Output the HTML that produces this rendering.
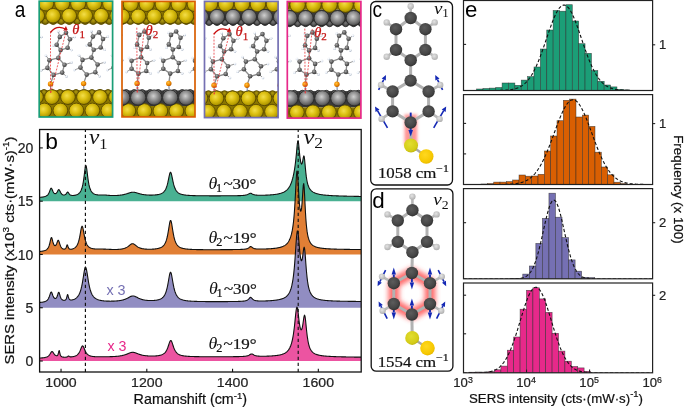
<!DOCTYPE html>
<html><head><meta charset="utf-8"><style>
html,body{margin:0;padding:0;background:#fff;width:685px;height:407px;overflow:hidden}
svg{display:block;will-change:transform;font-family:"Liberation Sans",sans-serif}
</style></head><body>
<svg width="685" height="407" viewBox="0 0 685 407">
<defs>
<radialGradient id="gAu" cx="0.42" cy="0.4" r="0.62">
 <stop offset="0" stop-color="#f3de4a"/><stop offset="0.45" stop-color="#dcc012"/><stop offset="0.85" stop-color="#b39a00"/><stop offset="1" stop-color="#6e5c00"/>
</radialGradient>
<radialGradient id="gAg" cx="0.45" cy="0.4" r="0.62">
 <stop offset="0" stop-color="#d0d0d0"/><stop offset="0.4" stop-color="#999"/><stop offset="0.8" stop-color="#626262"/><stop offset="1" stop-color="#333"/>
</radialGradient>
<radialGradient id="gAuD" cx="0.5" cy="0.4" r="0.6">
 <stop offset="0" stop-color="#b09a10"/><stop offset="1" stop-color="#6a5a00"/>
</radialGradient>
<radialGradient id="gAgD" cx="0.5" cy="0.4" r="0.6">
 <stop offset="0" stop-color="#777"/><stop offset="1" stop-color="#3a3a3a"/>
</radialGradient>
<radialGradient id="gC" cx="0.4" cy="0.35" r="0.65">
 <stop offset="0" stop-color="#a8a8a8"/><stop offset="0.55" stop-color="#666"/><stop offset="1" stop-color="#383838"/>
</radialGradient>
<radialGradient id="gH" cx="0.4" cy="0.35" r="0.65">
 <stop offset="0" stop-color="#ffffff"/><stop offset="0.7" stop-color="#dfe6f0"/><stop offset="1" stop-color="#9aa6b8"/>
</radialGradient>
<radialGradient id="gS" cx="0.4" cy="0.35" r="0.65">
 <stop offset="0" stop-color="#ffc040"/><stop offset="0.6" stop-color="#f08c00"/><stop offset="1" stop-color="#b85a00"/>
</radialGradient>

<filter id="blur1" x="-50%" y="-50%" width="200%" height="200%"><feGaussianBlur stdDeviation="1.6"/></filter>
<filter id="blur2" x="-30%" y="-30%" width="160%" height="160%"><feGaussianBlur stdDeviation="2.4"/></filter>
<radialGradient id="gCb" cx="0.42" cy="0.38" r="0.62">
 <stop offset="0" stop-color="#5c5c5c"/><stop offset="0.7" stop-color="#464646"/><stop offset="1" stop-color="#333"/>
</radialGradient>
<radialGradient id="gHb" cx="0.42" cy="0.38" r="0.62">
 <stop offset="0" stop-color="#e4e4e4"/><stop offset="1" stop-color="#b0b0b0"/>
</radialGradient>
<radialGradient id="gSb" cx="0.42" cy="0.38" r="0.62">
 <stop offset="0" stop-color="#e2de30"/><stop offset="0.8" stop-color="#d4cc18"/><stop offset="1" stop-color="#c2b810"/>
</radialGradient>
<radialGradient id="gAub" cx="0.42" cy="0.38" r="0.62">
 <stop offset="0" stop-color="#ffd820"/><stop offset="0.8" stop-color="#f6c800"/><stop offset="1" stop-color="#e8b800"/>
</radialGradient>
</defs>
<rect width="685" height="407" fill="#fff"/>
<text transform="translate(14.8,16.9) scale(0.85,1)" font-family="Liberation Sans" font-size="22.4" fill="#000">a</text>
<clipPath id="clipA1"><rect x="39.2" y="1.2" width="73.4" height="115.8"/></clipPath>
<g clip-path="url(#clipA1)">
<rect x="39.2" y="1.2" width="73.4" height="115.8" fill="#fff"/>
<rect x="39.2" y="0" width="73.4" height="23.5" fill="#8a7600"/>
<circle cx="37.2" cy="21.3" r="3.2" fill="url(#gAuD)" stroke="#5a4a00" stroke-width="0.9"/>
<circle cx="45.2" cy="21.3" r="3.2" fill="url(#gAuD)" stroke="#5a4a00" stroke-width="0.9"/>
<circle cx="53.2" cy="21.3" r="3.2" fill="url(#gAuD)" stroke="#5a4a00" stroke-width="0.9"/>
<circle cx="61.2" cy="21.3" r="3.2" fill="url(#gAuD)" stroke="#5a4a00" stroke-width="0.9"/>
<circle cx="69.2" cy="21.3" r="3.2" fill="url(#gAuD)" stroke="#5a4a00" stroke-width="0.9"/>
<circle cx="77.2" cy="21.3" r="3.2" fill="url(#gAuD)" stroke="#5a4a00" stroke-width="0.9"/>
<circle cx="85.2" cy="21.3" r="3.2" fill="url(#gAuD)" stroke="#5a4a00" stroke-width="0.9"/>
<circle cx="93.2" cy="21.3" r="3.2" fill="url(#gAuD)" stroke="#5a4a00" stroke-width="0.9"/>
<circle cx="101.2" cy="21.3" r="3.2" fill="url(#gAuD)" stroke="#5a4a00" stroke-width="0.9"/>
<circle cx="109.2" cy="21.3" r="3.2" fill="url(#gAuD)" stroke="#5a4a00" stroke-width="0.9"/>
<circle cx="46.2" cy="3.5" r="7.6" fill="url(#gAu)" stroke="#5a4a00" stroke-width="0.9"/>
<circle cx="62.2" cy="3.5" r="7.6" fill="url(#gAu)" stroke="#5a4a00" stroke-width="0.9"/>
<circle cx="78.2" cy="3.5" r="7.6" fill="url(#gAu)" stroke="#5a4a00" stroke-width="0.9"/>
<circle cx="94.2" cy="3.5" r="7.6" fill="url(#gAu)" stroke="#5a4a00" stroke-width="0.9"/>
<circle cx="110.2" cy="3.5" r="7.6" fill="url(#gAu)" stroke="#5a4a00" stroke-width="0.9"/>
<circle cx="37.2" cy="15.8" r="7.4" fill="url(#gAu)" stroke="#5a4a00" stroke-width="0.9"/>
<circle cx="53.2" cy="15.8" r="7.4" fill="url(#gAu)" stroke="#5a4a00" stroke-width="0.9"/>
<circle cx="69.2" cy="15.8" r="7.4" fill="url(#gAu)" stroke="#5a4a00" stroke-width="0.9"/>
<circle cx="85.2" cy="15.8" r="7.4" fill="url(#gAu)" stroke="#5a4a00" stroke-width="0.9"/>
<circle cx="101.2" cy="15.8" r="7.4" fill="url(#gAu)" stroke="#5a4a00" stroke-width="0.9"/>
<circle cx="117.2" cy="15.8" r="7.4" fill="url(#gAu)" stroke="#5a4a00" stroke-width="0.9"/>
<rect x="39.2" y="90.1" width="73.4" height="28.9" fill="#8a7600"/>
<circle cx="44" cy="92.5" r="3" fill="url(#gAuD)" stroke="#5a4a00" stroke-width="0.9"/>
<circle cx="52" cy="92.5" r="3" fill="url(#gAuD)" stroke="#5a4a00" stroke-width="0.9"/>
<circle cx="60" cy="92.5" r="3" fill="url(#gAuD)" stroke="#5a4a00" stroke-width="0.9"/>
<circle cx="68" cy="92.5" r="3" fill="url(#gAuD)" stroke="#5a4a00" stroke-width="0.9"/>
<circle cx="76" cy="92.5" r="3" fill="url(#gAuD)" stroke="#5a4a00" stroke-width="0.9"/>
<circle cx="84" cy="92.5" r="3" fill="url(#gAuD)" stroke="#5a4a00" stroke-width="0.9"/>
<circle cx="92" cy="92.5" r="3" fill="url(#gAuD)" stroke="#5a4a00" stroke-width="0.9"/>
<circle cx="100" cy="92.5" r="3" fill="url(#gAuD)" stroke="#5a4a00" stroke-width="0.9"/>
<circle cx="108" cy="92.5" r="3" fill="url(#gAuD)" stroke="#5a4a00" stroke-width="0.9"/>
<circle cx="36" cy="97.1" r="7.4" fill="url(#gAu)" stroke="#5a4a00" stroke-width="0.9"/>
<circle cx="52" cy="97.1" r="7.4" fill="url(#gAu)" stroke="#5a4a00" stroke-width="0.9"/>
<circle cx="68" cy="97.1" r="7.4" fill="url(#gAu)" stroke="#5a4a00" stroke-width="0.9"/>
<circle cx="84" cy="97.1" r="7.4" fill="url(#gAu)" stroke="#5a4a00" stroke-width="0.9"/>
<circle cx="100" cy="97.1" r="7.4" fill="url(#gAu)" stroke="#5a4a00" stroke-width="0.9"/>
<circle cx="116" cy="97.1" r="7.4" fill="url(#gAu)" stroke="#5a4a00" stroke-width="0.9"/>
<circle cx="44.4" cy="110.5" r="7.4" fill="url(#gAu)" stroke="#5a4a00" stroke-width="0.9"/>
<circle cx="60.4" cy="110.5" r="7.4" fill="url(#gAu)" stroke="#5a4a00" stroke-width="0.9"/>
<circle cx="76.4" cy="110.5" r="7.4" fill="url(#gAu)" stroke="#5a4a00" stroke-width="0.9"/>
<circle cx="92.4" cy="110.5" r="7.4" fill="url(#gAu)" stroke="#5a4a00" stroke-width="0.9"/>
<circle cx="108.4" cy="110.5" r="7.4" fill="url(#gAu)" stroke="#5a4a00" stroke-width="0.9"/>
<line x1="20.5" y1="74.9" x2="14.3" y2="67.9" stroke="#8c8c8c" stroke-width="1.3" />
<line x1="14.3" y1="67.9" x2="16.3" y2="60.2" stroke="#8c8c8c" stroke-width="1.3" />
<line x1="16.3" y1="60.2" x2="25.2" y2="57.9" stroke="#8c8c8c" stroke-width="1.3" />
<line x1="25.2" y1="57.9" x2="31.4" y2="64.8" stroke="#8c8c8c" stroke-width="1.3" />
<line x1="31.4" y1="64.8" x2="29.1" y2="72.6" stroke="#8c8c8c" stroke-width="1.3" />
<line x1="29.1" y1="72.6" x2="20.5" y2="74.9" stroke="#8c8c8c" stroke-width="1.3" />
<line x1="27.5" y1="50.1" x2="23.6" y2="44.7" stroke="#8c8c8c" stroke-width="1.3" />
<line x1="23.6" y1="44.7" x2="26.7" y2="36.9" stroke="#8c8c8c" stroke-width="1.3" />
<line x1="26.7" y1="36.9" x2="32.9" y2="32.7" stroke="#8c8c8c" stroke-width="1.3" />
<line x1="32.9" y1="32.7" x2="36.8" y2="39.3" stroke="#8c8c8c" stroke-width="1.3" />
<line x1="36.8" y1="39.3" x2="34.5" y2="47.8" stroke="#8c8c8c" stroke-width="1.3" />
<line x1="34.5" y1="47.8" x2="27.5" y2="50.1" stroke="#8c8c8c" stroke-width="1.3" />
<line x1="25.2" y1="57.9" x2="27.5" y2="50.1" stroke="#8c8c8c" stroke-width="1.3" />
<line x1="17.4" y1="83.9" x2="20.5" y2="74.9" stroke="#8c8c8c" stroke-width="1.3" />
<line x1="12.8" y1="55.5" x2="16.3" y2="60.2" stroke="#9a9a9a" stroke-width="1" />
<line x1="8.1" y1="70.3" x2="14.3" y2="67.9" stroke="#9a9a9a" stroke-width="1" />
<line x1="38.4" y1="62.5" x2="31.4" y2="64.8" stroke="#9a9a9a" stroke-width="1" />
<line x1="33.4" y1="76.5" x2="29.1" y2="72.6" stroke="#9a9a9a" stroke-width="1" />
<line x1="25.2" y1="31.5" x2="26.7" y2="36.9" stroke="#9a9a9a" stroke-width="1" />
<line x1="20.5" y1="45.5" x2="23.6" y2="44.7" stroke="#9a9a9a" stroke-width="1" />
<line x1="41.5" y1="36.9" x2="36.8" y2="39.3" stroke="#9a9a9a" stroke-width="1" />
<line x1="38.4" y1="50.1" x2="34.5" y2="47.8" stroke="#9a9a9a" stroke-width="1" />
<line x1="17.4" y1="83.9" x2="17.7" y2="89.9" stroke="#6a7a9a" stroke-width="1" />
<circle cx="12.8" cy="55.5" r="1.25" fill="url(#gH)" />
<circle cx="8.1" cy="70.3" r="1.25" fill="url(#gH)" />
<circle cx="38.4" cy="62.5" r="1.25" fill="url(#gH)" />
<circle cx="33.4" cy="76.5" r="1.25" fill="url(#gH)" />
<circle cx="25.2" cy="31.5" r="1.25" fill="url(#gH)" />
<circle cx="20.5" cy="45.5" r="1.25" fill="url(#gH)" />
<circle cx="41.5" cy="36.9" r="1.25" fill="url(#gH)" />
<circle cx="38.4" cy="50.1" r="1.25" fill="url(#gH)" />
<circle cx="20.5" cy="74.9" r="2.3" fill="url(#gC)" />
<circle cx="14.3" cy="67.9" r="2.3" fill="url(#gC)" />
<circle cx="16.3" cy="60.2" r="2.3" fill="url(#gC)" />
<circle cx="25.2" cy="57.9" r="2.3" fill="url(#gC)" />
<circle cx="31.4" cy="64.8" r="2.3" fill="url(#gC)" />
<circle cx="29.1" cy="72.6" r="2.3" fill="url(#gC)" />
<circle cx="27.5" cy="50.1" r="2.3" fill="url(#gC)" />
<circle cx="23.6" cy="44.7" r="2.3" fill="url(#gC)" />
<circle cx="26.7" cy="36.9" r="2.3" fill="url(#gC)" />
<circle cx="32.9" cy="32.7" r="2.3" fill="url(#gC)" />
<circle cx="36.8" cy="39.3" r="2.3" fill="url(#gC)" />
<circle cx="34.5" cy="47.8" r="2.3" fill="url(#gC)" />
<circle cx="17.4" cy="83.9" r="2.7" fill="url(#gS)" />
<line x1="53.6" y1="74.9" x2="47.4" y2="67.9" stroke="#8c8c8c" stroke-width="1.3" />
<line x1="47.4" y1="67.9" x2="49.4" y2="60.2" stroke="#8c8c8c" stroke-width="1.3" />
<line x1="49.4" y1="60.2" x2="58.3" y2="57.9" stroke="#8c8c8c" stroke-width="1.3" />
<line x1="58.3" y1="57.9" x2="64.5" y2="64.8" stroke="#8c8c8c" stroke-width="1.3" />
<line x1="64.5" y1="64.8" x2="62.2" y2="72.6" stroke="#8c8c8c" stroke-width="1.3" />
<line x1="62.2" y1="72.6" x2="53.6" y2="74.9" stroke="#8c8c8c" stroke-width="1.3" />
<line x1="60.6" y1="50.1" x2="56.7" y2="44.7" stroke="#8c8c8c" stroke-width="1.3" />
<line x1="56.7" y1="44.7" x2="59.8" y2="36.9" stroke="#8c8c8c" stroke-width="1.3" />
<line x1="59.8" y1="36.9" x2="66" y2="32.7" stroke="#8c8c8c" stroke-width="1.3" />
<line x1="66" y1="32.7" x2="69.9" y2="39.3" stroke="#8c8c8c" stroke-width="1.3" />
<line x1="69.9" y1="39.3" x2="67.6" y2="47.8" stroke="#8c8c8c" stroke-width="1.3" />
<line x1="67.6" y1="47.8" x2="60.6" y2="50.1" stroke="#8c8c8c" stroke-width="1.3" />
<line x1="58.3" y1="57.9" x2="60.6" y2="50.1" stroke="#8c8c8c" stroke-width="1.3" />
<line x1="50.5" y1="83.9" x2="53.6" y2="74.9" stroke="#8c8c8c" stroke-width="1.3" />
<line x1="45.9" y1="55.5" x2="49.4" y2="60.2" stroke="#9a9a9a" stroke-width="1" />
<line x1="41.2" y1="70.3" x2="47.4" y2="67.9" stroke="#9a9a9a" stroke-width="1" />
<line x1="71.5" y1="62.5" x2="64.5" y2="64.8" stroke="#9a9a9a" stroke-width="1" />
<line x1="66.5" y1="76.5" x2="62.2" y2="72.6" stroke="#9a9a9a" stroke-width="1" />
<line x1="58.3" y1="31.5" x2="59.8" y2="36.9" stroke="#9a9a9a" stroke-width="1" />
<line x1="53.6" y1="45.5" x2="56.7" y2="44.7" stroke="#9a9a9a" stroke-width="1" />
<line x1="74.6" y1="36.9" x2="69.9" y2="39.3" stroke="#9a9a9a" stroke-width="1" />
<line x1="71.5" y1="50.1" x2="67.6" y2="47.8" stroke="#9a9a9a" stroke-width="1" />
<line x1="50.5" y1="83.9" x2="50.8" y2="89.9" stroke="#6a7a9a" stroke-width="1" />
<circle cx="45.9" cy="55.5" r="1.25" fill="url(#gH)" />
<circle cx="41.2" cy="70.3" r="1.25" fill="url(#gH)" />
<circle cx="71.5" cy="62.5" r="1.25" fill="url(#gH)" />
<circle cx="66.5" cy="76.5" r="1.25" fill="url(#gH)" />
<circle cx="58.3" cy="31.5" r="1.25" fill="url(#gH)" />
<circle cx="53.6" cy="45.5" r="1.25" fill="url(#gH)" />
<circle cx="74.6" cy="36.9" r="1.25" fill="url(#gH)" />
<circle cx="71.5" cy="50.1" r="1.25" fill="url(#gH)" />
<circle cx="53.6" cy="74.9" r="2.3" fill="url(#gC)" />
<circle cx="47.4" cy="67.9" r="2.3" fill="url(#gC)" />
<circle cx="49.4" cy="60.2" r="2.3" fill="url(#gC)" />
<circle cx="58.3" cy="57.9" r="2.3" fill="url(#gC)" />
<circle cx="64.5" cy="64.8" r="2.3" fill="url(#gC)" />
<circle cx="62.2" cy="72.6" r="2.3" fill="url(#gC)" />
<circle cx="60.6" cy="50.1" r="2.3" fill="url(#gC)" />
<circle cx="56.7" cy="44.7" r="2.3" fill="url(#gC)" />
<circle cx="59.8" cy="36.9" r="2.3" fill="url(#gC)" />
<circle cx="66" cy="32.7" r="2.3" fill="url(#gC)" />
<circle cx="69.9" cy="39.3" r="2.3" fill="url(#gC)" />
<circle cx="67.6" cy="47.8" r="2.3" fill="url(#gC)" />
<circle cx="50.5" cy="83.9" r="2.7" fill="url(#gS)" />
<line x1="86.7" y1="74.6" x2="80.5" y2="67.6" stroke="#8c8c8c" stroke-width="1.3" />
<line x1="80.5" y1="67.6" x2="82.5" y2="59.9" stroke="#8c8c8c" stroke-width="1.3" />
<line x1="82.5" y1="59.9" x2="91.4" y2="57.6" stroke="#8c8c8c" stroke-width="1.3" />
<line x1="91.4" y1="57.6" x2="97.6" y2="64.5" stroke="#8c8c8c" stroke-width="1.3" />
<line x1="97.6" y1="64.5" x2="95.3" y2="72.3" stroke="#8c8c8c" stroke-width="1.3" />
<line x1="95.3" y1="72.3" x2="86.7" y2="74.6" stroke="#8c8c8c" stroke-width="1.3" />
<line x1="93.7" y1="49.8" x2="89.8" y2="44.4" stroke="#8c8c8c" stroke-width="1.3" />
<line x1="89.8" y1="44.4" x2="92.9" y2="36.6" stroke="#8c8c8c" stroke-width="1.3" />
<line x1="92.9" y1="36.6" x2="99.1" y2="32.4" stroke="#8c8c8c" stroke-width="1.3" />
<line x1="99.1" y1="32.4" x2="103" y2="39" stroke="#8c8c8c" stroke-width="1.3" />
<line x1="103" y1="39" x2="100.7" y2="47.5" stroke="#8c8c8c" stroke-width="1.3" />
<line x1="100.7" y1="47.5" x2="93.7" y2="49.8" stroke="#8c8c8c" stroke-width="1.3" />
<line x1="91.4" y1="57.6" x2="93.7" y2="49.8" stroke="#8c8c8c" stroke-width="1.3" />
<line x1="83.6" y1="83.6" x2="86.7" y2="74.6" stroke="#8c8c8c" stroke-width="1.3" />
<line x1="79" y1="55.2" x2="82.5" y2="59.9" stroke="#9a9a9a" stroke-width="1" />
<line x1="74.3" y1="70" x2="80.5" y2="67.6" stroke="#9a9a9a" stroke-width="1" />
<line x1="104.6" y1="62.2" x2="97.6" y2="64.5" stroke="#9a9a9a" stroke-width="1" />
<line x1="99.6" y1="76.2" x2="95.3" y2="72.3" stroke="#9a9a9a" stroke-width="1" />
<line x1="91.4" y1="31.2" x2="92.9" y2="36.6" stroke="#9a9a9a" stroke-width="1" />
<line x1="86.7" y1="45.2" x2="89.8" y2="44.4" stroke="#9a9a9a" stroke-width="1" />
<line x1="107.7" y1="36.6" x2="103" y2="39" stroke="#9a9a9a" stroke-width="1" />
<line x1="104.6" y1="49.8" x2="100.7" y2="47.5" stroke="#9a9a9a" stroke-width="1" />
<line x1="83.6" y1="83.6" x2="83.9" y2="89.6" stroke="#6a7a9a" stroke-width="1" />
<circle cx="79" cy="55.2" r="1.25" fill="url(#gH)" />
<circle cx="74.3" cy="70" r="1.25" fill="url(#gH)" />
<circle cx="104.6" cy="62.2" r="1.25" fill="url(#gH)" />
<circle cx="99.6" cy="76.2" r="1.25" fill="url(#gH)" />
<circle cx="91.4" cy="31.2" r="1.25" fill="url(#gH)" />
<circle cx="86.7" cy="45.2" r="1.25" fill="url(#gH)" />
<circle cx="107.7" cy="36.6" r="1.25" fill="url(#gH)" />
<circle cx="104.6" cy="49.8" r="1.25" fill="url(#gH)" />
<circle cx="86.7" cy="74.6" r="2.3" fill="url(#gC)" />
<circle cx="80.5" cy="67.6" r="2.3" fill="url(#gC)" />
<circle cx="82.5" cy="59.9" r="2.3" fill="url(#gC)" />
<circle cx="91.4" cy="57.6" r="2.3" fill="url(#gC)" />
<circle cx="97.6" cy="64.5" r="2.3" fill="url(#gC)" />
<circle cx="95.3" cy="72.3" r="2.3" fill="url(#gC)" />
<circle cx="93.7" cy="49.8" r="2.3" fill="url(#gC)" />
<circle cx="89.8" cy="44.4" r="2.3" fill="url(#gC)" />
<circle cx="92.9" cy="36.6" r="2.3" fill="url(#gC)" />
<circle cx="99.1" cy="32.4" r="2.3" fill="url(#gC)" />
<circle cx="103" cy="39" r="2.3" fill="url(#gC)" />
<circle cx="100.7" cy="47.5" r="2.3" fill="url(#gC)" />
<circle cx="83.6" cy="83.6" r="2.7" fill="url(#gS)" />
<line x1="119.8" y1="74.6" x2="113.6" y2="67.6" stroke="#8c8c8c" stroke-width="1.3" />
<line x1="113.6" y1="67.6" x2="115.6" y2="59.9" stroke="#8c8c8c" stroke-width="1.3" />
<line x1="115.6" y1="59.9" x2="124.5" y2="57.6" stroke="#8c8c8c" stroke-width="1.3" />
<line x1="124.5" y1="57.6" x2="130.7" y2="64.5" stroke="#8c8c8c" stroke-width="1.3" />
<line x1="130.7" y1="64.5" x2="128.4" y2="72.3" stroke="#8c8c8c" stroke-width="1.3" />
<line x1="128.4" y1="72.3" x2="119.8" y2="74.6" stroke="#8c8c8c" stroke-width="1.3" />
<line x1="126.8" y1="49.8" x2="122.9" y2="44.4" stroke="#8c8c8c" stroke-width="1.3" />
<line x1="122.9" y1="44.4" x2="126" y2="36.6" stroke="#8c8c8c" stroke-width="1.3" />
<line x1="126" y1="36.6" x2="132.2" y2="32.4" stroke="#8c8c8c" stroke-width="1.3" />
<line x1="132.2" y1="32.4" x2="136.1" y2="39" stroke="#8c8c8c" stroke-width="1.3" />
<line x1="136.1" y1="39" x2="133.8" y2="47.5" stroke="#8c8c8c" stroke-width="1.3" />
<line x1="133.8" y1="47.5" x2="126.8" y2="49.8" stroke="#8c8c8c" stroke-width="1.3" />
<line x1="124.5" y1="57.6" x2="126.8" y2="49.8" stroke="#8c8c8c" stroke-width="1.3" />
<line x1="116.7" y1="83.6" x2="119.8" y2="74.6" stroke="#8c8c8c" stroke-width="1.3" />
<line x1="112.1" y1="55.2" x2="115.6" y2="59.9" stroke="#9a9a9a" stroke-width="1" />
<line x1="107.4" y1="70" x2="113.6" y2="67.6" stroke="#9a9a9a" stroke-width="1" />
<line x1="137.7" y1="62.2" x2="130.7" y2="64.5" stroke="#9a9a9a" stroke-width="1" />
<line x1="132.7" y1="76.2" x2="128.4" y2="72.3" stroke="#9a9a9a" stroke-width="1" />
<line x1="124.5" y1="31.2" x2="126" y2="36.6" stroke="#9a9a9a" stroke-width="1" />
<line x1="119.8" y1="45.2" x2="122.9" y2="44.4" stroke="#9a9a9a" stroke-width="1" />
<line x1="140.8" y1="36.6" x2="136.1" y2="39" stroke="#9a9a9a" stroke-width="1" />
<line x1="137.7" y1="49.8" x2="133.8" y2="47.5" stroke="#9a9a9a" stroke-width="1" />
<line x1="116.7" y1="83.6" x2="117" y2="89.6" stroke="#6a7a9a" stroke-width="1" />
<circle cx="112.1" cy="55.2" r="1.25" fill="url(#gH)" />
<circle cx="107.4" cy="70" r="1.25" fill="url(#gH)" />
<circle cx="137.7" cy="62.2" r="1.25" fill="url(#gH)" />
<circle cx="132.7" cy="76.2" r="1.25" fill="url(#gH)" />
<circle cx="124.5" cy="31.2" r="1.25" fill="url(#gH)" />
<circle cx="119.8" cy="45.2" r="1.25" fill="url(#gH)" />
<circle cx="140.8" cy="36.6" r="1.25" fill="url(#gH)" />
<circle cx="137.7" cy="49.8" r="1.25" fill="url(#gH)" />
<circle cx="119.8" cy="74.6" r="2.3" fill="url(#gC)" />
<circle cx="113.6" cy="67.6" r="2.3" fill="url(#gC)" />
<circle cx="115.6" cy="59.9" r="2.3" fill="url(#gC)" />
<circle cx="124.5" cy="57.6" r="2.3" fill="url(#gC)" />
<circle cx="130.7" cy="64.5" r="2.3" fill="url(#gC)" />
<circle cx="128.4" cy="72.3" r="2.3" fill="url(#gC)" />
<circle cx="126.8" cy="49.8" r="2.3" fill="url(#gC)" />
<circle cx="122.9" cy="44.4" r="2.3" fill="url(#gC)" />
<circle cx="126" cy="36.6" r="2.3" fill="url(#gC)" />
<circle cx="132.2" cy="32.4" r="2.3" fill="url(#gC)" />
<circle cx="136.1" cy="39" r="2.3" fill="url(#gC)" />
<circle cx="133.8" cy="47.5" r="2.3" fill="url(#gC)" />
<circle cx="116.7" cy="83.6" r="2.7" fill="url(#gS)" />
<line x1="50.5" y1="92.9" x2="50.5" y2="30.5" stroke="#e8383c" stroke-width="0.8" stroke-dasharray="2,1.3"/>
<line x1="50.8" y1="92.9" x2="66.5" y2="29.5" stroke="#e8383c" stroke-width="0.8" stroke-dasharray="2,1.3"/>
<path d="M50.5,32.5 Q56.5,24.5 65.5,29" fill="none" stroke="#c81010" stroke-width="1.3"/>
<path d="M67.7,30.1 L63.3,30.7 L65.9,26.1 Z" fill="#c81010"/>
</g>
<rect x="39.2" y="1.2" width="73.4" height="115.8" fill="none" stroke="#1b9e77" stroke-width="1.7"/>
<text x="72.3" y="34.3" font-family="Liberation Serif" font-style="italic" font-size="14.5" fill="#c41414" stroke="#c41414" stroke-width="0.25">&#952;<tspan font-style="normal" font-size="11" dy="3.2">1</tspan></text>
<clipPath id="clipA2"><rect x="122" y="1.4" width="73" height="115.5"/></clipPath>
<g clip-path="url(#clipA2)">
<rect x="122" y="1.4" width="73" height="115.5" fill="#fff"/>
<rect x="122" y="0" width="73" height="23.5" fill="#8a7600"/>
<circle cx="122.3" cy="21.3" r="3.2" fill="url(#gAuD)" stroke="#5a4a00" stroke-width="0.9"/>
<circle cx="130.3" cy="21.3" r="3.2" fill="url(#gAuD)" stroke="#5a4a00" stroke-width="0.9"/>
<circle cx="138.3" cy="21.3" r="3.2" fill="url(#gAuD)" stroke="#5a4a00" stroke-width="0.9"/>
<circle cx="146.3" cy="21.3" r="3.2" fill="url(#gAuD)" stroke="#5a4a00" stroke-width="0.9"/>
<circle cx="154.3" cy="21.3" r="3.2" fill="url(#gAuD)" stroke="#5a4a00" stroke-width="0.9"/>
<circle cx="162.3" cy="21.3" r="3.2" fill="url(#gAuD)" stroke="#5a4a00" stroke-width="0.9"/>
<circle cx="170.3" cy="21.3" r="3.2" fill="url(#gAuD)" stroke="#5a4a00" stroke-width="0.9"/>
<circle cx="178.3" cy="21.3" r="3.2" fill="url(#gAuD)" stroke="#5a4a00" stroke-width="0.9"/>
<circle cx="186.3" cy="21.3" r="3.2" fill="url(#gAuD)" stroke="#5a4a00" stroke-width="0.9"/>
<circle cx="194.3" cy="21.3" r="3.2" fill="url(#gAuD)" stroke="#5a4a00" stroke-width="0.9"/>
<circle cx="114.7" cy="4" r="7.6" fill="url(#gAu)" stroke="#5a4a00" stroke-width="0.9"/>
<circle cx="130.7" cy="4" r="7.6" fill="url(#gAu)" stroke="#5a4a00" stroke-width="0.9"/>
<circle cx="146.7" cy="4" r="7.6" fill="url(#gAu)" stroke="#5a4a00" stroke-width="0.9"/>
<circle cx="162.7" cy="4" r="7.6" fill="url(#gAu)" stroke="#5a4a00" stroke-width="0.9"/>
<circle cx="178.7" cy="4" r="7.6" fill="url(#gAu)" stroke="#5a4a00" stroke-width="0.9"/>
<circle cx="194.7" cy="4" r="7.6" fill="url(#gAu)" stroke="#5a4a00" stroke-width="0.9"/>
<circle cx="122.3" cy="16.4" r="7.4" fill="url(#gAu)" stroke="#5a4a00" stroke-width="0.9"/>
<circle cx="138.3" cy="16.4" r="7.4" fill="url(#gAu)" stroke="#5a4a00" stroke-width="0.9"/>
<circle cx="154.3" cy="16.4" r="7.4" fill="url(#gAu)" stroke="#5a4a00" stroke-width="0.9"/>
<circle cx="170.3" cy="16.4" r="7.4" fill="url(#gAu)" stroke="#5a4a00" stroke-width="0.9"/>
<circle cx="186.3" cy="16.4" r="7.4" fill="url(#gAu)" stroke="#5a4a00" stroke-width="0.9"/>
<circle cx="202.3" cy="16.4" r="7.4" fill="url(#gAu)" stroke="#5a4a00" stroke-width="0.9"/>
<rect x="122" y="90.4" width="73" height="15.6" fill="#3a3a3a"/>
<rect x="122" y="106" width="73" height="13" fill="#8a7600"/>
<circle cx="126.2" cy="92.6" r="3" fill="url(#gAgD)" stroke="#2a2a2a" stroke-width="0.9"/>
<circle cx="134.2" cy="92.6" r="3" fill="url(#gAgD)" stroke="#2a2a2a" stroke-width="0.9"/>
<circle cx="142.2" cy="92.6" r="3" fill="url(#gAgD)" stroke="#2a2a2a" stroke-width="0.9"/>
<circle cx="150.2" cy="92.6" r="3" fill="url(#gAgD)" stroke="#2a2a2a" stroke-width="0.9"/>
<circle cx="158.2" cy="92.6" r="3" fill="url(#gAgD)" stroke="#2a2a2a" stroke-width="0.9"/>
<circle cx="166.2" cy="92.6" r="3" fill="url(#gAgD)" stroke="#2a2a2a" stroke-width="0.9"/>
<circle cx="174.2" cy="92.6" r="3" fill="url(#gAgD)" stroke="#2a2a2a" stroke-width="0.9"/>
<circle cx="182.2" cy="92.6" r="3" fill="url(#gAgD)" stroke="#2a2a2a" stroke-width="0.9"/>
<circle cx="190.2" cy="92.6" r="3" fill="url(#gAgD)" stroke="#2a2a2a" stroke-width="0.9"/>
<circle cx="128.4" cy="111" r="7.4" fill="url(#gAu)" stroke="#5a4a00" stroke-width="0.9"/>
<circle cx="144.4" cy="111" r="7.4" fill="url(#gAu)" stroke="#5a4a00" stroke-width="0.9"/>
<circle cx="160.4" cy="111" r="7.4" fill="url(#gAu)" stroke="#5a4a00" stroke-width="0.9"/>
<circle cx="176.4" cy="111" r="7.4" fill="url(#gAu)" stroke="#5a4a00" stroke-width="0.9"/>
<circle cx="192.4" cy="111" r="7.4" fill="url(#gAu)" stroke="#5a4a00" stroke-width="0.9"/>
<circle cx="122.2" cy="97.6" r="7.7" fill="url(#gAg)" stroke="#2a2a2a" stroke-width="0.9"/>
<circle cx="138.2" cy="97.6" r="7.7" fill="url(#gAg)" stroke="#2a2a2a" stroke-width="0.9"/>
<circle cx="154.2" cy="97.6" r="7.7" fill="url(#gAg)" stroke="#2a2a2a" stroke-width="0.9"/>
<circle cx="170.2" cy="97.6" r="7.7" fill="url(#gAg)" stroke="#2a2a2a" stroke-width="0.9"/>
<circle cx="186.2" cy="97.6" r="7.7" fill="url(#gAg)" stroke="#2a2a2a" stroke-width="0.9"/>
<circle cx="202.2" cy="97.6" r="7.7" fill="url(#gAg)" stroke="#2a2a2a" stroke-width="0.9"/>
<line x1="106.8" y1="73.6" x2="99.9" y2="68.8" stroke="#8c8c8c" stroke-width="1.3" />
<line x1="99.9" y1="68.8" x2="99.9" y2="60.7" stroke="#8c8c8c" stroke-width="1.3" />
<line x1="99.9" y1="60.7" x2="109.4" y2="57.3" stroke="#8c8c8c" stroke-width="1.3" />
<line x1="109.4" y1="57.3" x2="115.4" y2="63" stroke="#8c8c8c" stroke-width="1.3" />
<line x1="115.4" y1="63" x2="114.5" y2="71" stroke="#8c8c8c" stroke-width="1.3" />
<line x1="114.5" y1="71" x2="106.8" y2="73.6" stroke="#8c8c8c" stroke-width="1.3" />
<line x1="109.4" y1="49.5" x2="105.4" y2="44.4" stroke="#8c8c8c" stroke-width="1.3" />
<line x1="105.4" y1="44.4" x2="107.6" y2="34.9" stroke="#8c8c8c" stroke-width="1.3" />
<line x1="107.6" y1="34.9" x2="112.8" y2="31.5" stroke="#8c8c8c" stroke-width="1.3" />
<line x1="112.8" y1="31.5" x2="117.1" y2="37.8" stroke="#8c8c8c" stroke-width="1.3" />
<line x1="117.1" y1="37.8" x2="115.4" y2="47" stroke="#8c8c8c" stroke-width="1.3" />
<line x1="115.4" y1="47" x2="109.4" y2="49.5" stroke="#8c8c8c" stroke-width="1.3" />
<line x1="109.4" y1="57.3" x2="109.4" y2="49.5" stroke="#8c8c8c" stroke-width="1.3" />
<line x1="105.4" y1="83.4" x2="106.8" y2="73.6" stroke="#8c8c8c" stroke-width="1.3" />
<line x1="97.3" y1="58.1" x2="99.9" y2="60.7" stroke="#9a9a9a" stroke-width="1" />
<line x1="94.7" y1="71.9" x2="99.9" y2="68.8" stroke="#9a9a9a" stroke-width="1" />
<line x1="122.3" y1="60.2" x2="115.4" y2="63" stroke="#9a9a9a" stroke-width="1" />
<line x1="118.8" y1="73.6" x2="114.5" y2="71" stroke="#9a9a9a" stroke-width="1" />
<line x1="103" y1="47.8" x2="105.4" y2="44.4" stroke="#9a9a9a" stroke-width="1" />
<line x1="105.1" y1="32.7" x2="107.6" y2="34.9" stroke="#9a9a9a" stroke-width="1" />
<line x1="121.4" y1="34.9" x2="117.1" y2="37.8" stroke="#9a9a9a" stroke-width="1" />
<line x1="118.8" y1="49.5" x2="115.4" y2="47" stroke="#9a9a9a" stroke-width="1" />
<line x1="105.4" y1="83.4" x2="105.7" y2="89.4" stroke="#6a7a9a" stroke-width="1" />
<circle cx="97.3" cy="58.1" r="1.25" fill="url(#gH)" />
<circle cx="94.7" cy="71.9" r="1.25" fill="url(#gH)" />
<circle cx="122.3" cy="60.2" r="1.25" fill="url(#gH)" />
<circle cx="118.8" cy="73.6" r="1.25" fill="url(#gH)" />
<circle cx="103" cy="47.8" r="1.25" fill="url(#gH)" />
<circle cx="105.1" cy="32.7" r="1.25" fill="url(#gH)" />
<circle cx="121.4" cy="34.9" r="1.25" fill="url(#gH)" />
<circle cx="118.8" cy="49.5" r="1.25" fill="url(#gH)" />
<circle cx="106.8" cy="73.6" r="2.3" fill="url(#gC)" />
<circle cx="99.9" cy="68.8" r="2.3" fill="url(#gC)" />
<circle cx="99.9" cy="60.7" r="2.3" fill="url(#gC)" />
<circle cx="109.4" cy="57.3" r="2.3" fill="url(#gC)" />
<circle cx="115.4" cy="63" r="2.3" fill="url(#gC)" />
<circle cx="114.5" cy="71" r="2.3" fill="url(#gC)" />
<circle cx="109.4" cy="49.5" r="2.3" fill="url(#gC)" />
<circle cx="105.4" cy="44.4" r="2.3" fill="url(#gC)" />
<circle cx="107.6" cy="34.9" r="2.3" fill="url(#gC)" />
<circle cx="112.8" cy="31.5" r="2.3" fill="url(#gC)" />
<circle cx="117.1" cy="37.8" r="2.3" fill="url(#gC)" />
<circle cx="115.4" cy="47" r="2.3" fill="url(#gC)" />
<circle cx="105.4" cy="83.4" r="2.7" fill="url(#gS)" />
<line x1="138.5" y1="73.6" x2="131.6" y2="68.8" stroke="#8c8c8c" stroke-width="1.3" />
<line x1="131.6" y1="68.8" x2="131.6" y2="60.7" stroke="#8c8c8c" stroke-width="1.3" />
<line x1="131.6" y1="60.7" x2="141.1" y2="57.3" stroke="#8c8c8c" stroke-width="1.3" />
<line x1="141.1" y1="57.3" x2="147.1" y2="63" stroke="#8c8c8c" stroke-width="1.3" />
<line x1="147.1" y1="63" x2="146.2" y2="71" stroke="#8c8c8c" stroke-width="1.3" />
<line x1="146.2" y1="71" x2="138.5" y2="73.6" stroke="#8c8c8c" stroke-width="1.3" />
<line x1="141.1" y1="49.5" x2="137.1" y2="44.4" stroke="#8c8c8c" stroke-width="1.3" />
<line x1="137.1" y1="44.4" x2="139.3" y2="34.9" stroke="#8c8c8c" stroke-width="1.3" />
<line x1="139.3" y1="34.9" x2="144.5" y2="31.5" stroke="#8c8c8c" stroke-width="1.3" />
<line x1="144.5" y1="31.5" x2="148.8" y2="37.8" stroke="#8c8c8c" stroke-width="1.3" />
<line x1="148.8" y1="37.8" x2="147.1" y2="47" stroke="#8c8c8c" stroke-width="1.3" />
<line x1="147.1" y1="47" x2="141.1" y2="49.5" stroke="#8c8c8c" stroke-width="1.3" />
<line x1="141.1" y1="57.3" x2="141.1" y2="49.5" stroke="#8c8c8c" stroke-width="1.3" />
<line x1="137.1" y1="83.4" x2="138.5" y2="73.6" stroke="#8c8c8c" stroke-width="1.3" />
<line x1="129" y1="58.1" x2="131.6" y2="60.7" stroke="#9a9a9a" stroke-width="1" />
<line x1="126.4" y1="71.9" x2="131.6" y2="68.8" stroke="#9a9a9a" stroke-width="1" />
<line x1="154" y1="60.2" x2="147.1" y2="63" stroke="#9a9a9a" stroke-width="1" />
<line x1="150.5" y1="73.6" x2="146.2" y2="71" stroke="#9a9a9a" stroke-width="1" />
<line x1="134.7" y1="47.8" x2="137.1" y2="44.4" stroke="#9a9a9a" stroke-width="1" />
<line x1="136.8" y1="32.7" x2="139.3" y2="34.9" stroke="#9a9a9a" stroke-width="1" />
<line x1="153.1" y1="34.9" x2="148.8" y2="37.8" stroke="#9a9a9a" stroke-width="1" />
<line x1="150.5" y1="49.5" x2="147.1" y2="47" stroke="#9a9a9a" stroke-width="1" />
<line x1="137.1" y1="83.4" x2="137.4" y2="89.4" stroke="#6a7a9a" stroke-width="1" />
<circle cx="129" cy="58.1" r="1.25" fill="url(#gH)" />
<circle cx="126.4" cy="71.9" r="1.25" fill="url(#gH)" />
<circle cx="154" cy="60.2" r="1.25" fill="url(#gH)" />
<circle cx="150.5" cy="73.6" r="1.25" fill="url(#gH)" />
<circle cx="134.7" cy="47.8" r="1.25" fill="url(#gH)" />
<circle cx="136.8" cy="32.7" r="1.25" fill="url(#gH)" />
<circle cx="153.1" cy="34.9" r="1.25" fill="url(#gH)" />
<circle cx="150.5" cy="49.5" r="1.25" fill="url(#gH)" />
<circle cx="138.5" cy="73.6" r="2.3" fill="url(#gC)" />
<circle cx="131.6" cy="68.8" r="2.3" fill="url(#gC)" />
<circle cx="131.6" cy="60.7" r="2.3" fill="url(#gC)" />
<circle cx="141.1" cy="57.3" r="2.3" fill="url(#gC)" />
<circle cx="147.1" cy="63" r="2.3" fill="url(#gC)" />
<circle cx="146.2" cy="71" r="2.3" fill="url(#gC)" />
<circle cx="141.1" cy="49.5" r="2.3" fill="url(#gC)" />
<circle cx="137.1" cy="44.4" r="2.3" fill="url(#gC)" />
<circle cx="139.3" cy="34.9" r="2.3" fill="url(#gC)" />
<circle cx="144.5" cy="31.5" r="2.3" fill="url(#gC)" />
<circle cx="148.8" cy="37.8" r="2.3" fill="url(#gC)" />
<circle cx="147.1" cy="47" r="2.3" fill="url(#gC)" />
<circle cx="137.1" cy="83.4" r="2.7" fill="url(#gS)" />
<line x1="170.2" y1="73.6" x2="163.3" y2="68.8" stroke="#8c8c8c" stroke-width="1.3" />
<line x1="163.3" y1="68.8" x2="163.3" y2="60.7" stroke="#8c8c8c" stroke-width="1.3" />
<line x1="163.3" y1="60.7" x2="172.8" y2="57.3" stroke="#8c8c8c" stroke-width="1.3" />
<line x1="172.8" y1="57.3" x2="178.8" y2="63" stroke="#8c8c8c" stroke-width="1.3" />
<line x1="178.8" y1="63" x2="177.9" y2="71" stroke="#8c8c8c" stroke-width="1.3" />
<line x1="177.9" y1="71" x2="170.2" y2="73.6" stroke="#8c8c8c" stroke-width="1.3" />
<line x1="172.8" y1="49.5" x2="168.8" y2="44.4" stroke="#8c8c8c" stroke-width="1.3" />
<line x1="168.8" y1="44.4" x2="171" y2="34.9" stroke="#8c8c8c" stroke-width="1.3" />
<line x1="171" y1="34.9" x2="176.2" y2="31.5" stroke="#8c8c8c" stroke-width="1.3" />
<line x1="176.2" y1="31.5" x2="180.5" y2="37.8" stroke="#8c8c8c" stroke-width="1.3" />
<line x1="180.5" y1="37.8" x2="178.8" y2="47" stroke="#8c8c8c" stroke-width="1.3" />
<line x1="178.8" y1="47" x2="172.8" y2="49.5" stroke="#8c8c8c" stroke-width="1.3" />
<line x1="172.8" y1="57.3" x2="172.8" y2="49.5" stroke="#8c8c8c" stroke-width="1.3" />
<line x1="168.8" y1="83.4" x2="170.2" y2="73.6" stroke="#8c8c8c" stroke-width="1.3" />
<line x1="160.7" y1="58.1" x2="163.3" y2="60.7" stroke="#9a9a9a" stroke-width="1" />
<line x1="158.1" y1="71.9" x2="163.3" y2="68.8" stroke="#9a9a9a" stroke-width="1" />
<line x1="185.7" y1="60.2" x2="178.8" y2="63" stroke="#9a9a9a" stroke-width="1" />
<line x1="182.2" y1="73.6" x2="177.9" y2="71" stroke="#9a9a9a" stroke-width="1" />
<line x1="166.4" y1="47.8" x2="168.8" y2="44.4" stroke="#9a9a9a" stroke-width="1" />
<line x1="168.5" y1="32.7" x2="171" y2="34.9" stroke="#9a9a9a" stroke-width="1" />
<line x1="184.8" y1="34.9" x2="180.5" y2="37.8" stroke="#9a9a9a" stroke-width="1" />
<line x1="182.2" y1="49.5" x2="178.8" y2="47" stroke="#9a9a9a" stroke-width="1" />
<line x1="168.8" y1="83.4" x2="169.1" y2="89.4" stroke="#6a7a9a" stroke-width="1" />
<circle cx="160.7" cy="58.1" r="1.25" fill="url(#gH)" />
<circle cx="158.1" cy="71.9" r="1.25" fill="url(#gH)" />
<circle cx="185.7" cy="60.2" r="1.25" fill="url(#gH)" />
<circle cx="182.2" cy="73.6" r="1.25" fill="url(#gH)" />
<circle cx="166.4" cy="47.8" r="1.25" fill="url(#gH)" />
<circle cx="168.5" cy="32.7" r="1.25" fill="url(#gH)" />
<circle cx="184.8" cy="34.9" r="1.25" fill="url(#gH)" />
<circle cx="182.2" cy="49.5" r="1.25" fill="url(#gH)" />
<circle cx="170.2" cy="73.6" r="2.3" fill="url(#gC)" />
<circle cx="163.3" cy="68.8" r="2.3" fill="url(#gC)" />
<circle cx="163.3" cy="60.7" r="2.3" fill="url(#gC)" />
<circle cx="172.8" cy="57.3" r="2.3" fill="url(#gC)" />
<circle cx="178.8" cy="63" r="2.3" fill="url(#gC)" />
<circle cx="177.9" cy="71" r="2.3" fill="url(#gC)" />
<circle cx="172.8" cy="49.5" r="2.3" fill="url(#gC)" />
<circle cx="168.8" cy="44.4" r="2.3" fill="url(#gC)" />
<circle cx="171" cy="34.9" r="2.3" fill="url(#gC)" />
<circle cx="176.2" cy="31.5" r="2.3" fill="url(#gC)" />
<circle cx="180.5" cy="37.8" r="2.3" fill="url(#gC)" />
<circle cx="178.8" cy="47" r="2.3" fill="url(#gC)" />
<circle cx="168.8" cy="83.4" r="2.7" fill="url(#gS)" />
<line x1="201.9" y1="73.6" x2="195" y2="68.8" stroke="#8c8c8c" stroke-width="1.3" />
<line x1="195" y1="68.8" x2="195" y2="60.7" stroke="#8c8c8c" stroke-width="1.3" />
<line x1="195" y1="60.7" x2="204.5" y2="57.3" stroke="#8c8c8c" stroke-width="1.3" />
<line x1="204.5" y1="57.3" x2="210.5" y2="63" stroke="#8c8c8c" stroke-width="1.3" />
<line x1="210.5" y1="63" x2="209.6" y2="71" stroke="#8c8c8c" stroke-width="1.3" />
<line x1="209.6" y1="71" x2="201.9" y2="73.6" stroke="#8c8c8c" stroke-width="1.3" />
<line x1="204.5" y1="49.5" x2="200.5" y2="44.4" stroke="#8c8c8c" stroke-width="1.3" />
<line x1="200.5" y1="44.4" x2="202.7" y2="34.9" stroke="#8c8c8c" stroke-width="1.3" />
<line x1="202.7" y1="34.9" x2="207.9" y2="31.5" stroke="#8c8c8c" stroke-width="1.3" />
<line x1="207.9" y1="31.5" x2="212.2" y2="37.8" stroke="#8c8c8c" stroke-width="1.3" />
<line x1="212.2" y1="37.8" x2="210.5" y2="47" stroke="#8c8c8c" stroke-width="1.3" />
<line x1="210.5" y1="47" x2="204.5" y2="49.5" stroke="#8c8c8c" stroke-width="1.3" />
<line x1="204.5" y1="57.3" x2="204.5" y2="49.5" stroke="#8c8c8c" stroke-width="1.3" />
<line x1="200.5" y1="83.4" x2="201.9" y2="73.6" stroke="#8c8c8c" stroke-width="1.3" />
<line x1="192.4" y1="58.1" x2="195" y2="60.7" stroke="#9a9a9a" stroke-width="1" />
<line x1="189.8" y1="71.9" x2="195" y2="68.8" stroke="#9a9a9a" stroke-width="1" />
<line x1="217.4" y1="60.2" x2="210.5" y2="63" stroke="#9a9a9a" stroke-width="1" />
<line x1="213.9" y1="73.6" x2="209.6" y2="71" stroke="#9a9a9a" stroke-width="1" />
<line x1="198.1" y1="47.8" x2="200.5" y2="44.4" stroke="#9a9a9a" stroke-width="1" />
<line x1="200.2" y1="32.7" x2="202.7" y2="34.9" stroke="#9a9a9a" stroke-width="1" />
<line x1="216.5" y1="34.9" x2="212.2" y2="37.8" stroke="#9a9a9a" stroke-width="1" />
<line x1="213.9" y1="49.5" x2="210.5" y2="47" stroke="#9a9a9a" stroke-width="1" />
<line x1="200.5" y1="83.4" x2="200.8" y2="89.4" stroke="#6a7a9a" stroke-width="1" />
<circle cx="192.4" cy="58.1" r="1.25" fill="url(#gH)" />
<circle cx="189.8" cy="71.9" r="1.25" fill="url(#gH)" />
<circle cx="217.4" cy="60.2" r="1.25" fill="url(#gH)" />
<circle cx="213.9" cy="73.6" r="1.25" fill="url(#gH)" />
<circle cx="198.1" cy="47.8" r="1.25" fill="url(#gH)" />
<circle cx="200.2" cy="32.7" r="1.25" fill="url(#gH)" />
<circle cx="216.5" cy="34.9" r="1.25" fill="url(#gH)" />
<circle cx="213.9" cy="49.5" r="1.25" fill="url(#gH)" />
<circle cx="201.9" cy="73.6" r="2.3" fill="url(#gC)" />
<circle cx="195" cy="68.8" r="2.3" fill="url(#gC)" />
<circle cx="195" cy="60.7" r="2.3" fill="url(#gC)" />
<circle cx="204.5" cy="57.3" r="2.3" fill="url(#gC)" />
<circle cx="210.5" cy="63" r="2.3" fill="url(#gC)" />
<circle cx="209.6" cy="71" r="2.3" fill="url(#gC)" />
<circle cx="204.5" cy="49.5" r="2.3" fill="url(#gC)" />
<circle cx="200.5" cy="44.4" r="2.3" fill="url(#gC)" />
<circle cx="202.7" cy="34.9" r="2.3" fill="url(#gC)" />
<circle cx="207.9" cy="31.5" r="2.3" fill="url(#gC)" />
<circle cx="212.2" cy="37.8" r="2.3" fill="url(#gC)" />
<circle cx="210.5" cy="47" r="2.3" fill="url(#gC)" />
<circle cx="200.5" cy="83.4" r="2.7" fill="url(#gS)" />
<line x1="137.1" y1="92.4" x2="136.8" y2="27.5" stroke="#e8383c" stroke-width="0.8" stroke-dasharray="2,1.3"/>
<line x1="137.4" y1="92.4" x2="144.4" y2="27.5" stroke="#e8383c" stroke-width="0.8" stroke-dasharray="2,1.3"/>
</g>
<rect x="122" y="1.4" width="73" height="115.5" fill="none" stroke="#d95f02" stroke-width="1.7"/>
<text x="145.6" y="34.8" font-family="Liberation Serif" font-style="italic" font-size="14.5" fill="#c41414" stroke="#c41414" stroke-width="0.25">&#952;<tspan font-style="normal" font-size="11" dy="3.2">2</tspan></text>
<clipPath id="clipA3"><rect x="204.5" y="1.4" width="73.6" height="116.2"/></clipPath>
<g clip-path="url(#clipA3)">
<rect x="204.5" y="1.4" width="73.6" height="116.2" fill="#fff"/>
<rect x="204.5" y="0" width="73.6" height="9" fill="#8a7600"/>
<rect x="204.5" y="9" width="73.6" height="15.1" fill="#3a3a3a"/>
<circle cx="210" cy="4" r="7.8" fill="url(#gAu)" stroke="#5a4a00" stroke-width="0.9"/>
<circle cx="226" cy="4" r="7.8" fill="url(#gAu)" stroke="#5a4a00" stroke-width="0.9"/>
<circle cx="242" cy="4" r="7.8" fill="url(#gAu)" stroke="#5a4a00" stroke-width="0.9"/>
<circle cx="258" cy="4" r="7.8" fill="url(#gAu)" stroke="#5a4a00" stroke-width="0.9"/>
<circle cx="274" cy="4" r="7.8" fill="url(#gAu)" stroke="#5a4a00" stroke-width="0.9"/>
<circle cx="209" cy="22.5" r="3" fill="url(#gAgD)" stroke="#2a2a2a" stroke-width="0.9"/>
<circle cx="217" cy="22.5" r="3" fill="url(#gAgD)" stroke="#2a2a2a" stroke-width="0.9"/>
<circle cx="225" cy="22.5" r="3" fill="url(#gAgD)" stroke="#2a2a2a" stroke-width="0.9"/>
<circle cx="233" cy="22.5" r="3" fill="url(#gAgD)" stroke="#2a2a2a" stroke-width="0.9"/>
<circle cx="241" cy="22.5" r="3" fill="url(#gAgD)" stroke="#2a2a2a" stroke-width="0.9"/>
<circle cx="249" cy="22.5" r="3" fill="url(#gAgD)" stroke="#2a2a2a" stroke-width="0.9"/>
<circle cx="257" cy="22.5" r="3" fill="url(#gAgD)" stroke="#2a2a2a" stroke-width="0.9"/>
<circle cx="265" cy="22.5" r="3" fill="url(#gAgD)" stroke="#2a2a2a" stroke-width="0.9"/>
<circle cx="273" cy="22.5" r="3" fill="url(#gAgD)" stroke="#2a2a2a" stroke-width="0.9"/>
<circle cx="281" cy="22.5" r="3" fill="url(#gAgD)" stroke="#2a2a2a" stroke-width="0.9"/>
<circle cx="201" cy="16.9" r="7.6" fill="url(#gAg)" stroke="#2a2a2a" stroke-width="0.9"/>
<circle cx="217" cy="16.9" r="7.6" fill="url(#gAg)" stroke="#2a2a2a" stroke-width="0.9"/>
<circle cx="233" cy="16.9" r="7.6" fill="url(#gAg)" stroke="#2a2a2a" stroke-width="0.9"/>
<circle cx="249" cy="16.9" r="7.6" fill="url(#gAg)" stroke="#2a2a2a" stroke-width="0.9"/>
<circle cx="265" cy="16.9" r="7.6" fill="url(#gAg)" stroke="#2a2a2a" stroke-width="0.9"/>
<circle cx="281" cy="16.9" r="7.6" fill="url(#gAg)" stroke="#2a2a2a" stroke-width="0.9"/>
<rect x="204.5" y="91.3" width="73.6" height="27.7" fill="#8a7600"/>
<circle cx="208.5" cy="93.7" r="3" fill="url(#gAuD)" stroke="#5a4a00" stroke-width="0.9"/>
<circle cx="216.5" cy="93.7" r="3" fill="url(#gAuD)" stroke="#5a4a00" stroke-width="0.9"/>
<circle cx="224.5" cy="93.7" r="3" fill="url(#gAuD)" stroke="#5a4a00" stroke-width="0.9"/>
<circle cx="232.5" cy="93.7" r="3" fill="url(#gAuD)" stroke="#5a4a00" stroke-width="0.9"/>
<circle cx="240.5" cy="93.7" r="3" fill="url(#gAuD)" stroke="#5a4a00" stroke-width="0.9"/>
<circle cx="248.5" cy="93.7" r="3" fill="url(#gAuD)" stroke="#5a4a00" stroke-width="0.9"/>
<circle cx="256.5" cy="93.7" r="3" fill="url(#gAuD)" stroke="#5a4a00" stroke-width="0.9"/>
<circle cx="264.5" cy="93.7" r="3" fill="url(#gAuD)" stroke="#5a4a00" stroke-width="0.9"/>
<circle cx="272.5" cy="93.7" r="3" fill="url(#gAuD)" stroke="#5a4a00" stroke-width="0.9"/>
<circle cx="280.5" cy="93.7" r="3" fill="url(#gAuD)" stroke="#5a4a00" stroke-width="0.9"/>
<circle cx="200.5" cy="98.3" r="7.4" fill="url(#gAu)" stroke="#5a4a00" stroke-width="0.9"/>
<circle cx="216.5" cy="98.3" r="7.4" fill="url(#gAu)" stroke="#5a4a00" stroke-width="0.9"/>
<circle cx="232.5" cy="98.3" r="7.4" fill="url(#gAu)" stroke="#5a4a00" stroke-width="0.9"/>
<circle cx="248.5" cy="98.3" r="7.4" fill="url(#gAu)" stroke="#5a4a00" stroke-width="0.9"/>
<circle cx="264.5" cy="98.3" r="7.4" fill="url(#gAu)" stroke="#5a4a00" stroke-width="0.9"/>
<circle cx="280.5" cy="98.3" r="7.4" fill="url(#gAu)" stroke="#5a4a00" stroke-width="0.9"/>
<circle cx="208" cy="111.7" r="7.4" fill="url(#gAu)" stroke="#5a4a00" stroke-width="0.9"/>
<circle cx="224" cy="111.7" r="7.4" fill="url(#gAu)" stroke="#5a4a00" stroke-width="0.9"/>
<circle cx="240" cy="111.7" r="7.4" fill="url(#gAu)" stroke="#5a4a00" stroke-width="0.9"/>
<circle cx="256" cy="111.7" r="7.4" fill="url(#gAu)" stroke="#5a4a00" stroke-width="0.9"/>
<circle cx="272" cy="111.7" r="7.4" fill="url(#gAu)" stroke="#5a4a00" stroke-width="0.9"/>
<line x1="184.1" y1="76.3" x2="177.9" y2="69.3" stroke="#8c8c8c" stroke-width="1.3" />
<line x1="177.9" y1="69.3" x2="179.9" y2="61.6" stroke="#8c8c8c" stroke-width="1.3" />
<line x1="179.9" y1="61.6" x2="188.8" y2="59.3" stroke="#8c8c8c" stroke-width="1.3" />
<line x1="188.8" y1="59.3" x2="195" y2="66.2" stroke="#8c8c8c" stroke-width="1.3" />
<line x1="195" y1="66.2" x2="192.7" y2="74" stroke="#8c8c8c" stroke-width="1.3" />
<line x1="192.7" y1="74" x2="184.1" y2="76.3" stroke="#8c8c8c" stroke-width="1.3" />
<line x1="191.1" y1="51.5" x2="187.2" y2="46.1" stroke="#8c8c8c" stroke-width="1.3" />
<line x1="187.2" y1="46.1" x2="190.3" y2="38.3" stroke="#8c8c8c" stroke-width="1.3" />
<line x1="190.3" y1="38.3" x2="196.5" y2="34.1" stroke="#8c8c8c" stroke-width="1.3" />
<line x1="196.5" y1="34.1" x2="200.4" y2="40.7" stroke="#8c8c8c" stroke-width="1.3" />
<line x1="200.4" y1="40.7" x2="198.1" y2="49.2" stroke="#8c8c8c" stroke-width="1.3" />
<line x1="198.1" y1="49.2" x2="191.1" y2="51.5" stroke="#8c8c8c" stroke-width="1.3" />
<line x1="188.8" y1="59.3" x2="191.1" y2="51.5" stroke="#8c8c8c" stroke-width="1.3" />
<line x1="181" y1="85.3" x2="184.1" y2="76.3" stroke="#8c8c8c" stroke-width="1.3" />
<line x1="176.4" y1="56.9" x2="179.9" y2="61.6" stroke="#9a9a9a" stroke-width="1" />
<line x1="171.7" y1="71.7" x2="177.9" y2="69.3" stroke="#9a9a9a" stroke-width="1" />
<line x1="202" y1="63.9" x2="195" y2="66.2" stroke="#9a9a9a" stroke-width="1" />
<line x1="197" y1="77.9" x2="192.7" y2="74" stroke="#9a9a9a" stroke-width="1" />
<line x1="188.8" y1="32.9" x2="190.3" y2="38.3" stroke="#9a9a9a" stroke-width="1" />
<line x1="184.1" y1="46.9" x2="187.2" y2="46.1" stroke="#9a9a9a" stroke-width="1" />
<line x1="205.1" y1="38.3" x2="200.4" y2="40.7" stroke="#9a9a9a" stroke-width="1" />
<line x1="202" y1="51.5" x2="198.1" y2="49.2" stroke="#9a9a9a" stroke-width="1" />
<line x1="181" y1="85.3" x2="181.3" y2="91.3" stroke="#6a7a9a" stroke-width="1" />
<circle cx="176.4" cy="56.9" r="1.25" fill="url(#gH)" />
<circle cx="171.7" cy="71.7" r="1.25" fill="url(#gH)" />
<circle cx="202" cy="63.9" r="1.25" fill="url(#gH)" />
<circle cx="197" cy="77.9" r="1.25" fill="url(#gH)" />
<circle cx="188.8" cy="32.9" r="1.25" fill="url(#gH)" />
<circle cx="184.1" cy="46.9" r="1.25" fill="url(#gH)" />
<circle cx="205.1" cy="38.3" r="1.25" fill="url(#gH)" />
<circle cx="202" cy="51.5" r="1.25" fill="url(#gH)" />
<circle cx="184.1" cy="76.3" r="2.3" fill="url(#gC)" />
<circle cx="177.9" cy="69.3" r="2.3" fill="url(#gC)" />
<circle cx="179.9" cy="61.6" r="2.3" fill="url(#gC)" />
<circle cx="188.8" cy="59.3" r="2.3" fill="url(#gC)" />
<circle cx="195" cy="66.2" r="2.3" fill="url(#gC)" />
<circle cx="192.7" cy="74" r="2.3" fill="url(#gC)" />
<circle cx="191.1" cy="51.5" r="2.3" fill="url(#gC)" />
<circle cx="187.2" cy="46.1" r="2.3" fill="url(#gC)" />
<circle cx="190.3" cy="38.3" r="2.3" fill="url(#gC)" />
<circle cx="196.5" cy="34.1" r="2.3" fill="url(#gC)" />
<circle cx="200.4" cy="40.7" r="2.3" fill="url(#gC)" />
<circle cx="198.1" cy="49.2" r="2.3" fill="url(#gC)" />
<circle cx="181" cy="85.3" r="2.7" fill="url(#gS)" />
<line x1="217.1" y1="76.3" x2="210.9" y2="69.3" stroke="#8c8c8c" stroke-width="1.3" />
<line x1="210.9" y1="69.3" x2="212.9" y2="61.6" stroke="#8c8c8c" stroke-width="1.3" />
<line x1="212.9" y1="61.6" x2="221.8" y2="59.3" stroke="#8c8c8c" stroke-width="1.3" />
<line x1="221.8" y1="59.3" x2="228" y2="66.2" stroke="#8c8c8c" stroke-width="1.3" />
<line x1="228" y1="66.2" x2="225.7" y2="74" stroke="#8c8c8c" stroke-width="1.3" />
<line x1="225.7" y1="74" x2="217.1" y2="76.3" stroke="#8c8c8c" stroke-width="1.3" />
<line x1="224.1" y1="51.5" x2="220.2" y2="46.1" stroke="#8c8c8c" stroke-width="1.3" />
<line x1="220.2" y1="46.1" x2="223.3" y2="38.3" stroke="#8c8c8c" stroke-width="1.3" />
<line x1="223.3" y1="38.3" x2="229.5" y2="34.1" stroke="#8c8c8c" stroke-width="1.3" />
<line x1="229.5" y1="34.1" x2="233.4" y2="40.7" stroke="#8c8c8c" stroke-width="1.3" />
<line x1="233.4" y1="40.7" x2="231.1" y2="49.2" stroke="#8c8c8c" stroke-width="1.3" />
<line x1="231.1" y1="49.2" x2="224.1" y2="51.5" stroke="#8c8c8c" stroke-width="1.3" />
<line x1="221.8" y1="59.3" x2="224.1" y2="51.5" stroke="#8c8c8c" stroke-width="1.3" />
<line x1="214" y1="85.3" x2="217.1" y2="76.3" stroke="#8c8c8c" stroke-width="1.3" />
<line x1="209.4" y1="56.9" x2="212.9" y2="61.6" stroke="#9a9a9a" stroke-width="1" />
<line x1="204.7" y1="71.7" x2="210.9" y2="69.3" stroke="#9a9a9a" stroke-width="1" />
<line x1="235" y1="63.9" x2="228" y2="66.2" stroke="#9a9a9a" stroke-width="1" />
<line x1="230" y1="77.9" x2="225.7" y2="74" stroke="#9a9a9a" stroke-width="1" />
<line x1="221.8" y1="32.9" x2="223.3" y2="38.3" stroke="#9a9a9a" stroke-width="1" />
<line x1="217.1" y1="46.9" x2="220.2" y2="46.1" stroke="#9a9a9a" stroke-width="1" />
<line x1="238.1" y1="38.3" x2="233.4" y2="40.7" stroke="#9a9a9a" stroke-width="1" />
<line x1="235" y1="51.5" x2="231.1" y2="49.2" stroke="#9a9a9a" stroke-width="1" />
<line x1="214" y1="85.3" x2="214.3" y2="91.3" stroke="#6a7a9a" stroke-width="1" />
<circle cx="209.4" cy="56.9" r="1.25" fill="url(#gH)" />
<circle cx="204.7" cy="71.7" r="1.25" fill="url(#gH)" />
<circle cx="235" cy="63.9" r="1.25" fill="url(#gH)" />
<circle cx="230" cy="77.9" r="1.25" fill="url(#gH)" />
<circle cx="221.8" cy="32.9" r="1.25" fill="url(#gH)" />
<circle cx="217.1" cy="46.9" r="1.25" fill="url(#gH)" />
<circle cx="238.1" cy="38.3" r="1.25" fill="url(#gH)" />
<circle cx="235" cy="51.5" r="1.25" fill="url(#gH)" />
<circle cx="217.1" cy="76.3" r="2.3" fill="url(#gC)" />
<circle cx="210.9" cy="69.3" r="2.3" fill="url(#gC)" />
<circle cx="212.9" cy="61.6" r="2.3" fill="url(#gC)" />
<circle cx="221.8" cy="59.3" r="2.3" fill="url(#gC)" />
<circle cx="228" cy="66.2" r="2.3" fill="url(#gC)" />
<circle cx="225.7" cy="74" r="2.3" fill="url(#gC)" />
<circle cx="224.1" cy="51.5" r="2.3" fill="url(#gC)" />
<circle cx="220.2" cy="46.1" r="2.3" fill="url(#gC)" />
<circle cx="223.3" cy="38.3" r="2.3" fill="url(#gC)" />
<circle cx="229.5" cy="34.1" r="2.3" fill="url(#gC)" />
<circle cx="233.4" cy="40.7" r="2.3" fill="url(#gC)" />
<circle cx="231.1" cy="49.2" r="2.3" fill="url(#gC)" />
<circle cx="214" cy="85.3" r="2.7" fill="url(#gS)" />
<line x1="250.1" y1="76.3" x2="243.9" y2="69.3" stroke="#8c8c8c" stroke-width="1.3" />
<line x1="243.9" y1="69.3" x2="245.9" y2="61.6" stroke="#8c8c8c" stroke-width="1.3" />
<line x1="245.9" y1="61.6" x2="254.8" y2="59.3" stroke="#8c8c8c" stroke-width="1.3" />
<line x1="254.8" y1="59.3" x2="261" y2="66.2" stroke="#8c8c8c" stroke-width="1.3" />
<line x1="261" y1="66.2" x2="258.7" y2="74" stroke="#8c8c8c" stroke-width="1.3" />
<line x1="258.7" y1="74" x2="250.1" y2="76.3" stroke="#8c8c8c" stroke-width="1.3" />
<line x1="257.1" y1="51.5" x2="253.2" y2="46.1" stroke="#8c8c8c" stroke-width="1.3" />
<line x1="253.2" y1="46.1" x2="256.3" y2="38.3" stroke="#8c8c8c" stroke-width="1.3" />
<line x1="256.3" y1="38.3" x2="262.5" y2="34.1" stroke="#8c8c8c" stroke-width="1.3" />
<line x1="262.5" y1="34.1" x2="266.4" y2="40.7" stroke="#8c8c8c" stroke-width="1.3" />
<line x1="266.4" y1="40.7" x2="264.1" y2="49.2" stroke="#8c8c8c" stroke-width="1.3" />
<line x1="264.1" y1="49.2" x2="257.1" y2="51.5" stroke="#8c8c8c" stroke-width="1.3" />
<line x1="254.8" y1="59.3" x2="257.1" y2="51.5" stroke="#8c8c8c" stroke-width="1.3" />
<line x1="247" y1="85.3" x2="250.1" y2="76.3" stroke="#8c8c8c" stroke-width="1.3" />
<line x1="242.4" y1="56.9" x2="245.9" y2="61.6" stroke="#9a9a9a" stroke-width="1" />
<line x1="237.7" y1="71.7" x2="243.9" y2="69.3" stroke="#9a9a9a" stroke-width="1" />
<line x1="268" y1="63.9" x2="261" y2="66.2" stroke="#9a9a9a" stroke-width="1" />
<line x1="263" y1="77.9" x2="258.7" y2="74" stroke="#9a9a9a" stroke-width="1" />
<line x1="254.8" y1="32.9" x2="256.3" y2="38.3" stroke="#9a9a9a" stroke-width="1" />
<line x1="250.1" y1="46.9" x2="253.2" y2="46.1" stroke="#9a9a9a" stroke-width="1" />
<line x1="271.1" y1="38.3" x2="266.4" y2="40.7" stroke="#9a9a9a" stroke-width="1" />
<line x1="268" y1="51.5" x2="264.1" y2="49.2" stroke="#9a9a9a" stroke-width="1" />
<line x1="247" y1="85.3" x2="247.3" y2="91.3" stroke="#6a7a9a" stroke-width="1" />
<circle cx="242.4" cy="56.9" r="1.25" fill="url(#gH)" />
<circle cx="237.7" cy="71.7" r="1.25" fill="url(#gH)" />
<circle cx="268" cy="63.9" r="1.25" fill="url(#gH)" />
<circle cx="263" cy="77.9" r="1.25" fill="url(#gH)" />
<circle cx="254.8" cy="32.9" r="1.25" fill="url(#gH)" />
<circle cx="250.1" cy="46.9" r="1.25" fill="url(#gH)" />
<circle cx="271.1" cy="38.3" r="1.25" fill="url(#gH)" />
<circle cx="268" cy="51.5" r="1.25" fill="url(#gH)" />
<circle cx="250.1" cy="76.3" r="2.3" fill="url(#gC)" />
<circle cx="243.9" cy="69.3" r="2.3" fill="url(#gC)" />
<circle cx="245.9" cy="61.6" r="2.3" fill="url(#gC)" />
<circle cx="254.8" cy="59.3" r="2.3" fill="url(#gC)" />
<circle cx="261" cy="66.2" r="2.3" fill="url(#gC)" />
<circle cx="258.7" cy="74" r="2.3" fill="url(#gC)" />
<circle cx="257.1" cy="51.5" r="2.3" fill="url(#gC)" />
<circle cx="253.2" cy="46.1" r="2.3" fill="url(#gC)" />
<circle cx="256.3" cy="38.3" r="2.3" fill="url(#gC)" />
<circle cx="262.5" cy="34.1" r="2.3" fill="url(#gC)" />
<circle cx="266.4" cy="40.7" r="2.3" fill="url(#gC)" />
<circle cx="264.1" cy="49.2" r="2.3" fill="url(#gC)" />
<circle cx="247" cy="85.3" r="2.7" fill="url(#gS)" />
<line x1="283.1" y1="76.3" x2="276.9" y2="69.3" stroke="#8c8c8c" stroke-width="1.3" />
<line x1="276.9" y1="69.3" x2="278.9" y2="61.6" stroke="#8c8c8c" stroke-width="1.3" />
<line x1="278.9" y1="61.6" x2="287.8" y2="59.3" stroke="#8c8c8c" stroke-width="1.3" />
<line x1="287.8" y1="59.3" x2="294" y2="66.2" stroke="#8c8c8c" stroke-width="1.3" />
<line x1="294" y1="66.2" x2="291.7" y2="74" stroke="#8c8c8c" stroke-width="1.3" />
<line x1="291.7" y1="74" x2="283.1" y2="76.3" stroke="#8c8c8c" stroke-width="1.3" />
<line x1="290.1" y1="51.5" x2="286.2" y2="46.1" stroke="#8c8c8c" stroke-width="1.3" />
<line x1="286.2" y1="46.1" x2="289.3" y2="38.3" stroke="#8c8c8c" stroke-width="1.3" />
<line x1="289.3" y1="38.3" x2="295.5" y2="34.1" stroke="#8c8c8c" stroke-width="1.3" />
<line x1="295.5" y1="34.1" x2="299.4" y2="40.7" stroke="#8c8c8c" stroke-width="1.3" />
<line x1="299.4" y1="40.7" x2="297.1" y2="49.2" stroke="#8c8c8c" stroke-width="1.3" />
<line x1="297.1" y1="49.2" x2="290.1" y2="51.5" stroke="#8c8c8c" stroke-width="1.3" />
<line x1="287.8" y1="59.3" x2="290.1" y2="51.5" stroke="#8c8c8c" stroke-width="1.3" />
<line x1="280" y1="85.3" x2="283.1" y2="76.3" stroke="#8c8c8c" stroke-width="1.3" />
<line x1="275.4" y1="56.9" x2="278.9" y2="61.6" stroke="#9a9a9a" stroke-width="1" />
<line x1="270.7" y1="71.7" x2="276.9" y2="69.3" stroke="#9a9a9a" stroke-width="1" />
<line x1="301" y1="63.9" x2="294" y2="66.2" stroke="#9a9a9a" stroke-width="1" />
<line x1="296" y1="77.9" x2="291.7" y2="74" stroke="#9a9a9a" stroke-width="1" />
<line x1="287.8" y1="32.9" x2="289.3" y2="38.3" stroke="#9a9a9a" stroke-width="1" />
<line x1="283.1" y1="46.9" x2="286.2" y2="46.1" stroke="#9a9a9a" stroke-width="1" />
<line x1="304.1" y1="38.3" x2="299.4" y2="40.7" stroke="#9a9a9a" stroke-width="1" />
<line x1="301" y1="51.5" x2="297.1" y2="49.2" stroke="#9a9a9a" stroke-width="1" />
<line x1="280" y1="85.3" x2="280.3" y2="91.3" stroke="#6a7a9a" stroke-width="1" />
<circle cx="275.4" cy="56.9" r="1.25" fill="url(#gH)" />
<circle cx="270.7" cy="71.7" r="1.25" fill="url(#gH)" />
<circle cx="301" cy="63.9" r="1.25" fill="url(#gH)" />
<circle cx="296" cy="77.9" r="1.25" fill="url(#gH)" />
<circle cx="287.8" cy="32.9" r="1.25" fill="url(#gH)" />
<circle cx="283.1" cy="46.9" r="1.25" fill="url(#gH)" />
<circle cx="304.1" cy="38.3" r="1.25" fill="url(#gH)" />
<circle cx="301" cy="51.5" r="1.25" fill="url(#gH)" />
<circle cx="283.1" cy="76.3" r="2.3" fill="url(#gC)" />
<circle cx="276.9" cy="69.3" r="2.3" fill="url(#gC)" />
<circle cx="278.9" cy="61.6" r="2.3" fill="url(#gC)" />
<circle cx="287.8" cy="59.3" r="2.3" fill="url(#gC)" />
<circle cx="294" cy="66.2" r="2.3" fill="url(#gC)" />
<circle cx="291.7" cy="74" r="2.3" fill="url(#gC)" />
<circle cx="290.1" cy="51.5" r="2.3" fill="url(#gC)" />
<circle cx="286.2" cy="46.1" r="2.3" fill="url(#gC)" />
<circle cx="289.3" cy="38.3" r="2.3" fill="url(#gC)" />
<circle cx="295.5" cy="34.1" r="2.3" fill="url(#gC)" />
<circle cx="299.4" cy="40.7" r="2.3" fill="url(#gC)" />
<circle cx="297.1" cy="49.2" r="2.3" fill="url(#gC)" />
<circle cx="280" cy="85.3" r="2.7" fill="url(#gS)" />
<line x1="214" y1="94.3" x2="214" y2="32" stroke="#e8383c" stroke-width="0.8" stroke-dasharray="2,1.3"/>
<line x1="214.3" y1="94.3" x2="230" y2="31" stroke="#e8383c" stroke-width="0.8" stroke-dasharray="2,1.3"/>
<path d="M214,34 Q220,26 229,30.5" fill="none" stroke="#c81010" stroke-width="1.3"/>
<path d="M231.2,31.6 L226.8,32.2 L229.4,27.6 Z" fill="#c81010"/>
</g>
<rect x="204.5" y="1.4" width="73.6" height="116.2" fill="none" stroke="#7570b3" stroke-width="1.7"/>
<text x="235.5" y="36.4" font-family="Liberation Serif" font-style="italic" font-size="14.5" fill="#c41414" stroke="#c41414" stroke-width="0.25">&#952;<tspan font-style="normal" font-size="11" dy="3.2">1</tspan></text>
<clipPath id="clipA4"><rect x="287.3" y="1.5" width="73.6" height="116.6"/></clipPath>
<g clip-path="url(#clipA4)">
<rect x="287.3" y="1.5" width="73.6" height="116.6" fill="#fff"/>
<rect x="287.3" y="0" width="73.6" height="9.7" fill="#8a7600"/>
<rect x="287.3" y="9.7" width="73.6" height="15.6" fill="#3a3a3a"/>
<circle cx="281.6" cy="4.7" r="7.8" fill="url(#gAu)" stroke="#5a4a00" stroke-width="0.9"/>
<circle cx="297.6" cy="4.7" r="7.8" fill="url(#gAu)" stroke="#5a4a00" stroke-width="0.9"/>
<circle cx="313.6" cy="4.7" r="7.8" fill="url(#gAu)" stroke="#5a4a00" stroke-width="0.9"/>
<circle cx="329.6" cy="4.7" r="7.8" fill="url(#gAu)" stroke="#5a4a00" stroke-width="0.9"/>
<circle cx="345.6" cy="4.7" r="7.8" fill="url(#gAu)" stroke="#5a4a00" stroke-width="0.9"/>
<circle cx="361.6" cy="4.7" r="7.8" fill="url(#gAu)" stroke="#5a4a00" stroke-width="0.9"/>
<circle cx="289.6" cy="23.7" r="3" fill="url(#gAgD)" stroke="#2a2a2a" stroke-width="0.9"/>
<circle cx="297.6" cy="23.7" r="3" fill="url(#gAgD)" stroke="#2a2a2a" stroke-width="0.9"/>
<circle cx="305.6" cy="23.7" r="3" fill="url(#gAgD)" stroke="#2a2a2a" stroke-width="0.9"/>
<circle cx="313.6" cy="23.7" r="3" fill="url(#gAgD)" stroke="#2a2a2a" stroke-width="0.9"/>
<circle cx="321.6" cy="23.7" r="3" fill="url(#gAgD)" stroke="#2a2a2a" stroke-width="0.9"/>
<circle cx="329.6" cy="23.7" r="3" fill="url(#gAgD)" stroke="#2a2a2a" stroke-width="0.9"/>
<circle cx="337.6" cy="23.7" r="3" fill="url(#gAgD)" stroke="#2a2a2a" stroke-width="0.9"/>
<circle cx="345.6" cy="23.7" r="3" fill="url(#gAgD)" stroke="#2a2a2a" stroke-width="0.9"/>
<circle cx="353.6" cy="23.7" r="3" fill="url(#gAgD)" stroke="#2a2a2a" stroke-width="0.9"/>
<circle cx="361.6" cy="23.7" r="3" fill="url(#gAgD)" stroke="#2a2a2a" stroke-width="0.9"/>
<circle cx="289.6" cy="18.1" r="7.6" fill="url(#gAg)" stroke="#2a2a2a" stroke-width="0.9"/>
<circle cx="305.6" cy="18.1" r="7.6" fill="url(#gAg)" stroke="#2a2a2a" stroke-width="0.9"/>
<circle cx="321.6" cy="18.1" r="7.6" fill="url(#gAg)" stroke="#2a2a2a" stroke-width="0.9"/>
<circle cx="337.6" cy="18.1" r="7.6" fill="url(#gAg)" stroke="#2a2a2a" stroke-width="0.9"/>
<circle cx="353.6" cy="18.1" r="7.6" fill="url(#gAg)" stroke="#2a2a2a" stroke-width="0.9"/>
<rect x="287.3" y="91.1" width="73.6" height="16.2" fill="#3a3a3a"/>
<rect x="287.3" y="107.3" width="73.6" height="11.7" fill="#8a7600"/>
<circle cx="286.4" cy="93.3" r="3" fill="url(#gAgD)" stroke="#2a2a2a" stroke-width="0.9"/>
<circle cx="294.4" cy="93.3" r="3" fill="url(#gAgD)" stroke="#2a2a2a" stroke-width="0.9"/>
<circle cx="302.4" cy="93.3" r="3" fill="url(#gAgD)" stroke="#2a2a2a" stroke-width="0.9"/>
<circle cx="310.4" cy="93.3" r="3" fill="url(#gAgD)" stroke="#2a2a2a" stroke-width="0.9"/>
<circle cx="318.4" cy="93.3" r="3" fill="url(#gAgD)" stroke="#2a2a2a" stroke-width="0.9"/>
<circle cx="326.4" cy="93.3" r="3" fill="url(#gAgD)" stroke="#2a2a2a" stroke-width="0.9"/>
<circle cx="334.4" cy="93.3" r="3" fill="url(#gAgD)" stroke="#2a2a2a" stroke-width="0.9"/>
<circle cx="342.4" cy="93.3" r="3" fill="url(#gAgD)" stroke="#2a2a2a" stroke-width="0.9"/>
<circle cx="350.4" cy="93.3" r="3" fill="url(#gAgD)" stroke="#2a2a2a" stroke-width="0.9"/>
<circle cx="358.4" cy="93.3" r="3" fill="url(#gAgD)" stroke="#2a2a2a" stroke-width="0.9"/>
<circle cx="280.9" cy="112.3" r="7.4" fill="url(#gAu)" stroke="#5a4a00" stroke-width="0.9"/>
<circle cx="296.9" cy="112.3" r="7.4" fill="url(#gAu)" stroke="#5a4a00" stroke-width="0.9"/>
<circle cx="312.9" cy="112.3" r="7.4" fill="url(#gAu)" stroke="#5a4a00" stroke-width="0.9"/>
<circle cx="328.9" cy="112.3" r="7.4" fill="url(#gAu)" stroke="#5a4a00" stroke-width="0.9"/>
<circle cx="344.9" cy="112.3" r="7.4" fill="url(#gAu)" stroke="#5a4a00" stroke-width="0.9"/>
<circle cx="360.9" cy="112.3" r="7.4" fill="url(#gAu)" stroke="#5a4a00" stroke-width="0.9"/>
<circle cx="290.4" cy="98.3" r="7.7" fill="url(#gAg)" stroke="#2a2a2a" stroke-width="0.9"/>
<circle cx="306.4" cy="98.3" r="7.7" fill="url(#gAg)" stroke="#2a2a2a" stroke-width="0.9"/>
<circle cx="322.4" cy="98.3" r="7.7" fill="url(#gAg)" stroke="#2a2a2a" stroke-width="0.9"/>
<circle cx="338.4" cy="98.3" r="7.7" fill="url(#gAg)" stroke="#2a2a2a" stroke-width="0.9"/>
<circle cx="354.4" cy="98.3" r="7.7" fill="url(#gAg)" stroke="#2a2a2a" stroke-width="0.9"/>
<line x1="274.7" y1="74.5" x2="267.8" y2="69.7" stroke="#8c8c8c" stroke-width="1.3" />
<line x1="267.8" y1="69.7" x2="267.8" y2="61.6" stroke="#8c8c8c" stroke-width="1.3" />
<line x1="267.8" y1="61.6" x2="277.3" y2="58.2" stroke="#8c8c8c" stroke-width="1.3" />
<line x1="277.3" y1="58.2" x2="283.3" y2="63.9" stroke="#8c8c8c" stroke-width="1.3" />
<line x1="283.3" y1="63.9" x2="282.4" y2="71.9" stroke="#8c8c8c" stroke-width="1.3" />
<line x1="282.4" y1="71.9" x2="274.7" y2="74.5" stroke="#8c8c8c" stroke-width="1.3" />
<line x1="277.3" y1="50.4" x2="273.3" y2="45.3" stroke="#8c8c8c" stroke-width="1.3" />
<line x1="273.3" y1="45.3" x2="275.5" y2="35.8" stroke="#8c8c8c" stroke-width="1.3" />
<line x1="275.5" y1="35.8" x2="280.7" y2="32.4" stroke="#8c8c8c" stroke-width="1.3" />
<line x1="280.7" y1="32.4" x2="285" y2="38.7" stroke="#8c8c8c" stroke-width="1.3" />
<line x1="285" y1="38.7" x2="283.3" y2="47.9" stroke="#8c8c8c" stroke-width="1.3" />
<line x1="283.3" y1="47.9" x2="277.3" y2="50.4" stroke="#8c8c8c" stroke-width="1.3" />
<line x1="277.3" y1="58.2" x2="277.3" y2="50.4" stroke="#8c8c8c" stroke-width="1.3" />
<line x1="273.3" y1="84.3" x2="274.7" y2="74.5" stroke="#8c8c8c" stroke-width="1.3" />
<line x1="265.2" y1="59" x2="267.8" y2="61.6" stroke="#9a9a9a" stroke-width="1" />
<line x1="262.6" y1="72.8" x2="267.8" y2="69.7" stroke="#9a9a9a" stroke-width="1" />
<line x1="290.2" y1="61.1" x2="283.3" y2="63.9" stroke="#9a9a9a" stroke-width="1" />
<line x1="286.7" y1="74.5" x2="282.4" y2="71.9" stroke="#9a9a9a" stroke-width="1" />
<line x1="270.9" y1="48.7" x2="273.3" y2="45.3" stroke="#9a9a9a" stroke-width="1" />
<line x1="273" y1="33.6" x2="275.5" y2="35.8" stroke="#9a9a9a" stroke-width="1" />
<line x1="289.3" y1="35.8" x2="285" y2="38.7" stroke="#9a9a9a" stroke-width="1" />
<line x1="286.7" y1="50.4" x2="283.3" y2="47.9" stroke="#9a9a9a" stroke-width="1" />
<line x1="273.3" y1="84.3" x2="273.6" y2="90.3" stroke="#6a7a9a" stroke-width="1" />
<circle cx="265.2" cy="59" r="1.25" fill="url(#gH)" />
<circle cx="262.6" cy="72.8" r="1.25" fill="url(#gH)" />
<circle cx="290.2" cy="61.1" r="1.25" fill="url(#gH)" />
<circle cx="286.7" cy="74.5" r="1.25" fill="url(#gH)" />
<circle cx="270.9" cy="48.7" r="1.25" fill="url(#gH)" />
<circle cx="273" cy="33.6" r="1.25" fill="url(#gH)" />
<circle cx="289.3" cy="35.8" r="1.25" fill="url(#gH)" />
<circle cx="286.7" cy="50.4" r="1.25" fill="url(#gH)" />
<circle cx="274.7" cy="74.5" r="2.3" fill="url(#gC)" />
<circle cx="267.8" cy="69.7" r="2.3" fill="url(#gC)" />
<circle cx="267.8" cy="61.6" r="2.3" fill="url(#gC)" />
<circle cx="277.3" cy="58.2" r="2.3" fill="url(#gC)" />
<circle cx="283.3" cy="63.9" r="2.3" fill="url(#gC)" />
<circle cx="282.4" cy="71.9" r="2.3" fill="url(#gC)" />
<circle cx="277.3" cy="50.4" r="2.3" fill="url(#gC)" />
<circle cx="273.3" cy="45.3" r="2.3" fill="url(#gC)" />
<circle cx="275.5" cy="35.8" r="2.3" fill="url(#gC)" />
<circle cx="280.7" cy="32.4" r="2.3" fill="url(#gC)" />
<circle cx="285" cy="38.7" r="2.3" fill="url(#gC)" />
<circle cx="283.3" cy="47.9" r="2.3" fill="url(#gC)" />
<circle cx="273.3" cy="84.3" r="2.7" fill="url(#gS)" />
<line x1="306.5" y1="74.5" x2="299.6" y2="69.7" stroke="#8c8c8c" stroke-width="1.3" />
<line x1="299.6" y1="69.7" x2="299.6" y2="61.6" stroke="#8c8c8c" stroke-width="1.3" />
<line x1="299.6" y1="61.6" x2="309.1" y2="58.2" stroke="#8c8c8c" stroke-width="1.3" />
<line x1="309.1" y1="58.2" x2="315.1" y2="63.9" stroke="#8c8c8c" stroke-width="1.3" />
<line x1="315.1" y1="63.9" x2="314.2" y2="71.9" stroke="#8c8c8c" stroke-width="1.3" />
<line x1="314.2" y1="71.9" x2="306.5" y2="74.5" stroke="#8c8c8c" stroke-width="1.3" />
<line x1="309.1" y1="50.4" x2="305.1" y2="45.3" stroke="#8c8c8c" stroke-width="1.3" />
<line x1="305.1" y1="45.3" x2="307.3" y2="35.8" stroke="#8c8c8c" stroke-width="1.3" />
<line x1="307.3" y1="35.8" x2="312.5" y2="32.4" stroke="#8c8c8c" stroke-width="1.3" />
<line x1="312.5" y1="32.4" x2="316.8" y2="38.7" stroke="#8c8c8c" stroke-width="1.3" />
<line x1="316.8" y1="38.7" x2="315.1" y2="47.9" stroke="#8c8c8c" stroke-width="1.3" />
<line x1="315.1" y1="47.9" x2="309.1" y2="50.4" stroke="#8c8c8c" stroke-width="1.3" />
<line x1="309.1" y1="58.2" x2="309.1" y2="50.4" stroke="#8c8c8c" stroke-width="1.3" />
<line x1="305.1" y1="84.3" x2="306.5" y2="74.5" stroke="#8c8c8c" stroke-width="1.3" />
<line x1="297" y1="59" x2="299.6" y2="61.6" stroke="#9a9a9a" stroke-width="1" />
<line x1="294.4" y1="72.8" x2="299.6" y2="69.7" stroke="#9a9a9a" stroke-width="1" />
<line x1="322" y1="61.1" x2="315.1" y2="63.9" stroke="#9a9a9a" stroke-width="1" />
<line x1="318.5" y1="74.5" x2="314.2" y2="71.9" stroke="#9a9a9a" stroke-width="1" />
<line x1="302.7" y1="48.7" x2="305.1" y2="45.3" stroke="#9a9a9a" stroke-width="1" />
<line x1="304.8" y1="33.6" x2="307.3" y2="35.8" stroke="#9a9a9a" stroke-width="1" />
<line x1="321.1" y1="35.8" x2="316.8" y2="38.7" stroke="#9a9a9a" stroke-width="1" />
<line x1="318.5" y1="50.4" x2="315.1" y2="47.9" stroke="#9a9a9a" stroke-width="1" />
<line x1="305.1" y1="84.3" x2="305.4" y2="90.3" stroke="#6a7a9a" stroke-width="1" />
<circle cx="297" cy="59" r="1.25" fill="url(#gH)" />
<circle cx="294.4" cy="72.8" r="1.25" fill="url(#gH)" />
<circle cx="322" cy="61.1" r="1.25" fill="url(#gH)" />
<circle cx="318.5" cy="74.5" r="1.25" fill="url(#gH)" />
<circle cx="302.7" cy="48.7" r="1.25" fill="url(#gH)" />
<circle cx="304.8" cy="33.6" r="1.25" fill="url(#gH)" />
<circle cx="321.1" cy="35.8" r="1.25" fill="url(#gH)" />
<circle cx="318.5" cy="50.4" r="1.25" fill="url(#gH)" />
<circle cx="306.5" cy="74.5" r="2.3" fill="url(#gC)" />
<circle cx="299.6" cy="69.7" r="2.3" fill="url(#gC)" />
<circle cx="299.6" cy="61.6" r="2.3" fill="url(#gC)" />
<circle cx="309.1" cy="58.2" r="2.3" fill="url(#gC)" />
<circle cx="315.1" cy="63.9" r="2.3" fill="url(#gC)" />
<circle cx="314.2" cy="71.9" r="2.3" fill="url(#gC)" />
<circle cx="309.1" cy="50.4" r="2.3" fill="url(#gC)" />
<circle cx="305.1" cy="45.3" r="2.3" fill="url(#gC)" />
<circle cx="307.3" cy="35.8" r="2.3" fill="url(#gC)" />
<circle cx="312.5" cy="32.4" r="2.3" fill="url(#gC)" />
<circle cx="316.8" cy="38.7" r="2.3" fill="url(#gC)" />
<circle cx="315.1" cy="47.9" r="2.3" fill="url(#gC)" />
<circle cx="305.1" cy="84.3" r="2.7" fill="url(#gS)" />
<line x1="338.3" y1="74.5" x2="331.4" y2="69.7" stroke="#8c8c8c" stroke-width="1.3" />
<line x1="331.4" y1="69.7" x2="331.4" y2="61.6" stroke="#8c8c8c" stroke-width="1.3" />
<line x1="331.4" y1="61.6" x2="340.9" y2="58.2" stroke="#8c8c8c" stroke-width="1.3" />
<line x1="340.9" y1="58.2" x2="346.9" y2="63.9" stroke="#8c8c8c" stroke-width="1.3" />
<line x1="346.9" y1="63.9" x2="346" y2="71.9" stroke="#8c8c8c" stroke-width="1.3" />
<line x1="346" y1="71.9" x2="338.3" y2="74.5" stroke="#8c8c8c" stroke-width="1.3" />
<line x1="340.9" y1="50.4" x2="336.9" y2="45.3" stroke="#8c8c8c" stroke-width="1.3" />
<line x1="336.9" y1="45.3" x2="339.1" y2="35.8" stroke="#8c8c8c" stroke-width="1.3" />
<line x1="339.1" y1="35.8" x2="344.3" y2="32.4" stroke="#8c8c8c" stroke-width="1.3" />
<line x1="344.3" y1="32.4" x2="348.6" y2="38.7" stroke="#8c8c8c" stroke-width="1.3" />
<line x1="348.6" y1="38.7" x2="346.9" y2="47.9" stroke="#8c8c8c" stroke-width="1.3" />
<line x1="346.9" y1="47.9" x2="340.9" y2="50.4" stroke="#8c8c8c" stroke-width="1.3" />
<line x1="340.9" y1="58.2" x2="340.9" y2="50.4" stroke="#8c8c8c" stroke-width="1.3" />
<line x1="336.9" y1="84.3" x2="338.3" y2="74.5" stroke="#8c8c8c" stroke-width="1.3" />
<line x1="328.8" y1="59" x2="331.4" y2="61.6" stroke="#9a9a9a" stroke-width="1" />
<line x1="326.2" y1="72.8" x2="331.4" y2="69.7" stroke="#9a9a9a" stroke-width="1" />
<line x1="353.8" y1="61.1" x2="346.9" y2="63.9" stroke="#9a9a9a" stroke-width="1" />
<line x1="350.3" y1="74.5" x2="346" y2="71.9" stroke="#9a9a9a" stroke-width="1" />
<line x1="334.5" y1="48.7" x2="336.9" y2="45.3" stroke="#9a9a9a" stroke-width="1" />
<line x1="336.6" y1="33.6" x2="339.1" y2="35.8" stroke="#9a9a9a" stroke-width="1" />
<line x1="352.9" y1="35.8" x2="348.6" y2="38.7" stroke="#9a9a9a" stroke-width="1" />
<line x1="350.3" y1="50.4" x2="346.9" y2="47.9" stroke="#9a9a9a" stroke-width="1" />
<line x1="336.9" y1="84.3" x2="337.2" y2="90.3" stroke="#6a7a9a" stroke-width="1" />
<circle cx="328.8" cy="59" r="1.25" fill="url(#gH)" />
<circle cx="326.2" cy="72.8" r="1.25" fill="url(#gH)" />
<circle cx="353.8" cy="61.1" r="1.25" fill="url(#gH)" />
<circle cx="350.3" cy="74.5" r="1.25" fill="url(#gH)" />
<circle cx="334.5" cy="48.7" r="1.25" fill="url(#gH)" />
<circle cx="336.6" cy="33.6" r="1.25" fill="url(#gH)" />
<circle cx="352.9" cy="35.8" r="1.25" fill="url(#gH)" />
<circle cx="350.3" cy="50.4" r="1.25" fill="url(#gH)" />
<circle cx="338.3" cy="74.5" r="2.3" fill="url(#gC)" />
<circle cx="331.4" cy="69.7" r="2.3" fill="url(#gC)" />
<circle cx="331.4" cy="61.6" r="2.3" fill="url(#gC)" />
<circle cx="340.9" cy="58.2" r="2.3" fill="url(#gC)" />
<circle cx="346.9" cy="63.9" r="2.3" fill="url(#gC)" />
<circle cx="346" cy="71.9" r="2.3" fill="url(#gC)" />
<circle cx="340.9" cy="50.4" r="2.3" fill="url(#gC)" />
<circle cx="336.9" cy="45.3" r="2.3" fill="url(#gC)" />
<circle cx="339.1" cy="35.8" r="2.3" fill="url(#gC)" />
<circle cx="344.3" cy="32.4" r="2.3" fill="url(#gC)" />
<circle cx="348.6" cy="38.7" r="2.3" fill="url(#gC)" />
<circle cx="346.9" cy="47.9" r="2.3" fill="url(#gC)" />
<circle cx="336.9" cy="84.3" r="2.7" fill="url(#gS)" />
<line x1="370.1" y1="74.5" x2="363.2" y2="69.7" stroke="#8c8c8c" stroke-width="1.3" />
<line x1="363.2" y1="69.7" x2="363.2" y2="61.6" stroke="#8c8c8c" stroke-width="1.3" />
<line x1="363.2" y1="61.6" x2="372.7" y2="58.2" stroke="#8c8c8c" stroke-width="1.3" />
<line x1="372.7" y1="58.2" x2="378.7" y2="63.9" stroke="#8c8c8c" stroke-width="1.3" />
<line x1="378.7" y1="63.9" x2="377.8" y2="71.9" stroke="#8c8c8c" stroke-width="1.3" />
<line x1="377.8" y1="71.9" x2="370.1" y2="74.5" stroke="#8c8c8c" stroke-width="1.3" />
<line x1="372.7" y1="50.4" x2="368.7" y2="45.3" stroke="#8c8c8c" stroke-width="1.3" />
<line x1="368.7" y1="45.3" x2="370.9" y2="35.8" stroke="#8c8c8c" stroke-width="1.3" />
<line x1="370.9" y1="35.8" x2="376.1" y2="32.4" stroke="#8c8c8c" stroke-width="1.3" />
<line x1="376.1" y1="32.4" x2="380.4" y2="38.7" stroke="#8c8c8c" stroke-width="1.3" />
<line x1="380.4" y1="38.7" x2="378.7" y2="47.9" stroke="#8c8c8c" stroke-width="1.3" />
<line x1="378.7" y1="47.9" x2="372.7" y2="50.4" stroke="#8c8c8c" stroke-width="1.3" />
<line x1="372.7" y1="58.2" x2="372.7" y2="50.4" stroke="#8c8c8c" stroke-width="1.3" />
<line x1="368.7" y1="84.3" x2="370.1" y2="74.5" stroke="#8c8c8c" stroke-width="1.3" />
<line x1="360.6" y1="59" x2="363.2" y2="61.6" stroke="#9a9a9a" stroke-width="1" />
<line x1="358" y1="72.8" x2="363.2" y2="69.7" stroke="#9a9a9a" stroke-width="1" />
<line x1="385.6" y1="61.1" x2="378.7" y2="63.9" stroke="#9a9a9a" stroke-width="1" />
<line x1="382.1" y1="74.5" x2="377.8" y2="71.9" stroke="#9a9a9a" stroke-width="1" />
<line x1="366.3" y1="48.7" x2="368.7" y2="45.3" stroke="#9a9a9a" stroke-width="1" />
<line x1="368.4" y1="33.6" x2="370.9" y2="35.8" stroke="#9a9a9a" stroke-width="1" />
<line x1="384.7" y1="35.8" x2="380.4" y2="38.7" stroke="#9a9a9a" stroke-width="1" />
<line x1="382.1" y1="50.4" x2="378.7" y2="47.9" stroke="#9a9a9a" stroke-width="1" />
<line x1="368.7" y1="84.3" x2="369" y2="90.3" stroke="#6a7a9a" stroke-width="1" />
<circle cx="360.6" cy="59" r="1.25" fill="url(#gH)" />
<circle cx="358" cy="72.8" r="1.25" fill="url(#gH)" />
<circle cx="385.6" cy="61.1" r="1.25" fill="url(#gH)" />
<circle cx="382.1" cy="74.5" r="1.25" fill="url(#gH)" />
<circle cx="366.3" cy="48.7" r="1.25" fill="url(#gH)" />
<circle cx="368.4" cy="33.6" r="1.25" fill="url(#gH)" />
<circle cx="384.7" cy="35.8" r="1.25" fill="url(#gH)" />
<circle cx="382.1" cy="50.4" r="1.25" fill="url(#gH)" />
<circle cx="370.1" cy="74.5" r="2.3" fill="url(#gC)" />
<circle cx="363.2" cy="69.7" r="2.3" fill="url(#gC)" />
<circle cx="363.2" cy="61.6" r="2.3" fill="url(#gC)" />
<circle cx="372.7" cy="58.2" r="2.3" fill="url(#gC)" />
<circle cx="378.7" cy="63.9" r="2.3" fill="url(#gC)" />
<circle cx="377.8" cy="71.9" r="2.3" fill="url(#gC)" />
<circle cx="372.7" cy="50.4" r="2.3" fill="url(#gC)" />
<circle cx="368.7" cy="45.3" r="2.3" fill="url(#gC)" />
<circle cx="370.9" cy="35.8" r="2.3" fill="url(#gC)" />
<circle cx="376.1" cy="32.4" r="2.3" fill="url(#gC)" />
<circle cx="380.4" cy="38.7" r="2.3" fill="url(#gC)" />
<circle cx="378.7" cy="47.9" r="2.3" fill="url(#gC)" />
<circle cx="368.7" cy="84.3" r="2.7" fill="url(#gS)" />
<line x1="305.1" y1="93.3" x2="304.8" y2="28" stroke="#e8383c" stroke-width="0.8" stroke-dasharray="2,1.3"/>
<line x1="305.4" y1="93.3" x2="312.4" y2="28" stroke="#e8383c" stroke-width="0.8" stroke-dasharray="2,1.3"/>
</g>
<rect x="287.3" y="1.5" width="73.6" height="116.6" fill="none" stroke="#e7298a" stroke-width="1.7"/>
<text x="314.2" y="36.7" font-family="Liberation Serif" font-style="italic" font-size="14.5" fill="#c41414" stroke="#c41414" stroke-width="0.25">&#952;<tspan font-style="normal" font-size="11" dy="3.2">2</tspan></text>
<clipPath id="clipB"><rect x="39.6" y="129.5" width="321.6" height="242.5"/></clipPath>
<g clip-path="url(#clipB)">
<path d="M39.6,197.35 40.03,197.32 40.46,197.28 40.89,197.24 41.32,197.19 41.74,197.14 42.17,197.09 42.6,197.02 43.03,196.96 43.46,196.88 43.89,196.79 44.32,196.69 44.75,196.57 45.17,196.44 45.6,196.28 46.03,196.09 46.46,195.86 46.89,195.58 47.32,195.24 47.75,194.81 48.18,194.28 48.6,193.61 49.03,192.77 49.46,191.76 49.89,190.6 50.32,189.42 50.75,188.49 51.18,188.11 51.61,188.4 52.04,189.23 52.46,190.27 52.89,191.28 53.32,192.12 53.75,192.76 54.18,193.21 54.61,193.49 55.04,193.62 55.47,193.6 55.89,193.44 56.32,193.12 56.75,192.63 57.18,191.97 57.61,191.17 58.04,190.36 58.47,189.73 58.9,189.55 59.32,189.9 59.75,190.66 60.18,191.56 60.61,192.43 61.04,193.16 61.47,193.75 61.9,194.19 62.33,194.52 62.76,194.76 63.18,194.92 63.61,195 64.04,195.02 64.47,194.97 64.9,194.84 65.33,194.61 65.76,194.27 66.19,193.78 66.61,193.17 67.04,192.52 67.47,192.07 67.9,192.08 68.33,192.54 68.76,193.2 69.19,193.84 69.62,194.35 70.04,194.73 70.47,195.01 70.9,195.2 71.33,195.33 71.76,195.41 72.19,195.46 72.62,195.48 73.05,195.48 73.48,195.46 73.9,195.42 74.33,195.37 74.76,195.3 75.19,195.21 75.62,195.1 76.05,194.98 76.48,194.83 76.91,194.66 77.33,194.46 77.76,194.23 78.19,193.96 78.62,193.65 79.05,193.29 79.48,192.86 79.91,192.35 80.34,191.74 80.76,191.01 81.19,190.13 81.62,189.06 82.05,187.74 82.48,186.13 82.91,184.15 83.34,181.73 83.77,178.84 84.2,175.52 84.62,171.97 85.05,168.66 85.48,166.27 85.91,165.48 86.34,166.57 86.77,169.16 87.2,172.54 87.63,176.06 88.05,179.29 88.48,182.08 88.91,184.4 89.34,186.29 89.77,187.82 90.2,189.07 90.63,190.09 91.06,190.92 91.48,191.61 91.91,192.18 92.34,192.65 92.77,193.05 93.2,193.38 93.63,193.66 94.06,193.9 94.49,194.11 94.92,194.28 95.34,194.42 95.77,194.55 96.2,194.65 96.63,194.74 97.06,194.81 97.49,194.86 97.92,194.91 98.35,194.94 98.77,194.96 99.2,194.98 99.63,194.98 100.06,194.99 100.49,194.98 100.92,194.97 101.35,194.96 101.78,194.95 102.2,194.94 102.63,194.93 103.06,194.93 103.49,194.94 103.92,194.94 104.35,194.96 104.78,194.99 105.21,195.01 105.64,195.05 106.06,195.09 106.49,195.13 106.92,195.18 107.35,195.22 107.78,195.26 108.21,195.3 108.64,195.34 109.07,195.38 109.49,195.41 109.92,195.44 110.35,195.47 110.78,195.49 111.21,195.51 111.64,195.52 112.07,195.54 112.5,195.54 112.92,195.55 113.35,195.55 113.78,195.55 114.21,195.54 114.64,195.54 115.07,195.53 115.5,195.51 115.93,195.5 116.36,195.48 116.78,195.46 117.21,195.43 117.64,195.4 118.07,195.37 118.5,195.33 118.93,195.3 119.36,195.25 119.79,195.21 120.21,195.16 120.64,195.1 121.07,195.05 121.5,194.98 121.93,194.92 122.36,194.84 122.79,194.77 123.22,194.68 123.64,194.59 124.07,194.5 124.5,194.4 124.93,194.29 125.36,194.18 125.79,194.06 126.22,193.94 126.65,193.81 127.08,193.67 127.5,193.54 127.93,193.39 128.36,193.25 128.79,193.11 129.22,192.97 129.65,192.83 130.08,192.7 130.51,192.58 130.93,192.47 131.36,192.38 131.79,192.3 132.22,192.25 132.65,192.21 133.08,192.2 133.51,192.21 133.94,192.25 134.36,192.3 134.79,192.38 135.22,192.47 135.65,192.57 136.08,192.69 136.51,192.81 136.94,192.94 137.37,193.08 137.8,193.21 138.22,193.34 138.65,193.47 139.08,193.6 139.51,193.72 139.94,193.84 140.37,193.95 140.8,194.06 141.23,194.16 141.65,194.25 142.08,194.34 142.51,194.42 142.94,194.5 143.37,194.57 143.8,194.63 144.23,194.69 144.66,194.75 145.08,194.8 145.51,194.84 145.94,194.88 146.37,194.92 146.8,194.95 147.23,194.98 147.66,195.01 148.09,195.03 148.52,195.05 148.94,195.07 149.37,195.08 149.8,195.09 150.23,195.1 150.66,195.1 151.09,195.1 151.52,195.1 151.95,195.09 152.37,195.09 152.8,195.07 153.23,195.06 153.66,195.04 154.09,195.02 154.52,194.99 154.95,194.96 155.38,194.92 155.8,194.88 156.23,194.84 156.66,194.78 157.09,194.73 157.52,194.66 157.95,194.59 158.38,194.51 158.81,194.42 159.24,194.31 159.66,194.2 160.09,194.07 160.52,193.92 160.95,193.76 161.38,193.57 161.81,193.36 162.24,193.12 162.67,192.85 163.09,192.53 163.52,192.17 163.95,191.75 164.38,191.26 164.81,190.69 165.24,190.02 165.67,189.23 166.1,188.3 166.52,187.21 166.95,185.92 167.38,184.42 167.81,182.68 168.24,180.73 168.67,178.62 169.1,176.48 169.53,174.52 169.96,173.02 170.38,172.25 170.81,172.38 171.24,173.38 171.67,175.04 172.1,177.08 172.53,179.23 172.96,181.31 173.39,183.21 173.81,184.88 174.24,186.32 174.67,187.56 175.1,188.61 175.53,189.5 175.96,190.25 176.39,190.9 176.82,191.45 177.24,191.92 177.67,192.33 178.1,192.68 178.53,192.99 178.96,193.26 179.39,193.49 179.82,193.7 180.25,193.89 180.68,194.05 181.1,194.2 181.53,194.33 181.96,194.45 182.39,194.56 182.82,194.65 183.25,194.74 183.68,194.82 184.11,194.89 184.53,194.96 184.96,195.02 185.39,195.08 185.82,195.13 186.25,195.18 186.68,195.22 187.11,195.26 187.54,195.3 187.96,195.33 188.39,195.36 188.82,195.39 189.25,195.42 189.68,195.45 190.11,195.47 190.54,195.49 190.97,195.51 191.4,195.53 191.82,195.55 192.25,195.57 192.68,195.59 193.11,195.6 193.54,195.62 193.97,195.63 194.4,195.64 194.83,195.66 195.25,195.67 195.68,195.68 196.11,195.69 196.54,195.7 196.97,195.71 197.4,195.71 197.83,195.72 198.26,195.73 198.68,195.74 199.11,195.74 199.54,195.75 199.97,195.76 200.4,195.76 200.83,195.77 201.26,195.77 201.69,195.78 202.12,195.78 202.54,195.79 202.97,195.79 203.4,195.79 203.83,195.8 204.26,195.8 204.69,195.8 205.12,195.81 205.55,195.81 205.97,195.81 206.4,195.81 206.83,195.82 207.26,195.82 207.69,195.82 208.12,195.82 208.55,195.82 208.98,195.82 209.4,195.83 209.83,195.83 210.26,195.83 210.69,195.83 211.12,195.83 211.55,195.83 211.98,195.83 212.41,195.83 212.84,195.83 213.26,195.83 213.69,195.83 214.12,195.83 214.55,195.83 214.98,195.83 215.41,195.83 215.84,195.83 216.27,195.83 216.69,195.83 217.12,195.83 217.55,195.83 217.98,195.83 218.41,195.83 218.84,195.83 219.27,195.83 219.7,195.83 220.12,195.83 220.55,195.83 220.98,195.82 221.41,195.82 221.84,195.82 222.27,195.82 222.7,195.82 223.13,195.82 223.56,195.82 223.98,195.81 224.41,195.81 224.84,195.81 225.27,195.81 225.7,195.81 226.13,195.8 226.56,195.8 226.99,195.8 227.41,195.8 227.84,195.79 228.27,195.79 228.7,195.79 229.13,195.78 229.56,195.78 229.99,195.78 230.42,195.77 230.84,195.77 231.27,195.77 231.7,195.76 232.13,195.76 232.56,195.75 232.99,195.75 233.42,195.74 233.85,195.74 234.28,195.73 234.7,195.73 235.13,195.72 235.56,195.71 235.99,195.71 236.42,195.7 236.85,195.69 237.28,195.68 237.71,195.67 238.13,195.66 238.56,195.65 238.99,195.64 239.42,195.62 239.85,195.61 240.28,195.59 240.71,195.58 241.14,195.56 241.56,195.53 241.99,195.51 242.42,195.48 242.85,195.45 243.28,195.42 243.71,195.38 244.14,195.33 244.57,195.28 245,195.22 245.42,195.14 245.85,195.06 246.28,194.95 246.71,194.83 247.14,194.69 247.57,194.52 248,194.32 248.43,194.1 248.85,193.86 249.28,193.63 249.71,193.44 250.14,193.31 250.57,193.29 251,193.37 251.43,193.54 251.86,193.75 252.28,193.98 252.71,194.19 253.14,194.38 253.57,194.55 254,194.69 254.43,194.8 254.86,194.9 255.29,194.97 255.72,195.04 256.14,195.09 256.57,195.13 257,195.16 257.43,195.19 257.86,195.21 258.29,195.23 258.72,195.24 259.15,195.25 259.57,195.26 260,195.26 260.43,195.27 260.86,195.27 261.29,195.26 261.72,195.26 262.15,195.25 262.58,195.25 263,195.24 263.43,195.23 263.86,195.22 264.29,195.21 264.72,195.19 265.15,195.18 265.58,195.16 266.01,195.14 266.44,195.13 266.86,195.11 267.29,195.09 267.72,195.06 268.15,195.04 268.58,195.02 269.01,194.99 269.44,194.96 269.87,194.93 270.29,194.9 270.72,194.87 271.15,194.84 271.58,194.8 272.01,194.76 272.44,194.72 272.87,194.68 273.3,194.64 273.72,194.59 274.15,194.54 274.58,194.49 275.01,194.43 275.44,194.38 275.87,194.31 276.3,194.25 276.73,194.18 277.16,194.11 277.58,194.03 278.01,193.95 278.44,193.86 278.87,193.76 279.3,193.66 279.73,193.56 280.16,193.44 280.59,193.32 281.01,193.19 281.44,193.05 281.87,192.9 282.3,192.74 282.73,192.57 283.16,192.38 283.59,192.18 284.02,191.96 284.44,191.72 284.87,191.47 285.3,191.19 285.73,190.88 286.16,190.55 286.59,190.19 287.02,189.8 287.45,189.36 287.88,188.88 288.3,188.36 288.73,187.78 289.16,187.14 289.59,186.43 290.02,185.64 290.45,184.77 290.88,183.8 291.31,182.71 291.73,181.51 292.16,180.17 292.59,178.67 293.02,176.99 293.45,175.12 293.88,173.03 294.31,170.68 294.74,168.04 295.16,165.04 295.59,161.61 296.02,157.68 296.45,153.21 296.88,148.4 297.31,143.91 297.74,140.97 298.17,140.83 298.6,143.52 299.02,147.85 299.45,152.44 299.88,156.49 300.31,159.71 300.74,162.04 301.17,163.5 301.6,164.06 302.03,163.68 302.45,162.31 302.88,160.1 303.31,157.58 303.74,155.92 304.17,156.41 304.6,159.43 305.03,164 305.46,168.83 305.88,173.13 306.31,176.68 306.74,179.51 307.17,181.77 307.6,183.57 308.03,185.03 308.46,186.23 308.89,187.23 309.32,188.07 309.74,188.79 310.17,189.41 310.6,189.94 311.03,190.42 311.46,190.83 311.89,191.21 312.32,191.54 312.75,191.84 313.17,192.11 313.6,192.36 314.03,192.58 314.46,192.79 314.89,192.97 315.32,193.15 315.75,193.31 316.18,193.46 316.6,193.6 317.03,193.72 317.46,193.84 317.89,193.96 318.32,194.06 318.75,194.16 319.18,194.25 319.61,194.34 320.04,194.42 320.46,194.5 320.89,194.57 321.32,194.64 321.75,194.7 322.18,194.77 322.61,194.82 323.04,194.88 323.47,194.93 323.89,194.98 324.32,195.03 324.75,195.08 325.18,195.12 325.61,195.17 326.04,195.21 326.47,195.24 326.9,195.28 327.32,195.32 327.75,195.35 328.18,195.39 328.61,195.42 329.04,195.45 329.47,195.48 329.9,195.51 330.33,195.53 330.76,195.56 331.18,195.59 331.61,195.61 332.04,195.63 332.47,195.66 332.9,195.68 333.33,195.7 333.76,195.72 334.19,195.74 334.61,195.76 335.04,195.78 335.47,195.8 335.9,195.82 336.33,195.84 336.76,195.86 337.19,195.87 337.62,195.89 338.04,195.91 338.47,195.92 338.9,195.94 339.33,195.95 339.76,195.97 340.19,195.98 340.62,196 341.05,196.01 341.48,196.02 341.9,196.04 342.33,196.05 342.76,196.06 343.19,196.07 343.62,196.09 344.05,196.1 344.48,196.11 344.91,196.12 345.33,196.13 345.76,196.15 346.19,196.16 346.62,196.17 347.05,196.18 347.48,196.19 347.91,196.2 348.34,196.21 348.76,196.22 349.19,196.23 349.62,196.24 350.05,196.25 350.48,196.26 350.91,196.27 351.34,196.28 351.77,196.29 352.2,196.3 352.62,196.3 353.05,196.31 353.48,196.32 353.91,196.33 354.34,196.34 354.77,196.35 355.2,196.36 355.63,196.37 356.05,196.37 356.48,196.38 356.91,196.39 357.34,196.4 357.77,196.41 358.2,196.41 358.63,196.42 359.06,196.43 359.48,196.44 359.91,196.45 360.34,196.45 360.77,196.46 361.2,196.47 L361.2,201.18 L39.6,201.18 Z" fill="#1b9e77" fill-opacity="0.8"/>
<path d="M39.6,197.35 40.03,197.32 40.46,197.28 40.89,197.24 41.32,197.19 41.74,197.14 42.17,197.09 42.6,197.02 43.03,196.96 43.46,196.88 43.89,196.79 44.32,196.69 44.75,196.57 45.17,196.44 45.6,196.28 46.03,196.09 46.46,195.86 46.89,195.58 47.32,195.24 47.75,194.81 48.18,194.28 48.6,193.61 49.03,192.77 49.46,191.76 49.89,190.6 50.32,189.42 50.75,188.49 51.18,188.11 51.61,188.4 52.04,189.23 52.46,190.27 52.89,191.28 53.32,192.12 53.75,192.76 54.18,193.21 54.61,193.49 55.04,193.62 55.47,193.6 55.89,193.44 56.32,193.12 56.75,192.63 57.18,191.97 57.61,191.17 58.04,190.36 58.47,189.73 58.9,189.55 59.32,189.9 59.75,190.66 60.18,191.56 60.61,192.43 61.04,193.16 61.47,193.75 61.9,194.19 62.33,194.52 62.76,194.76 63.18,194.92 63.61,195 64.04,195.02 64.47,194.97 64.9,194.84 65.33,194.61 65.76,194.27 66.19,193.78 66.61,193.17 67.04,192.52 67.47,192.07 67.9,192.08 68.33,192.54 68.76,193.2 69.19,193.84 69.62,194.35 70.04,194.73 70.47,195.01 70.9,195.2 71.33,195.33 71.76,195.41 72.19,195.46 72.62,195.48 73.05,195.48 73.48,195.46 73.9,195.42 74.33,195.37 74.76,195.3 75.19,195.21 75.62,195.1 76.05,194.98 76.48,194.83 76.91,194.66 77.33,194.46 77.76,194.23 78.19,193.96 78.62,193.65 79.05,193.29 79.48,192.86 79.91,192.35 80.34,191.74 80.76,191.01 81.19,190.13 81.62,189.06 82.05,187.74 82.48,186.13 82.91,184.15 83.34,181.73 83.77,178.84 84.2,175.52 84.62,171.97 85.05,168.66 85.48,166.27 85.91,165.48 86.34,166.57 86.77,169.16 87.2,172.54 87.63,176.06 88.05,179.29 88.48,182.08 88.91,184.4 89.34,186.29 89.77,187.82 90.2,189.07 90.63,190.09 91.06,190.92 91.48,191.61 91.91,192.18 92.34,192.65 92.77,193.05 93.2,193.38 93.63,193.66 94.06,193.9 94.49,194.11 94.92,194.28 95.34,194.42 95.77,194.55 96.2,194.65 96.63,194.74 97.06,194.81 97.49,194.86 97.92,194.91 98.35,194.94 98.77,194.96 99.2,194.98 99.63,194.98 100.06,194.99 100.49,194.98 100.92,194.97 101.35,194.96 101.78,194.95 102.2,194.94 102.63,194.93 103.06,194.93 103.49,194.94 103.92,194.94 104.35,194.96 104.78,194.99 105.21,195.01 105.64,195.05 106.06,195.09 106.49,195.13 106.92,195.18 107.35,195.22 107.78,195.26 108.21,195.3 108.64,195.34 109.07,195.38 109.49,195.41 109.92,195.44 110.35,195.47 110.78,195.49 111.21,195.51 111.64,195.52 112.07,195.54 112.5,195.54 112.92,195.55 113.35,195.55 113.78,195.55 114.21,195.54 114.64,195.54 115.07,195.53 115.5,195.51 115.93,195.5 116.36,195.48 116.78,195.46 117.21,195.43 117.64,195.4 118.07,195.37 118.5,195.33 118.93,195.3 119.36,195.25 119.79,195.21 120.21,195.16 120.64,195.1 121.07,195.05 121.5,194.98 121.93,194.92 122.36,194.84 122.79,194.77 123.22,194.68 123.64,194.59 124.07,194.5 124.5,194.4 124.93,194.29 125.36,194.18 125.79,194.06 126.22,193.94 126.65,193.81 127.08,193.67 127.5,193.54 127.93,193.39 128.36,193.25 128.79,193.11 129.22,192.97 129.65,192.83 130.08,192.7 130.51,192.58 130.93,192.47 131.36,192.38 131.79,192.3 132.22,192.25 132.65,192.21 133.08,192.2 133.51,192.21 133.94,192.25 134.36,192.3 134.79,192.38 135.22,192.47 135.65,192.57 136.08,192.69 136.51,192.81 136.94,192.94 137.37,193.08 137.8,193.21 138.22,193.34 138.65,193.47 139.08,193.6 139.51,193.72 139.94,193.84 140.37,193.95 140.8,194.06 141.23,194.16 141.65,194.25 142.08,194.34 142.51,194.42 142.94,194.5 143.37,194.57 143.8,194.63 144.23,194.69 144.66,194.75 145.08,194.8 145.51,194.84 145.94,194.88 146.37,194.92 146.8,194.95 147.23,194.98 147.66,195.01 148.09,195.03 148.52,195.05 148.94,195.07 149.37,195.08 149.8,195.09 150.23,195.1 150.66,195.1 151.09,195.1 151.52,195.1 151.95,195.09 152.37,195.09 152.8,195.07 153.23,195.06 153.66,195.04 154.09,195.02 154.52,194.99 154.95,194.96 155.38,194.92 155.8,194.88 156.23,194.84 156.66,194.78 157.09,194.73 157.52,194.66 157.95,194.59 158.38,194.51 158.81,194.42 159.24,194.31 159.66,194.2 160.09,194.07 160.52,193.92 160.95,193.76 161.38,193.57 161.81,193.36 162.24,193.12 162.67,192.85 163.09,192.53 163.52,192.17 163.95,191.75 164.38,191.26 164.81,190.69 165.24,190.02 165.67,189.23 166.1,188.3 166.52,187.21 166.95,185.92 167.38,184.42 167.81,182.68 168.24,180.73 168.67,178.62 169.1,176.48 169.53,174.52 169.96,173.02 170.38,172.25 170.81,172.38 171.24,173.38 171.67,175.04 172.1,177.08 172.53,179.23 172.96,181.31 173.39,183.21 173.81,184.88 174.24,186.32 174.67,187.56 175.1,188.61 175.53,189.5 175.96,190.25 176.39,190.9 176.82,191.45 177.24,191.92 177.67,192.33 178.1,192.68 178.53,192.99 178.96,193.26 179.39,193.49 179.82,193.7 180.25,193.89 180.68,194.05 181.1,194.2 181.53,194.33 181.96,194.45 182.39,194.56 182.82,194.65 183.25,194.74 183.68,194.82 184.11,194.89 184.53,194.96 184.96,195.02 185.39,195.08 185.82,195.13 186.25,195.18 186.68,195.22 187.11,195.26 187.54,195.3 187.96,195.33 188.39,195.36 188.82,195.39 189.25,195.42 189.68,195.45 190.11,195.47 190.54,195.49 190.97,195.51 191.4,195.53 191.82,195.55 192.25,195.57 192.68,195.59 193.11,195.6 193.54,195.62 193.97,195.63 194.4,195.64 194.83,195.66 195.25,195.67 195.68,195.68 196.11,195.69 196.54,195.7 196.97,195.71 197.4,195.71 197.83,195.72 198.26,195.73 198.68,195.74 199.11,195.74 199.54,195.75 199.97,195.76 200.4,195.76 200.83,195.77 201.26,195.77 201.69,195.78 202.12,195.78 202.54,195.79 202.97,195.79 203.4,195.79 203.83,195.8 204.26,195.8 204.69,195.8 205.12,195.81 205.55,195.81 205.97,195.81 206.4,195.81 206.83,195.82 207.26,195.82 207.69,195.82 208.12,195.82 208.55,195.82 208.98,195.82 209.4,195.83 209.83,195.83 210.26,195.83 210.69,195.83 211.12,195.83 211.55,195.83 211.98,195.83 212.41,195.83 212.84,195.83 213.26,195.83 213.69,195.83 214.12,195.83 214.55,195.83 214.98,195.83 215.41,195.83 215.84,195.83 216.27,195.83 216.69,195.83 217.12,195.83 217.55,195.83 217.98,195.83 218.41,195.83 218.84,195.83 219.27,195.83 219.7,195.83 220.12,195.83 220.55,195.83 220.98,195.82 221.41,195.82 221.84,195.82 222.27,195.82 222.7,195.82 223.13,195.82 223.56,195.82 223.98,195.81 224.41,195.81 224.84,195.81 225.27,195.81 225.7,195.81 226.13,195.8 226.56,195.8 226.99,195.8 227.41,195.8 227.84,195.79 228.27,195.79 228.7,195.79 229.13,195.78 229.56,195.78 229.99,195.78 230.42,195.77 230.84,195.77 231.27,195.77 231.7,195.76 232.13,195.76 232.56,195.75 232.99,195.75 233.42,195.74 233.85,195.74 234.28,195.73 234.7,195.73 235.13,195.72 235.56,195.71 235.99,195.71 236.42,195.7 236.85,195.69 237.28,195.68 237.71,195.67 238.13,195.66 238.56,195.65 238.99,195.64 239.42,195.62 239.85,195.61 240.28,195.59 240.71,195.58 241.14,195.56 241.56,195.53 241.99,195.51 242.42,195.48 242.85,195.45 243.28,195.42 243.71,195.38 244.14,195.33 244.57,195.28 245,195.22 245.42,195.14 245.85,195.06 246.28,194.95 246.71,194.83 247.14,194.69 247.57,194.52 248,194.32 248.43,194.1 248.85,193.86 249.28,193.63 249.71,193.44 250.14,193.31 250.57,193.29 251,193.37 251.43,193.54 251.86,193.75 252.28,193.98 252.71,194.19 253.14,194.38 253.57,194.55 254,194.69 254.43,194.8 254.86,194.9 255.29,194.97 255.72,195.04 256.14,195.09 256.57,195.13 257,195.16 257.43,195.19 257.86,195.21 258.29,195.23 258.72,195.24 259.15,195.25 259.57,195.26 260,195.26 260.43,195.27 260.86,195.27 261.29,195.26 261.72,195.26 262.15,195.25 262.58,195.25 263,195.24 263.43,195.23 263.86,195.22 264.29,195.21 264.72,195.19 265.15,195.18 265.58,195.16 266.01,195.14 266.44,195.13 266.86,195.11 267.29,195.09 267.72,195.06 268.15,195.04 268.58,195.02 269.01,194.99 269.44,194.96 269.87,194.93 270.29,194.9 270.72,194.87 271.15,194.84 271.58,194.8 272.01,194.76 272.44,194.72 272.87,194.68 273.3,194.64 273.72,194.59 274.15,194.54 274.58,194.49 275.01,194.43 275.44,194.38 275.87,194.31 276.3,194.25 276.73,194.18 277.16,194.11 277.58,194.03 278.01,193.95 278.44,193.86 278.87,193.76 279.3,193.66 279.73,193.56 280.16,193.44 280.59,193.32 281.01,193.19 281.44,193.05 281.87,192.9 282.3,192.74 282.73,192.57 283.16,192.38 283.59,192.18 284.02,191.96 284.44,191.72 284.87,191.47 285.3,191.19 285.73,190.88 286.16,190.55 286.59,190.19 287.02,189.8 287.45,189.36 287.88,188.88 288.3,188.36 288.73,187.78 289.16,187.14 289.59,186.43 290.02,185.64 290.45,184.77 290.88,183.8 291.31,182.71 291.73,181.51 292.16,180.17 292.59,178.67 293.02,176.99 293.45,175.12 293.88,173.03 294.31,170.68 294.74,168.04 295.16,165.04 295.59,161.61 296.02,157.68 296.45,153.21 296.88,148.4 297.31,143.91 297.74,140.97 298.17,140.83 298.6,143.52 299.02,147.85 299.45,152.44 299.88,156.49 300.31,159.71 300.74,162.04 301.17,163.5 301.6,164.06 302.03,163.68 302.45,162.31 302.88,160.1 303.31,157.58 303.74,155.92 304.17,156.41 304.6,159.43 305.03,164 305.46,168.83 305.88,173.13 306.31,176.68 306.74,179.51 307.17,181.77 307.6,183.57 308.03,185.03 308.46,186.23 308.89,187.23 309.32,188.07 309.74,188.79 310.17,189.41 310.6,189.94 311.03,190.42 311.46,190.83 311.89,191.21 312.32,191.54 312.75,191.84 313.17,192.11 313.6,192.36 314.03,192.58 314.46,192.79 314.89,192.97 315.32,193.15 315.75,193.31 316.18,193.46 316.6,193.6 317.03,193.72 317.46,193.84 317.89,193.96 318.32,194.06 318.75,194.16 319.18,194.25 319.61,194.34 320.04,194.42 320.46,194.5 320.89,194.57 321.32,194.64 321.75,194.7 322.18,194.77 322.61,194.82 323.04,194.88 323.47,194.93 323.89,194.98 324.32,195.03 324.75,195.08 325.18,195.12 325.61,195.17 326.04,195.21 326.47,195.24 326.9,195.28 327.32,195.32 327.75,195.35 328.18,195.39 328.61,195.42 329.04,195.45 329.47,195.48 329.9,195.51 330.33,195.53 330.76,195.56 331.18,195.59 331.61,195.61 332.04,195.63 332.47,195.66 332.9,195.68 333.33,195.7 333.76,195.72 334.19,195.74 334.61,195.76 335.04,195.78 335.47,195.8 335.9,195.82 336.33,195.84 336.76,195.86 337.19,195.87 337.62,195.89 338.04,195.91 338.47,195.92 338.9,195.94 339.33,195.95 339.76,195.97 340.19,195.98 340.62,196 341.05,196.01 341.48,196.02 341.9,196.04 342.33,196.05 342.76,196.06 343.19,196.07 343.62,196.09 344.05,196.1 344.48,196.11 344.91,196.12 345.33,196.13 345.76,196.15 346.19,196.16 346.62,196.17 347.05,196.18 347.48,196.19 347.91,196.2 348.34,196.21 348.76,196.22 349.19,196.23 349.62,196.24 350.05,196.25 350.48,196.26 350.91,196.27 351.34,196.28 351.77,196.29 352.2,196.3 352.62,196.3 353.05,196.31 353.48,196.32 353.91,196.33 354.34,196.34 354.77,196.35 355.2,196.36 355.63,196.37 356.05,196.37 356.48,196.38 356.91,196.39 357.34,196.4 357.77,196.41 358.2,196.41 358.63,196.42 359.06,196.43 359.48,196.44 359.91,196.45 360.34,196.45 360.77,196.46 361.2,196.47" fill="none" stroke="#111" stroke-width="1.1" stroke-linejoin="round"/>
<path d="M39.6,251.49 40.03,251.44 40.46,251.4 40.89,251.35 41.32,251.29 41.74,251.23 42.17,251.17 42.6,251.09 43.03,251.01 43.46,250.92 43.89,250.81 44.32,250.69 44.75,250.55 45.17,250.39 45.6,250.2 46.03,249.97 46.46,249.7 46.89,249.37 47.32,248.96 47.75,248.45 48.18,247.8 48.6,246.97 49.03,245.9 49.46,244.54 49.89,242.85 50.32,240.92 50.75,239.04 51.18,237.75 51.61,237.58 52.04,238.56 52.46,240.19 52.89,241.88 53.32,243.32 53.75,244.4 54.18,245.12 54.61,245.53 55.04,245.66 55.47,245.52 55.89,245.1 56.32,244.41 56.75,243.43 57.18,242.26 57.61,241.11 58.04,240.36 58.47,240.35 58.9,241.14 59.32,242.43 59.75,243.83 60.18,245.09 60.61,246.14 61.04,246.96 61.47,247.6 61.9,248.08 62.33,248.45 62.76,248.72 63.18,248.91 63.61,249.04 64.04,249.1 64.47,249.08 64.9,248.98 65.33,248.74 65.76,248.29 66.19,247.48 66.61,246.18 67.04,244.83 67.47,244.92 67.9,246.32 68.33,247.58 68.76,248.35 69.19,248.78 69.62,249.03 70.04,249.15 70.47,249.21 70.9,249.21 71.33,249.18 71.76,249.11 72.19,249.02 72.62,248.9 73.05,248.75 73.48,248.58 73.9,248.37 74.33,248.13 74.76,247.85 75.19,247.51 75.62,247.13 76.05,246.67 76.48,246.12 76.91,245.48 77.33,244.72 77.76,243.8 78.19,242.7 78.62,241.38 79.05,239.81 79.48,237.95 79.91,235.81 80.34,233.43 80.76,230.96 81.19,228.68 81.62,226.97 82.05,226.2 82.48,226.57 82.91,227.99 83.34,230.1 83.77,232.52 84.2,234.92 84.62,237.12 85.05,239.05 85.48,240.69 85.91,242.06 86.34,243.2 86.77,244.14 87.2,244.93 87.63,245.58 88.05,246.13 88.48,246.59 88.91,246.98 89.34,247.31 89.77,247.59 90.2,247.82 90.63,248.02 91.06,248.2 91.48,248.34 91.91,248.47 92.34,248.57 92.77,248.66 93.2,248.74 93.63,248.81 94.06,248.86 94.49,248.9 94.92,248.94 95.34,248.97 95.77,248.99 96.2,249.01 96.63,249.02 97.06,249.03 97.49,249.04 97.92,249.04 98.35,249.05 98.77,249.05 99.2,249.05 99.63,249.04 100.06,249.04 100.49,249.04 100.92,249.04 101.35,249.04 101.78,249.05 102.2,249.05 102.63,249.06 103.06,249.07 103.49,249.08 103.92,249.09 104.35,249.1 104.78,249.12 105.21,249.14 105.64,249.16 106.06,249.18 106.49,249.2 106.92,249.22 107.35,249.24 107.78,249.26 108.21,249.29 108.64,249.31 109.07,249.33 109.49,249.35 109.92,249.37 110.35,249.39 110.78,249.41 111.21,249.42 111.64,249.44 112.07,249.45 112.5,249.46 112.92,249.47 113.35,249.48 113.78,249.48 114.21,249.49 114.64,249.49 115.07,249.48 115.5,249.48 115.93,249.47 116.36,249.46 116.78,249.45 117.21,249.43 117.64,249.41 118.07,249.38 118.5,249.36 118.93,249.32 119.36,249.29 119.79,249.25 120.21,249.2 120.64,249.15 121.07,249.09 121.5,249.03 121.93,248.95 122.36,248.87 122.79,248.78 123.22,248.69 123.64,248.58 124.07,248.45 124.5,248.32 124.93,248.17 125.36,248 125.79,247.82 126.22,247.62 126.65,247.39 127.08,247.15 127.5,246.88 127.93,246.59 128.36,246.28 128.79,245.95 129.22,245.61 129.65,245.26 130.08,244.91 130.51,244.58 130.93,244.27 131.36,244.02 131.79,243.83 132.22,243.71 132.65,243.68 133.08,243.74 133.51,243.88 133.94,244.09 134.36,244.36 134.79,244.67 135.22,245.01 135.65,245.35 136.08,245.69 136.51,246.03 136.94,246.34 137.37,246.64 137.8,246.91 138.22,247.16 138.65,247.39 139.08,247.6 139.51,247.79 139.94,247.96 140.37,248.11 140.8,248.25 141.23,248.37 141.65,248.49 142.08,248.59 142.51,248.67 142.94,248.75 143.37,248.83 143.8,248.89 144.23,248.95 144.66,249 145.08,249.04 145.51,249.08 145.94,249.11 146.37,249.14 146.8,249.17 147.23,249.19 147.66,249.2 148.09,249.22 148.52,249.23 148.94,249.23 149.37,249.23 149.8,249.23 150.23,249.23 150.66,249.22 151.09,249.21 151.52,249.2 151.95,249.18 152.37,249.16 152.8,249.14 153.23,249.11 153.66,249.08 154.09,249.05 154.52,249.01 154.95,248.96 155.38,248.91 155.8,248.86 156.23,248.8 156.66,248.73 157.09,248.66 157.52,248.57 157.95,248.48 158.38,248.38 158.81,248.27 159.24,248.14 159.66,248 160.09,247.84 160.52,247.67 160.95,247.47 161.38,247.24 161.81,246.99 162.24,246.7 162.67,246.37 163.09,246 163.52,245.56 163.95,245.06 164.38,244.48 164.81,243.8 165.24,243 165.67,242.06 166.1,240.94 166.52,239.63 166.95,238.08 167.38,236.25 167.81,234.12 168.24,231.71 168.67,229.06 169.1,226.31 169.53,223.73 169.96,221.68 170.38,220.52 170.81,220.51 171.24,221.65 171.67,223.7 172.1,226.27 172.53,229.02 172.96,231.67 173.39,234.09 173.81,236.21 174.24,238.04 174.67,239.6 175.1,240.91 175.53,242.03 175.96,242.97 176.39,243.77 176.82,244.45 177.24,245.03 177.67,245.53 178.1,245.97 178.53,246.35 178.96,246.67 179.39,246.96 179.82,247.22 180.25,247.44 180.68,247.64 181.1,247.82 181.53,247.98 181.96,248.12 182.39,248.25 182.82,248.37 183.25,248.47 183.68,248.57 184.11,248.65 184.53,248.73 184.96,248.8 185.39,248.87 185.82,248.93 186.25,248.99 186.68,249.04 187.11,249.08 187.54,249.13 187.96,249.17 188.39,249.21 188.82,249.24 189.25,249.27 189.68,249.3 190.11,249.33 190.54,249.36 190.97,249.38 191.4,249.4 191.82,249.42 192.25,249.44 192.68,249.46 193.11,249.48 193.54,249.49 193.97,249.51 194.4,249.52 194.83,249.54 195.25,249.55 195.68,249.56 196.11,249.57 196.54,249.58 196.97,249.59 197.4,249.6 197.83,249.61 198.26,249.62 198.68,249.62 199.11,249.63 199.54,249.64 199.97,249.64 200.4,249.65 200.83,249.65 201.26,249.66 201.69,249.66 202.12,249.67 202.54,249.67 202.97,249.67 203.4,249.68 203.83,249.68 204.26,249.68 204.69,249.69 205.12,249.69 205.55,249.69 205.97,249.69 206.4,249.69 206.83,249.7 207.26,249.7 207.69,249.7 208.12,249.7 208.55,249.7 208.98,249.7 209.4,249.7 209.83,249.7 210.26,249.7 210.69,249.7 211.12,249.7 211.55,249.7 211.98,249.7 212.41,249.7 212.84,249.7 213.26,249.7 213.69,249.7 214.12,249.7 214.55,249.7 214.98,249.7 215.41,249.7 215.84,249.69 216.27,249.69 216.69,249.69 217.12,249.69 217.55,249.69 217.98,249.69 218.41,249.68 218.84,249.68 219.27,249.68 219.7,249.68 220.12,249.68 220.55,249.67 220.98,249.67 221.41,249.67 221.84,249.67 222.27,249.67 222.7,249.66 223.13,249.66 223.56,249.66 223.98,249.65 224.41,249.65 224.84,249.65 225.27,249.65 225.7,249.64 226.13,249.64 226.56,249.64 226.99,249.63 227.41,249.63 227.84,249.63 228.27,249.62 228.7,249.62 229.13,249.61 229.56,249.61 229.99,249.61 230.42,249.6 230.84,249.6 231.27,249.59 231.7,249.59 232.13,249.58 232.56,249.58 232.99,249.57 233.42,249.57 233.85,249.56 234.28,249.55 234.7,249.55 235.13,249.54 235.56,249.54 235.99,249.53 236.42,249.52 236.85,249.51 237.28,249.5 237.71,249.5 238.13,249.49 238.56,249.48 238.99,249.46 239.42,249.45 239.85,249.44 240.28,249.43 240.71,249.41 241.14,249.4 241.56,249.38 241.99,249.36 242.42,249.34 242.85,249.31 243.28,249.28 243.71,249.25 244.14,249.21 244.57,249.17 245,249.12 245.42,249.06 245.85,248.99 246.28,248.9 246.71,248.8 247.14,248.67 247.57,248.51 248,248.3 248.43,248.05 248.85,247.75 249.28,247.41 249.71,247.05 250.14,246.75 250.57,246.58 251,246.62 251.43,246.85 251.86,247.17 252.28,247.51 252.71,247.83 253.14,248.09 253.57,248.31 254,248.47 254.43,248.61 254.86,248.71 255.29,248.79 255.72,248.86 256.14,248.91 256.57,248.95 257,248.98 257.43,249 257.86,249.02 258.29,249.04 258.72,249.05 259.15,249.05 259.57,249.06 260,249.06 260.43,249.06 260.86,249.06 261.29,249.05 261.72,249.05 262.15,249.04 262.58,249.03 263,249.03 263.43,249.02 263.86,249 264.29,248.99 264.72,248.98 265.15,248.96 265.58,248.95 266.01,248.93 266.44,248.91 266.86,248.9 267.29,248.88 267.72,248.86 268.15,248.83 268.58,248.81 269.01,248.79 269.44,248.76 269.87,248.73 270.29,248.71 270.72,248.68 271.15,248.65 271.58,248.61 272.01,248.58 272.44,248.54 272.87,248.5 273.3,248.46 273.72,248.42 274.15,248.37 274.58,248.33 275.01,248.28 275.44,248.22 275.87,248.17 276.3,248.11 276.73,248.04 277.16,247.97 277.58,247.9 278.01,247.82 278.44,247.74 278.87,247.65 279.3,247.56 279.73,247.46 280.16,247.35 280.59,247.24 281.01,247.11 281.44,246.98 281.87,246.83 282.3,246.67 282.73,246.5 283.16,246.32 283.59,246.11 284.02,245.89 284.44,245.65 284.87,245.39 285.3,245.1 285.73,244.78 286.16,244.42 286.59,244.03 287.02,243.59 287.45,243.11 287.88,242.56 288.3,241.95 288.73,241.27 289.16,240.49 289.59,239.61 290.02,238.62 290.45,237.48 290.88,236.17 291.31,234.67 291.73,232.92 292.16,230.88 292.59,228.48 293.02,225.62 293.45,222.2 293.88,218.04 294.31,212.97 294.74,206.82 295.16,199.5 295.59,191.16 296.02,182.55 296.45,175.16 296.88,170.96 297.31,171.34 297.74,176.04 298.17,183.31 298.6,191.16 299.02,198.23 299.45,203.89 299.88,207.93 300.31,210.37 300.74,211.21 301.17,210.42 301.6,207.88 302.03,203.51 302.45,197.46 302.88,190.62 303.31,185.06 303.74,183.54 304.17,187.37 304.6,195.1 305.03,204.03 305.46,212.25 305.88,219.06 306.31,224.45 306.74,228.65 307.17,231.92 307.6,234.49 308.03,236.54 308.46,238.19 308.89,239.54 309.32,240.66 309.74,241.59 310.17,242.38 310.6,243.05 311.03,243.63 311.46,244.13 311.89,244.57 312.32,244.95 312.75,245.29 313.17,245.6 313.6,245.87 314.03,246.11 314.46,246.33 314.89,246.53 315.32,246.71 315.75,246.88 316.18,247.03 316.6,247.17 317.03,247.29 317.46,247.41 317.89,247.52 318.32,247.62 318.75,247.71 319.18,247.8 319.61,247.88 320.04,247.96 320.46,248.03 320.89,248.1 321.32,248.16 321.75,248.22 322.18,248.27 322.61,248.33 323.04,248.37 323.47,248.42 323.89,248.47 324.32,248.51 324.75,248.55 325.18,248.58 325.61,248.62 326.04,248.65 326.47,248.69 326.9,248.72 327.32,248.75 327.75,248.78 328.18,248.8 328.61,248.83 329.04,248.85 329.47,248.88 329.9,248.9 330.33,248.92 330.76,248.94 331.18,248.96 331.61,248.98 332.04,249 332.47,249.02 332.9,249.03 333.33,249.05 333.76,249.07 334.19,249.08 334.61,249.1 335.04,249.11 335.47,249.13 335.9,249.14 336.33,249.15 336.76,249.17 337.19,249.18 337.62,249.19 338.04,249.2 338.47,249.21 338.9,249.22 339.33,249.23 339.76,249.24 340.19,249.25 340.62,249.26 341.05,249.27 341.48,249.28 341.9,249.29 342.33,249.3 342.76,249.31 343.19,249.32 343.62,249.32 344.05,249.33 344.48,249.34 344.91,249.35 345.33,249.35 345.76,249.36 346.19,249.37 346.62,249.38 347.05,249.38 347.48,249.39 347.91,249.4 348.34,249.4 348.76,249.41 349.19,249.41 349.62,249.42 350.05,249.43 350.48,249.43 350.91,249.44 351.34,249.44 351.77,249.45 352.2,249.45 352.62,249.46 353.05,249.46 353.48,249.47 353.91,249.47 354.34,249.48 354.77,249.48 355.2,249.49 355.63,249.49 356.05,249.5 356.48,249.5 356.91,249.51 357.34,249.51 357.77,249.52 358.2,249.52 358.63,249.52 359.06,249.53 359.48,249.53 359.91,249.54 360.34,249.54 360.77,249.55 361.2,249.55 L361.2,254.45 L39.6,254.45 Z" fill="#d95f02" fill-opacity="0.8"/>
<path d="M39.6,251.49 40.03,251.44 40.46,251.4 40.89,251.35 41.32,251.29 41.74,251.23 42.17,251.17 42.6,251.09 43.03,251.01 43.46,250.92 43.89,250.81 44.32,250.69 44.75,250.55 45.17,250.39 45.6,250.2 46.03,249.97 46.46,249.7 46.89,249.37 47.32,248.96 47.75,248.45 48.18,247.8 48.6,246.97 49.03,245.9 49.46,244.54 49.89,242.85 50.32,240.92 50.75,239.04 51.18,237.75 51.61,237.58 52.04,238.56 52.46,240.19 52.89,241.88 53.32,243.32 53.75,244.4 54.18,245.12 54.61,245.53 55.04,245.66 55.47,245.52 55.89,245.1 56.32,244.41 56.75,243.43 57.18,242.26 57.61,241.11 58.04,240.36 58.47,240.35 58.9,241.14 59.32,242.43 59.75,243.83 60.18,245.09 60.61,246.14 61.04,246.96 61.47,247.6 61.9,248.08 62.33,248.45 62.76,248.72 63.18,248.91 63.61,249.04 64.04,249.1 64.47,249.08 64.9,248.98 65.33,248.74 65.76,248.29 66.19,247.48 66.61,246.18 67.04,244.83 67.47,244.92 67.9,246.32 68.33,247.58 68.76,248.35 69.19,248.78 69.62,249.03 70.04,249.15 70.47,249.21 70.9,249.21 71.33,249.18 71.76,249.11 72.19,249.02 72.62,248.9 73.05,248.75 73.48,248.58 73.9,248.37 74.33,248.13 74.76,247.85 75.19,247.51 75.62,247.13 76.05,246.67 76.48,246.12 76.91,245.48 77.33,244.72 77.76,243.8 78.19,242.7 78.62,241.38 79.05,239.81 79.48,237.95 79.91,235.81 80.34,233.43 80.76,230.96 81.19,228.68 81.62,226.97 82.05,226.2 82.48,226.57 82.91,227.99 83.34,230.1 83.77,232.52 84.2,234.92 84.62,237.12 85.05,239.05 85.48,240.69 85.91,242.06 86.34,243.2 86.77,244.14 87.2,244.93 87.63,245.58 88.05,246.13 88.48,246.59 88.91,246.98 89.34,247.31 89.77,247.59 90.2,247.82 90.63,248.02 91.06,248.2 91.48,248.34 91.91,248.47 92.34,248.57 92.77,248.66 93.2,248.74 93.63,248.81 94.06,248.86 94.49,248.9 94.92,248.94 95.34,248.97 95.77,248.99 96.2,249.01 96.63,249.02 97.06,249.03 97.49,249.04 97.92,249.04 98.35,249.05 98.77,249.05 99.2,249.05 99.63,249.04 100.06,249.04 100.49,249.04 100.92,249.04 101.35,249.04 101.78,249.05 102.2,249.05 102.63,249.06 103.06,249.07 103.49,249.08 103.92,249.09 104.35,249.1 104.78,249.12 105.21,249.14 105.64,249.16 106.06,249.18 106.49,249.2 106.92,249.22 107.35,249.24 107.78,249.26 108.21,249.29 108.64,249.31 109.07,249.33 109.49,249.35 109.92,249.37 110.35,249.39 110.78,249.41 111.21,249.42 111.64,249.44 112.07,249.45 112.5,249.46 112.92,249.47 113.35,249.48 113.78,249.48 114.21,249.49 114.64,249.49 115.07,249.48 115.5,249.48 115.93,249.47 116.36,249.46 116.78,249.45 117.21,249.43 117.64,249.41 118.07,249.38 118.5,249.36 118.93,249.32 119.36,249.29 119.79,249.25 120.21,249.2 120.64,249.15 121.07,249.09 121.5,249.03 121.93,248.95 122.36,248.87 122.79,248.78 123.22,248.69 123.64,248.58 124.07,248.45 124.5,248.32 124.93,248.17 125.36,248 125.79,247.82 126.22,247.62 126.65,247.39 127.08,247.15 127.5,246.88 127.93,246.59 128.36,246.28 128.79,245.95 129.22,245.61 129.65,245.26 130.08,244.91 130.51,244.58 130.93,244.27 131.36,244.02 131.79,243.83 132.22,243.71 132.65,243.68 133.08,243.74 133.51,243.88 133.94,244.09 134.36,244.36 134.79,244.67 135.22,245.01 135.65,245.35 136.08,245.69 136.51,246.03 136.94,246.34 137.37,246.64 137.8,246.91 138.22,247.16 138.65,247.39 139.08,247.6 139.51,247.79 139.94,247.96 140.37,248.11 140.8,248.25 141.23,248.37 141.65,248.49 142.08,248.59 142.51,248.67 142.94,248.75 143.37,248.83 143.8,248.89 144.23,248.95 144.66,249 145.08,249.04 145.51,249.08 145.94,249.11 146.37,249.14 146.8,249.17 147.23,249.19 147.66,249.2 148.09,249.22 148.52,249.23 148.94,249.23 149.37,249.23 149.8,249.23 150.23,249.23 150.66,249.22 151.09,249.21 151.52,249.2 151.95,249.18 152.37,249.16 152.8,249.14 153.23,249.11 153.66,249.08 154.09,249.05 154.52,249.01 154.95,248.96 155.38,248.91 155.8,248.86 156.23,248.8 156.66,248.73 157.09,248.66 157.52,248.57 157.95,248.48 158.38,248.38 158.81,248.27 159.24,248.14 159.66,248 160.09,247.84 160.52,247.67 160.95,247.47 161.38,247.24 161.81,246.99 162.24,246.7 162.67,246.37 163.09,246 163.52,245.56 163.95,245.06 164.38,244.48 164.81,243.8 165.24,243 165.67,242.06 166.1,240.94 166.52,239.63 166.95,238.08 167.38,236.25 167.81,234.12 168.24,231.71 168.67,229.06 169.1,226.31 169.53,223.73 169.96,221.68 170.38,220.52 170.81,220.51 171.24,221.65 171.67,223.7 172.1,226.27 172.53,229.02 172.96,231.67 173.39,234.09 173.81,236.21 174.24,238.04 174.67,239.6 175.1,240.91 175.53,242.03 175.96,242.97 176.39,243.77 176.82,244.45 177.24,245.03 177.67,245.53 178.1,245.97 178.53,246.35 178.96,246.67 179.39,246.96 179.82,247.22 180.25,247.44 180.68,247.64 181.1,247.82 181.53,247.98 181.96,248.12 182.39,248.25 182.82,248.37 183.25,248.47 183.68,248.57 184.11,248.65 184.53,248.73 184.96,248.8 185.39,248.87 185.82,248.93 186.25,248.99 186.68,249.04 187.11,249.08 187.54,249.13 187.96,249.17 188.39,249.21 188.82,249.24 189.25,249.27 189.68,249.3 190.11,249.33 190.54,249.36 190.97,249.38 191.4,249.4 191.82,249.42 192.25,249.44 192.68,249.46 193.11,249.48 193.54,249.49 193.97,249.51 194.4,249.52 194.83,249.54 195.25,249.55 195.68,249.56 196.11,249.57 196.54,249.58 196.97,249.59 197.4,249.6 197.83,249.61 198.26,249.62 198.68,249.62 199.11,249.63 199.54,249.64 199.97,249.64 200.4,249.65 200.83,249.65 201.26,249.66 201.69,249.66 202.12,249.67 202.54,249.67 202.97,249.67 203.4,249.68 203.83,249.68 204.26,249.68 204.69,249.69 205.12,249.69 205.55,249.69 205.97,249.69 206.4,249.69 206.83,249.7 207.26,249.7 207.69,249.7 208.12,249.7 208.55,249.7 208.98,249.7 209.4,249.7 209.83,249.7 210.26,249.7 210.69,249.7 211.12,249.7 211.55,249.7 211.98,249.7 212.41,249.7 212.84,249.7 213.26,249.7 213.69,249.7 214.12,249.7 214.55,249.7 214.98,249.7 215.41,249.7 215.84,249.69 216.27,249.69 216.69,249.69 217.12,249.69 217.55,249.69 217.98,249.69 218.41,249.68 218.84,249.68 219.27,249.68 219.7,249.68 220.12,249.68 220.55,249.67 220.98,249.67 221.41,249.67 221.84,249.67 222.27,249.67 222.7,249.66 223.13,249.66 223.56,249.66 223.98,249.65 224.41,249.65 224.84,249.65 225.27,249.65 225.7,249.64 226.13,249.64 226.56,249.64 226.99,249.63 227.41,249.63 227.84,249.63 228.27,249.62 228.7,249.62 229.13,249.61 229.56,249.61 229.99,249.61 230.42,249.6 230.84,249.6 231.27,249.59 231.7,249.59 232.13,249.58 232.56,249.58 232.99,249.57 233.42,249.57 233.85,249.56 234.28,249.55 234.7,249.55 235.13,249.54 235.56,249.54 235.99,249.53 236.42,249.52 236.85,249.51 237.28,249.5 237.71,249.5 238.13,249.49 238.56,249.48 238.99,249.46 239.42,249.45 239.85,249.44 240.28,249.43 240.71,249.41 241.14,249.4 241.56,249.38 241.99,249.36 242.42,249.34 242.85,249.31 243.28,249.28 243.71,249.25 244.14,249.21 244.57,249.17 245,249.12 245.42,249.06 245.85,248.99 246.28,248.9 246.71,248.8 247.14,248.67 247.57,248.51 248,248.3 248.43,248.05 248.85,247.75 249.28,247.41 249.71,247.05 250.14,246.75 250.57,246.58 251,246.62 251.43,246.85 251.86,247.17 252.28,247.51 252.71,247.83 253.14,248.09 253.57,248.31 254,248.47 254.43,248.61 254.86,248.71 255.29,248.79 255.72,248.86 256.14,248.91 256.57,248.95 257,248.98 257.43,249 257.86,249.02 258.29,249.04 258.72,249.05 259.15,249.05 259.57,249.06 260,249.06 260.43,249.06 260.86,249.06 261.29,249.05 261.72,249.05 262.15,249.04 262.58,249.03 263,249.03 263.43,249.02 263.86,249 264.29,248.99 264.72,248.98 265.15,248.96 265.58,248.95 266.01,248.93 266.44,248.91 266.86,248.9 267.29,248.88 267.72,248.86 268.15,248.83 268.58,248.81 269.01,248.79 269.44,248.76 269.87,248.73 270.29,248.71 270.72,248.68 271.15,248.65 271.58,248.61 272.01,248.58 272.44,248.54 272.87,248.5 273.3,248.46 273.72,248.42 274.15,248.37 274.58,248.33 275.01,248.28 275.44,248.22 275.87,248.17 276.3,248.11 276.73,248.04 277.16,247.97 277.58,247.9 278.01,247.82 278.44,247.74 278.87,247.65 279.3,247.56 279.73,247.46 280.16,247.35 280.59,247.24 281.01,247.11 281.44,246.98 281.87,246.83 282.3,246.67 282.73,246.5 283.16,246.32 283.59,246.11 284.02,245.89 284.44,245.65 284.87,245.39 285.3,245.1 285.73,244.78 286.16,244.42 286.59,244.03 287.02,243.59 287.45,243.11 287.88,242.56 288.3,241.95 288.73,241.27 289.16,240.49 289.59,239.61 290.02,238.62 290.45,237.48 290.88,236.17 291.31,234.67 291.73,232.92 292.16,230.88 292.59,228.48 293.02,225.62 293.45,222.2 293.88,218.04 294.31,212.97 294.74,206.82 295.16,199.5 295.59,191.16 296.02,182.55 296.45,175.16 296.88,170.96 297.31,171.34 297.74,176.04 298.17,183.31 298.6,191.16 299.02,198.23 299.45,203.89 299.88,207.93 300.31,210.37 300.74,211.21 301.17,210.42 301.6,207.88 302.03,203.51 302.45,197.46 302.88,190.62 303.31,185.06 303.74,183.54 304.17,187.37 304.6,195.1 305.03,204.03 305.46,212.25 305.88,219.06 306.31,224.45 306.74,228.65 307.17,231.92 307.6,234.49 308.03,236.54 308.46,238.19 308.89,239.54 309.32,240.66 309.74,241.59 310.17,242.38 310.6,243.05 311.03,243.63 311.46,244.13 311.89,244.57 312.32,244.95 312.75,245.29 313.17,245.6 313.6,245.87 314.03,246.11 314.46,246.33 314.89,246.53 315.32,246.71 315.75,246.88 316.18,247.03 316.6,247.17 317.03,247.29 317.46,247.41 317.89,247.52 318.32,247.62 318.75,247.71 319.18,247.8 319.61,247.88 320.04,247.96 320.46,248.03 320.89,248.1 321.32,248.16 321.75,248.22 322.18,248.27 322.61,248.33 323.04,248.37 323.47,248.42 323.89,248.47 324.32,248.51 324.75,248.55 325.18,248.58 325.61,248.62 326.04,248.65 326.47,248.69 326.9,248.72 327.32,248.75 327.75,248.78 328.18,248.8 328.61,248.83 329.04,248.85 329.47,248.88 329.9,248.9 330.33,248.92 330.76,248.94 331.18,248.96 331.61,248.98 332.04,249 332.47,249.02 332.9,249.03 333.33,249.05 333.76,249.07 334.19,249.08 334.61,249.1 335.04,249.11 335.47,249.13 335.9,249.14 336.33,249.15 336.76,249.17 337.19,249.18 337.62,249.19 338.04,249.2 338.47,249.21 338.9,249.22 339.33,249.23 339.76,249.24 340.19,249.25 340.62,249.26 341.05,249.27 341.48,249.28 341.9,249.29 342.33,249.3 342.76,249.31 343.19,249.32 343.62,249.32 344.05,249.33 344.48,249.34 344.91,249.35 345.33,249.35 345.76,249.36 346.19,249.37 346.62,249.38 347.05,249.38 347.48,249.39 347.91,249.4 348.34,249.4 348.76,249.41 349.19,249.41 349.62,249.42 350.05,249.43 350.48,249.43 350.91,249.44 351.34,249.44 351.77,249.45 352.2,249.45 352.62,249.46 353.05,249.46 353.48,249.47 353.91,249.47 354.34,249.48 354.77,249.48 355.2,249.49 355.63,249.49 356.05,249.5 356.48,249.5 356.91,249.51 357.34,249.51 357.77,249.52 358.2,249.52 358.63,249.52 359.06,249.53 359.48,249.53 359.91,249.54 360.34,249.54 360.77,249.55 361.2,249.55" fill="none" stroke="#111" stroke-width="1.1" stroke-linejoin="round"/>
<path d="M39.6,302.46 40.03,302.42 40.46,302.38 40.89,302.33 41.32,302.29 41.74,302.23 42.17,302.17 42.6,302.11 43.03,302.03 43.46,301.95 43.89,301.85 44.32,301.74 44.75,301.62 45.17,301.47 45.6,301.29 46.03,301.08 46.46,300.82 46.89,300.51 47.32,300.13 47.75,299.65 48.18,299.05 48.6,298.29 49.03,297.35 49.46,296.21 49.89,294.89 50.32,293.55 50.75,292.48 51.18,292.01 51.61,292.32 52.04,293.25 52.46,294.45 52.89,295.63 53.32,296.63 53.75,297.4 54.18,297.96 54.61,298.31 55.04,298.49 55.47,298.5 55.89,298.32 56.32,297.92 56.75,297.27 57.18,296.3 57.61,295.02 58.04,293.57 58.47,292.44 58.9,292.27 59.32,293.2 59.75,294.71 60.18,296.2 60.61,297.42 61.04,298.33 61.47,299 61.9,299.48 62.33,299.82 62.76,300.06 63.18,300.22 63.61,300.31 64.04,300.34 64.47,300.31 64.9,300.2 65.33,299.99 65.76,299.62 66.19,298.97 66.61,297.87 67.04,296.17 67.47,294.56 67.9,294.88 68.33,296.64 68.76,298.12 69.19,299.01 69.62,299.51 70.04,299.79 70.47,299.93 70.9,299.99 71.33,300 71.76,299.97 72.19,299.9 72.62,299.81 73.05,299.69 73.48,299.55 73.9,299.39 74.33,299.2 74.76,298.98 75.19,298.74 75.62,298.47 76.05,298.16 76.48,297.8 76.91,297.41 77.33,296.95 77.76,296.44 78.19,295.86 78.62,295.19 79.05,294.42 79.48,293.54 79.91,292.52 80.34,291.35 80.76,289.99 81.19,288.43 81.62,286.63 82.05,284.58 82.48,282.27 82.91,279.71 83.34,276.98 83.77,274.19 84.2,271.54 84.62,269.3 85.05,267.76 85.48,267.14 85.91,267.56 86.34,268.95 86.77,271.08 87.2,273.67 87.63,276.44 88.05,279.19 88.48,281.78 88.91,284.13 89.34,286.22 89.77,288.06 90.2,289.66 90.63,291.05 91.06,292.25 91.48,293.28 91.91,294.19 92.34,294.97 92.77,295.65 93.2,296.25 93.63,296.77 94.06,297.23 94.49,297.64 94.92,298 95.34,298.32 95.77,298.61 96.2,298.87 96.63,299.09 97.06,299.3 97.49,299.49 97.92,299.66 98.35,299.81 98.77,299.94 99.2,300.07 99.63,300.18 100.06,300.29 100.49,300.38 100.92,300.47 101.35,300.55 101.78,300.62 102.2,300.68 102.63,300.74 103.06,300.8 103.49,300.84 103.92,300.89 104.35,300.93 104.78,300.97 105.21,301 105.64,301.03 106.06,301.06 106.49,301.08 106.92,301.1 107.35,301.12 107.78,301.13 108.21,301.15 108.64,301.16 109.07,301.17 109.49,301.17 109.92,301.18 110.35,301.18 110.78,301.18 111.21,301.17 111.64,301.17 112.07,301.16 112.5,301.15 112.92,301.14 113.35,301.13 113.78,301.11 114.21,301.09 114.64,301.07 115.07,301.05 115.5,301.02 115.93,300.99 116.36,300.96 116.78,300.92 117.21,300.89 117.64,300.84 118.07,300.8 118.5,300.75 118.93,300.69 119.36,300.64 119.79,300.57 120.21,300.51 120.64,300.43 121.07,300.35 121.5,300.27 121.93,300.17 122.36,300.07 122.79,299.97 123.22,299.85 123.64,299.72 124.07,299.59 124.5,299.45 124.93,299.29 125.36,299.13 125.79,298.95 126.22,298.76 126.65,298.57 127.08,298.36 127.5,298.14 127.93,297.92 128.36,297.69 128.79,297.45 129.22,297.22 129.65,296.99 130.08,296.77 130.51,296.56 130.93,296.38 131.36,296.22 131.79,296.09 132.22,296 132.65,295.95 133.08,295.94 133.51,295.98 133.94,296.05 134.36,296.16 134.79,296.31 135.22,296.48 135.65,296.68 136.08,296.89 136.51,297.1 136.94,297.33 137.37,297.56 137.8,297.78 138.22,298 138.65,298.2 139.08,298.4 139.51,298.59 139.94,298.77 140.37,298.94 140.8,299.1 141.23,299.25 141.65,299.38 142.08,299.51 142.51,299.62 142.94,299.73 143.37,299.83 143.8,299.92 144.23,300 144.66,300.07 145.08,300.14 145.51,300.2 145.94,300.26 146.37,300.31 146.8,300.35 147.23,300.39 147.66,300.43 148.09,300.46 148.52,300.48 148.94,300.5 149.37,300.52 149.8,300.53 150.23,300.54 150.66,300.54 151.09,300.54 151.52,300.54 151.95,300.53 152.37,300.52 152.8,300.5 153.23,300.48 153.66,300.45 154.09,300.42 154.52,300.38 154.95,300.34 155.38,300.29 155.8,300.24 156.23,300.17 156.66,300.11 157.09,300.03 157.52,299.94 157.95,299.84 158.38,299.73 158.81,299.61 159.24,299.47 159.66,299.32 160.09,299.14 160.52,298.95 160.95,298.73 161.38,298.48 161.81,298.2 162.24,297.88 162.67,297.52 163.09,297.1 163.52,296.62 163.95,296.07 164.38,295.43 164.81,294.69 165.24,293.82 165.67,292.81 166.1,291.62 166.52,290.23 166.95,288.62 167.38,286.75 167.81,284.62 168.24,282.26 168.67,279.74 169.1,277.22 169.53,274.93 169.96,273.19 170.38,272.29 170.81,272.4 171.24,273.49 171.67,275.38 172.1,277.74 172.53,280.28 172.96,282.78 173.39,285.11 173.81,287.19 174.24,289.01 174.67,290.58 175.1,291.94 175.53,293.09 175.96,294.08 176.39,294.93 176.82,295.65 177.24,296.28 177.67,296.83 178.1,297.3 178.53,297.71 178.96,298.07 179.39,298.39 179.82,298.67 180.25,298.93 180.68,299.15 181.1,299.35 181.53,299.53 181.96,299.69 182.39,299.83 182.82,299.97 183.25,300.09 183.68,300.19 184.11,300.29 184.53,300.39 184.96,300.47 185.39,300.55 185.82,300.62 186.25,300.68 186.68,300.74 187.11,300.8 187.54,300.85 187.96,300.9 188.39,300.94 188.82,300.98 189.25,301.02 189.68,301.06 190.11,301.09 190.54,301.12 190.97,301.15 191.4,301.18 191.82,301.21 192.25,301.23 192.68,301.25 193.11,301.28 193.54,301.3 193.97,301.32 194.4,301.33 194.83,301.35 195.25,301.37 195.68,301.38 196.11,301.4 196.54,301.41 196.97,301.42 197.4,301.44 197.83,301.45 198.26,301.46 198.68,301.47 199.11,301.48 199.54,301.49 199.97,301.5 200.4,301.5 200.83,301.51 201.26,301.52 201.69,301.53 202.12,301.53 202.54,301.54 202.97,301.55 203.4,301.55 203.83,301.56 204.26,301.56 204.69,301.57 205.12,301.57 205.55,301.58 205.97,301.58 206.4,301.58 206.83,301.59 207.26,301.59 207.69,301.59 208.12,301.6 208.55,301.6 208.98,301.6 209.4,301.6 209.83,301.61 210.26,301.61 210.69,301.61 211.12,301.61 211.55,301.61 211.98,301.61 212.41,301.61 212.84,301.62 213.26,301.62 213.69,301.62 214.12,301.62 214.55,301.62 214.98,301.62 215.41,301.62 215.84,301.62 216.27,301.62 216.69,301.62 217.12,301.62 217.55,301.62 217.98,301.62 218.41,301.62 218.84,301.62 219.27,301.62 219.7,301.62 220.12,301.61 220.55,301.61 220.98,301.61 221.41,301.61 221.84,301.61 222.27,301.61 222.7,301.61 223.13,301.6 223.56,301.6 223.98,301.6 224.41,301.6 224.84,301.6 225.27,301.59 225.7,301.59 226.13,301.59 226.56,301.59 226.99,301.58 227.41,301.58 227.84,301.58 228.27,301.57 228.7,301.57 229.13,301.57 229.56,301.56 229.99,301.56 230.42,301.55 230.84,301.55 231.27,301.55 231.7,301.54 232.13,301.54 232.56,301.53 232.99,301.52 233.42,301.52 233.85,301.51 234.28,301.51 234.7,301.5 235.13,301.49 235.56,301.48 235.99,301.47 236.42,301.46 236.85,301.45 237.28,301.44 237.71,301.43 238.13,301.42 238.56,301.41 238.99,301.39 239.42,301.38 239.85,301.36 240.28,301.34 240.71,301.32 241.14,301.3 241.56,301.27 241.99,301.24 242.42,301.21 242.85,301.17 243.28,301.13 243.71,301.08 244.14,301.03 244.57,300.96 245,300.88 245.42,300.79 245.85,300.68 246.28,300.54 246.71,300.38 247.14,300.17 247.57,299.92 248,299.61 248.43,299.23 248.85,298.79 249.28,298.31 249.71,297.84 250.14,297.48 250.57,297.34 251,297.47 251.43,297.81 251.86,298.26 252.28,298.74 252.71,299.16 253.14,299.53 253.57,299.82 254,300.06 254.43,300.25 254.86,300.41 255.29,300.53 255.72,300.63 256.14,300.7 256.57,300.77 257,300.82 257.43,300.86 257.86,300.89 258.29,300.92 258.72,300.94 259.15,300.96 259.57,300.97 260,300.98 260.43,300.99 260.86,300.99 261.29,300.99 261.72,300.99 262.15,300.99 262.58,300.99 263,300.98 263.43,300.97 263.86,300.97 264.29,300.96 264.72,300.95 265.15,300.93 265.58,300.92 266.01,300.9 266.44,300.89 266.86,300.87 267.29,300.85 267.72,300.83 268.15,300.81 268.58,300.79 269.01,300.77 269.44,300.74 269.87,300.72 270.29,300.69 270.72,300.66 271.15,300.63 271.58,300.6 272.01,300.57 272.44,300.53 272.87,300.49 273.3,300.45 273.72,300.41 274.15,300.37 274.58,300.32 275.01,300.27 275.44,300.22 275.87,300.16 276.3,300.1 276.73,300.04 277.16,299.98 277.58,299.91 278.01,299.83 278.44,299.75 278.87,299.67 279.3,299.58 279.73,299.48 280.16,299.38 280.59,299.27 281.01,299.15 281.44,299.02 281.87,298.88 282.3,298.73 282.73,298.57 283.16,298.4 283.59,298.21 284.02,298.01 284.44,297.78 284.87,297.54 285.3,297.27 285.73,296.97 286.16,296.64 286.59,296.28 287.02,295.88 287.45,295.44 287.88,294.94 288.3,294.38 288.73,293.75 289.16,293.03 289.59,292.22 290.02,291.3 290.45,290.23 290.88,289.01 291.31,287.59 291.73,285.93 292.16,283.99 292.59,281.71 293.02,279.02 293.45,275.84 293.88,272.09 294.31,267.69 294.74,262.58 295.16,256.8 295.59,250.5 296.02,244.05 296.45,238.08 296.88,233.44 297.31,230.95 297.74,231.05 298.17,233.59 298.6,237.87 299.02,242.97 299.45,248.09 299.88,252.65 300.31,256.33 300.74,258.96 301.17,260.45 301.6,260.76 302.03,259.86 302.45,257.8 302.88,254.77 303.31,251.3 303.74,248.36 304.17,247.17 304.6,248.6 305.03,252.54 305.46,258.04 305.88,263.95 306.31,269.49 306.74,274.3 307.17,278.33 307.6,281.63 308.03,284.33 308.46,286.54 308.89,288.37 309.32,289.88 309.74,291.14 310.17,292.21 310.6,293.12 311.03,293.9 311.46,294.58 311.89,295.17 312.32,295.68 312.75,296.14 313.17,296.54 313.6,296.9 314.03,297.22 314.46,297.51 314.89,297.77 315.32,298 315.75,298.22 316.18,298.41 316.6,298.59 317.03,298.76 317.46,298.91 317.89,299.05 318.32,299.18 318.75,299.3 319.18,299.41 319.61,299.51 320.04,299.61 320.46,299.7 320.89,299.78 321.32,299.86 321.75,299.93 322.18,300 322.61,300.07 323.04,300.13 323.47,300.19 323.89,300.24 324.32,300.29 324.75,300.34 325.18,300.39 325.61,300.43 326.04,300.47 326.47,300.51 326.9,300.55 327.32,300.59 327.75,300.62 328.18,300.65 328.61,300.68 329.04,300.71 329.47,300.74 329.9,300.77 330.33,300.79 330.76,300.82 331.18,300.84 331.61,300.87 332.04,300.89 332.47,300.91 332.9,300.93 333.33,300.95 333.76,300.97 334.19,300.99 334.61,301 335.04,301.02 335.47,301.04 335.9,301.05 336.33,301.07 336.76,301.08 337.19,301.09 337.62,301.11 338.04,301.12 338.47,301.13 338.9,301.14 339.33,301.16 339.76,301.17 340.19,301.18 340.62,301.19 341.05,301.2 341.48,301.21 341.9,301.22 342.33,301.23 342.76,301.24 343.19,301.25 343.62,301.26 344.05,301.26 344.48,301.27 344.91,301.28 345.33,301.29 345.76,301.3 346.19,301.3 346.62,301.31 347.05,301.32 347.48,301.32 347.91,301.33 348.34,301.34 348.76,301.34 349.19,301.35 349.62,301.35 350.05,301.36 350.48,301.37 350.91,301.37 351.34,301.38 351.77,301.38 352.2,301.39 352.62,301.39 353.05,301.4 353.48,301.4 353.91,301.41 354.34,301.41 354.77,301.42 355.2,301.42 355.63,301.42 356.05,301.43 356.48,301.43 356.91,301.44 357.34,301.44 357.77,301.44 358.2,301.45 358.63,301.45 359.06,301.45 359.48,301.46 359.91,301.46 360.34,301.47 360.77,301.47 361.2,301.47 L361.2,307.73 L39.6,307.73 Z" fill="#7570b3" fill-opacity="0.8"/>
<path d="M39.6,302.46 40.03,302.42 40.46,302.38 40.89,302.33 41.32,302.29 41.74,302.23 42.17,302.17 42.6,302.11 43.03,302.03 43.46,301.95 43.89,301.85 44.32,301.74 44.75,301.62 45.17,301.47 45.6,301.29 46.03,301.08 46.46,300.82 46.89,300.51 47.32,300.13 47.75,299.65 48.18,299.05 48.6,298.29 49.03,297.35 49.46,296.21 49.89,294.89 50.32,293.55 50.75,292.48 51.18,292.01 51.61,292.32 52.04,293.25 52.46,294.45 52.89,295.63 53.32,296.63 53.75,297.4 54.18,297.96 54.61,298.31 55.04,298.49 55.47,298.5 55.89,298.32 56.32,297.92 56.75,297.27 57.18,296.3 57.61,295.02 58.04,293.57 58.47,292.44 58.9,292.27 59.32,293.2 59.75,294.71 60.18,296.2 60.61,297.42 61.04,298.33 61.47,299 61.9,299.48 62.33,299.82 62.76,300.06 63.18,300.22 63.61,300.31 64.04,300.34 64.47,300.31 64.9,300.2 65.33,299.99 65.76,299.62 66.19,298.97 66.61,297.87 67.04,296.17 67.47,294.56 67.9,294.88 68.33,296.64 68.76,298.12 69.19,299.01 69.62,299.51 70.04,299.79 70.47,299.93 70.9,299.99 71.33,300 71.76,299.97 72.19,299.9 72.62,299.81 73.05,299.69 73.48,299.55 73.9,299.39 74.33,299.2 74.76,298.98 75.19,298.74 75.62,298.47 76.05,298.16 76.48,297.8 76.91,297.41 77.33,296.95 77.76,296.44 78.19,295.86 78.62,295.19 79.05,294.42 79.48,293.54 79.91,292.52 80.34,291.35 80.76,289.99 81.19,288.43 81.62,286.63 82.05,284.58 82.48,282.27 82.91,279.71 83.34,276.98 83.77,274.19 84.2,271.54 84.62,269.3 85.05,267.76 85.48,267.14 85.91,267.56 86.34,268.95 86.77,271.08 87.2,273.67 87.63,276.44 88.05,279.19 88.48,281.78 88.91,284.13 89.34,286.22 89.77,288.06 90.2,289.66 90.63,291.05 91.06,292.25 91.48,293.28 91.91,294.19 92.34,294.97 92.77,295.65 93.2,296.25 93.63,296.77 94.06,297.23 94.49,297.64 94.92,298 95.34,298.32 95.77,298.61 96.2,298.87 96.63,299.09 97.06,299.3 97.49,299.49 97.92,299.66 98.35,299.81 98.77,299.94 99.2,300.07 99.63,300.18 100.06,300.29 100.49,300.38 100.92,300.47 101.35,300.55 101.78,300.62 102.2,300.68 102.63,300.74 103.06,300.8 103.49,300.84 103.92,300.89 104.35,300.93 104.78,300.97 105.21,301 105.64,301.03 106.06,301.06 106.49,301.08 106.92,301.1 107.35,301.12 107.78,301.13 108.21,301.15 108.64,301.16 109.07,301.17 109.49,301.17 109.92,301.18 110.35,301.18 110.78,301.18 111.21,301.17 111.64,301.17 112.07,301.16 112.5,301.15 112.92,301.14 113.35,301.13 113.78,301.11 114.21,301.09 114.64,301.07 115.07,301.05 115.5,301.02 115.93,300.99 116.36,300.96 116.78,300.92 117.21,300.89 117.64,300.84 118.07,300.8 118.5,300.75 118.93,300.69 119.36,300.64 119.79,300.57 120.21,300.51 120.64,300.43 121.07,300.35 121.5,300.27 121.93,300.17 122.36,300.07 122.79,299.97 123.22,299.85 123.64,299.72 124.07,299.59 124.5,299.45 124.93,299.29 125.36,299.13 125.79,298.95 126.22,298.76 126.65,298.57 127.08,298.36 127.5,298.14 127.93,297.92 128.36,297.69 128.79,297.45 129.22,297.22 129.65,296.99 130.08,296.77 130.51,296.56 130.93,296.38 131.36,296.22 131.79,296.09 132.22,296 132.65,295.95 133.08,295.94 133.51,295.98 133.94,296.05 134.36,296.16 134.79,296.31 135.22,296.48 135.65,296.68 136.08,296.89 136.51,297.1 136.94,297.33 137.37,297.56 137.8,297.78 138.22,298 138.65,298.2 139.08,298.4 139.51,298.59 139.94,298.77 140.37,298.94 140.8,299.1 141.23,299.25 141.65,299.38 142.08,299.51 142.51,299.62 142.94,299.73 143.37,299.83 143.8,299.92 144.23,300 144.66,300.07 145.08,300.14 145.51,300.2 145.94,300.26 146.37,300.31 146.8,300.35 147.23,300.39 147.66,300.43 148.09,300.46 148.52,300.48 148.94,300.5 149.37,300.52 149.8,300.53 150.23,300.54 150.66,300.54 151.09,300.54 151.52,300.54 151.95,300.53 152.37,300.52 152.8,300.5 153.23,300.48 153.66,300.45 154.09,300.42 154.52,300.38 154.95,300.34 155.38,300.29 155.8,300.24 156.23,300.17 156.66,300.11 157.09,300.03 157.52,299.94 157.95,299.84 158.38,299.73 158.81,299.61 159.24,299.47 159.66,299.32 160.09,299.14 160.52,298.95 160.95,298.73 161.38,298.48 161.81,298.2 162.24,297.88 162.67,297.52 163.09,297.1 163.52,296.62 163.95,296.07 164.38,295.43 164.81,294.69 165.24,293.82 165.67,292.81 166.1,291.62 166.52,290.23 166.95,288.62 167.38,286.75 167.81,284.62 168.24,282.26 168.67,279.74 169.1,277.22 169.53,274.93 169.96,273.19 170.38,272.29 170.81,272.4 171.24,273.49 171.67,275.38 172.1,277.74 172.53,280.28 172.96,282.78 173.39,285.11 173.81,287.19 174.24,289.01 174.67,290.58 175.1,291.94 175.53,293.09 175.96,294.08 176.39,294.93 176.82,295.65 177.24,296.28 177.67,296.83 178.1,297.3 178.53,297.71 178.96,298.07 179.39,298.39 179.82,298.67 180.25,298.93 180.68,299.15 181.1,299.35 181.53,299.53 181.96,299.69 182.39,299.83 182.82,299.97 183.25,300.09 183.68,300.19 184.11,300.29 184.53,300.39 184.96,300.47 185.39,300.55 185.82,300.62 186.25,300.68 186.68,300.74 187.11,300.8 187.54,300.85 187.96,300.9 188.39,300.94 188.82,300.98 189.25,301.02 189.68,301.06 190.11,301.09 190.54,301.12 190.97,301.15 191.4,301.18 191.82,301.21 192.25,301.23 192.68,301.25 193.11,301.28 193.54,301.3 193.97,301.32 194.4,301.33 194.83,301.35 195.25,301.37 195.68,301.38 196.11,301.4 196.54,301.41 196.97,301.42 197.4,301.44 197.83,301.45 198.26,301.46 198.68,301.47 199.11,301.48 199.54,301.49 199.97,301.5 200.4,301.5 200.83,301.51 201.26,301.52 201.69,301.53 202.12,301.53 202.54,301.54 202.97,301.55 203.4,301.55 203.83,301.56 204.26,301.56 204.69,301.57 205.12,301.57 205.55,301.58 205.97,301.58 206.4,301.58 206.83,301.59 207.26,301.59 207.69,301.59 208.12,301.6 208.55,301.6 208.98,301.6 209.4,301.6 209.83,301.61 210.26,301.61 210.69,301.61 211.12,301.61 211.55,301.61 211.98,301.61 212.41,301.61 212.84,301.62 213.26,301.62 213.69,301.62 214.12,301.62 214.55,301.62 214.98,301.62 215.41,301.62 215.84,301.62 216.27,301.62 216.69,301.62 217.12,301.62 217.55,301.62 217.98,301.62 218.41,301.62 218.84,301.62 219.27,301.62 219.7,301.62 220.12,301.61 220.55,301.61 220.98,301.61 221.41,301.61 221.84,301.61 222.27,301.61 222.7,301.61 223.13,301.6 223.56,301.6 223.98,301.6 224.41,301.6 224.84,301.6 225.27,301.59 225.7,301.59 226.13,301.59 226.56,301.59 226.99,301.58 227.41,301.58 227.84,301.58 228.27,301.57 228.7,301.57 229.13,301.57 229.56,301.56 229.99,301.56 230.42,301.55 230.84,301.55 231.27,301.55 231.7,301.54 232.13,301.54 232.56,301.53 232.99,301.52 233.42,301.52 233.85,301.51 234.28,301.51 234.7,301.5 235.13,301.49 235.56,301.48 235.99,301.47 236.42,301.46 236.85,301.45 237.28,301.44 237.71,301.43 238.13,301.42 238.56,301.41 238.99,301.39 239.42,301.38 239.85,301.36 240.28,301.34 240.71,301.32 241.14,301.3 241.56,301.27 241.99,301.24 242.42,301.21 242.85,301.17 243.28,301.13 243.71,301.08 244.14,301.03 244.57,300.96 245,300.88 245.42,300.79 245.85,300.68 246.28,300.54 246.71,300.38 247.14,300.17 247.57,299.92 248,299.61 248.43,299.23 248.85,298.79 249.28,298.31 249.71,297.84 250.14,297.48 250.57,297.34 251,297.47 251.43,297.81 251.86,298.26 252.28,298.74 252.71,299.16 253.14,299.53 253.57,299.82 254,300.06 254.43,300.25 254.86,300.41 255.29,300.53 255.72,300.63 256.14,300.7 256.57,300.77 257,300.82 257.43,300.86 257.86,300.89 258.29,300.92 258.72,300.94 259.15,300.96 259.57,300.97 260,300.98 260.43,300.99 260.86,300.99 261.29,300.99 261.72,300.99 262.15,300.99 262.58,300.99 263,300.98 263.43,300.97 263.86,300.97 264.29,300.96 264.72,300.95 265.15,300.93 265.58,300.92 266.01,300.9 266.44,300.89 266.86,300.87 267.29,300.85 267.72,300.83 268.15,300.81 268.58,300.79 269.01,300.77 269.44,300.74 269.87,300.72 270.29,300.69 270.72,300.66 271.15,300.63 271.58,300.6 272.01,300.57 272.44,300.53 272.87,300.49 273.3,300.45 273.72,300.41 274.15,300.37 274.58,300.32 275.01,300.27 275.44,300.22 275.87,300.16 276.3,300.1 276.73,300.04 277.16,299.98 277.58,299.91 278.01,299.83 278.44,299.75 278.87,299.67 279.3,299.58 279.73,299.48 280.16,299.38 280.59,299.27 281.01,299.15 281.44,299.02 281.87,298.88 282.3,298.73 282.73,298.57 283.16,298.4 283.59,298.21 284.02,298.01 284.44,297.78 284.87,297.54 285.3,297.27 285.73,296.97 286.16,296.64 286.59,296.28 287.02,295.88 287.45,295.44 287.88,294.94 288.3,294.38 288.73,293.75 289.16,293.03 289.59,292.22 290.02,291.3 290.45,290.23 290.88,289.01 291.31,287.59 291.73,285.93 292.16,283.99 292.59,281.71 293.02,279.02 293.45,275.84 293.88,272.09 294.31,267.69 294.74,262.58 295.16,256.8 295.59,250.5 296.02,244.05 296.45,238.08 296.88,233.44 297.31,230.95 297.74,231.05 298.17,233.59 298.6,237.87 299.02,242.97 299.45,248.09 299.88,252.65 300.31,256.33 300.74,258.96 301.17,260.45 301.6,260.76 302.03,259.86 302.45,257.8 302.88,254.77 303.31,251.3 303.74,248.36 304.17,247.17 304.6,248.6 305.03,252.54 305.46,258.04 305.88,263.95 306.31,269.49 306.74,274.3 307.17,278.33 307.6,281.63 308.03,284.33 308.46,286.54 308.89,288.37 309.32,289.88 309.74,291.14 310.17,292.21 310.6,293.12 311.03,293.9 311.46,294.58 311.89,295.17 312.32,295.68 312.75,296.14 313.17,296.54 313.6,296.9 314.03,297.22 314.46,297.51 314.89,297.77 315.32,298 315.75,298.22 316.18,298.41 316.6,298.59 317.03,298.76 317.46,298.91 317.89,299.05 318.32,299.18 318.75,299.3 319.18,299.41 319.61,299.51 320.04,299.61 320.46,299.7 320.89,299.78 321.32,299.86 321.75,299.93 322.18,300 322.61,300.07 323.04,300.13 323.47,300.19 323.89,300.24 324.32,300.29 324.75,300.34 325.18,300.39 325.61,300.43 326.04,300.47 326.47,300.51 326.9,300.55 327.32,300.59 327.75,300.62 328.18,300.65 328.61,300.68 329.04,300.71 329.47,300.74 329.9,300.77 330.33,300.79 330.76,300.82 331.18,300.84 331.61,300.87 332.04,300.89 332.47,300.91 332.9,300.93 333.33,300.95 333.76,300.97 334.19,300.99 334.61,301 335.04,301.02 335.47,301.04 335.9,301.05 336.33,301.07 336.76,301.08 337.19,301.09 337.62,301.11 338.04,301.12 338.47,301.13 338.9,301.14 339.33,301.16 339.76,301.17 340.19,301.18 340.62,301.19 341.05,301.2 341.48,301.21 341.9,301.22 342.33,301.23 342.76,301.24 343.19,301.25 343.62,301.26 344.05,301.26 344.48,301.27 344.91,301.28 345.33,301.29 345.76,301.3 346.19,301.3 346.62,301.31 347.05,301.32 347.48,301.32 347.91,301.33 348.34,301.34 348.76,301.34 349.19,301.35 349.62,301.35 350.05,301.36 350.48,301.37 350.91,301.37 351.34,301.38 351.77,301.38 352.2,301.39 352.62,301.39 353.05,301.4 353.48,301.4 353.91,301.41 354.34,301.41 354.77,301.42 355.2,301.42 355.63,301.42 356.05,301.43 356.48,301.43 356.91,301.44 357.34,301.44 357.77,301.44 358.2,301.45 358.63,301.45 359.06,301.45 359.48,301.46 359.91,301.46 360.34,301.47 360.77,301.47 361.2,301.47" fill="none" stroke="#111" stroke-width="1.1" stroke-linejoin="round"/>
<path d="M39.6,358.07 40.03,358.05 40.46,358.02 40.89,357.99 41.32,357.95 41.74,357.92 42.17,357.88 42.6,357.83 43.03,357.78 43.46,357.73 43.89,357.67 44.32,357.6 44.75,357.52 45.17,357.43 45.6,357.32 46.03,357.2 46.46,357.06 46.89,356.89 47.32,356.69 47.75,356.45 48.18,356.16 48.6,355.8 49.03,355.38 49.46,354.86 49.89,354.26 50.32,353.58 50.75,352.85 51.18,352.18 51.61,351.69 52.04,351.5 52.46,351.66 52.89,352.13 53.32,352.76 53.75,353.43 54.18,354.06 54.61,354.59 55.04,355.03 55.47,355.36 55.89,355.59 56.32,355.73 56.75,355.74 57.18,355.61 57.61,355.24 58.04,354.44 58.47,352.93 58.9,350.89 59.32,350.56 59.75,352.57 60.18,354.43 60.61,355.53 61.04,356.16 61.47,356.54 61.9,356.77 62.33,356.93 62.76,357.03 63.18,357.11 63.61,357.15 64.04,357.19 64.47,357.2 64.9,357.21 65.33,357.19 65.76,357.17 66.19,357.12 66.61,357.04 67.04,356.91 67.47,356.69 67.9,356.35 68.33,356.03 68.76,356.07 69.19,356.38 69.62,356.64 70.04,356.78 70.47,356.84 70.9,356.86 71.33,356.85 71.76,356.82 72.19,356.78 72.62,356.72 73.05,356.64 73.48,356.56 73.9,356.46 74.33,356.34 74.76,356.21 75.19,356.05 75.62,355.87 76.05,355.66 76.48,355.42 76.91,355.14 77.33,354.81 77.76,354.41 78.19,353.95 78.62,353.41 79.05,352.76 79.48,352.01 79.91,351.13 80.34,350.15 80.76,349.08 81.19,347.99 81.62,347 82.05,346.25 82.48,345.89 82.91,345.99 83.34,346.54 83.77,347.4 84.2,348.44 84.62,349.51 85.05,350.54 85.48,351.46 85.91,352.26 86.34,352.95 86.77,353.53 87.2,354.02 87.63,354.43 88.05,354.78 88.48,355.07 88.91,355.32 89.34,355.53 89.77,355.72 90.2,355.87 90.63,356 91.06,356.12 91.48,356.22 91.91,356.3 92.34,356.38 92.77,356.44 93.2,356.5 93.63,356.55 94.06,356.59 94.49,356.62 94.92,356.66 95.34,356.68 95.77,356.71 96.2,356.73 96.63,356.74 97.06,356.76 97.49,356.77 97.92,356.78 98.35,356.78 98.77,356.79 99.2,356.79 99.63,356.8 100.06,356.8 100.49,356.8 100.92,356.8 101.35,356.8 101.78,356.79 102.2,356.79 102.63,356.79 103.06,356.78 103.49,356.78 103.92,356.78 104.35,356.77 104.78,356.77 105.21,356.76 105.64,356.76 106.06,356.75 106.49,356.74 106.92,356.74 107.35,356.73 107.78,356.72 108.21,356.71 108.64,356.7 109.07,356.69 109.49,356.68 109.92,356.67 110.35,356.66 110.78,356.65 111.21,356.63 111.64,356.62 112.07,356.6 112.5,356.58 112.92,356.57 113.35,356.54 113.78,356.52 114.21,356.5 114.64,356.47 115.07,356.45 115.5,356.42 115.93,356.38 116.36,356.35 116.78,356.31 117.21,356.27 117.64,356.23 118.07,356.18 118.5,356.14 118.93,356.08 119.36,356.03 119.79,355.97 120.21,355.9 120.64,355.83 121.07,355.76 121.5,355.68 121.93,355.6 122.36,355.51 122.79,355.41 123.22,355.31 123.64,355.2 124.07,355.08 124.5,354.95 124.93,354.82 125.36,354.68 125.79,354.53 126.22,354.37 126.65,354.21 127.08,354.04 127.5,353.87 127.93,353.69 128.36,353.51 128.79,353.33 129.22,353.16 129.65,352.99 130.08,352.83 130.51,352.69 130.93,352.56 131.36,352.46 131.79,352.38 132.22,352.33 132.65,352.31 133.08,352.32 133.51,352.36 133.94,352.43 134.36,352.52 134.79,352.63 135.22,352.77 135.65,352.91 136.08,353.07 136.51,353.24 136.94,353.41 137.37,353.58 137.8,353.75 138.22,353.91 138.65,354.08 139.08,354.23 139.51,354.38 139.94,354.52 140.37,354.65 140.8,354.77 141.23,354.89 141.65,355 142.08,355.1 142.51,355.19 142.94,355.28 143.37,355.36 143.8,355.43 144.23,355.5 144.66,355.57 145.08,355.62 145.51,355.68 145.94,355.73 146.37,355.77 146.8,355.81 147.23,355.85 147.66,355.88 148.09,355.91 148.52,355.93 148.94,355.96 149.37,355.97 149.8,355.99 150.23,356 150.66,356.01 151.09,356.02 151.52,356.03 151.95,356.03 152.37,356.03 152.8,356.02 153.23,356.01 153.66,356 154.09,355.99 154.52,355.97 154.95,355.95 155.38,355.93 155.8,355.9 156.23,355.86 156.66,355.83 157.09,355.78 157.52,355.73 157.95,355.68 158.38,355.62 158.81,355.55 159.24,355.47 159.66,355.38 160.09,355.29 160.52,355.18 160.95,355.05 161.38,354.91 161.81,354.75 162.24,354.57 162.67,354.37 163.09,354.13 163.52,353.87 163.95,353.56 164.38,353.21 164.81,352.8 165.24,352.33 165.67,351.79 166.1,351.15 166.52,350.42 166.95,349.57 167.38,348.6 167.81,347.5 168.24,346.28 168.67,344.98 169.1,343.65 169.53,342.4 169.96,341.37 170.38,340.69 170.81,340.48 171.24,340.78 171.67,341.53 172.1,342.61 172.53,343.88 172.96,345.22 173.39,346.51 173.81,347.72 174.24,348.8 174.67,349.75 175.1,350.59 175.53,351.31 175.96,351.93 176.39,352.47 176.82,352.93 177.24,353.33 177.67,353.68 178.1,353.98 178.53,354.25 178.96,354.48 179.39,354.69 179.82,354.87 180.25,355.04 180.68,355.18 181.1,355.31 181.53,355.42 181.96,355.53 182.39,355.62 182.82,355.71 183.25,355.78 183.68,355.85 184.11,355.92 184.53,355.98 184.96,356.03 185.39,356.08 185.82,356.13 186.25,356.17 186.68,356.21 187.11,356.24 187.54,356.27 187.96,356.3 188.39,356.33 188.82,356.36 189.25,356.38 189.68,356.41 190.11,356.43 190.54,356.45 190.97,356.47 191.4,356.48 191.82,356.5 192.25,356.52 192.68,356.53 193.11,356.54 193.54,356.56 193.97,356.57 194.4,356.58 194.83,356.59 195.25,356.6 195.68,356.61 196.11,356.62 196.54,356.63 196.97,356.64 197.4,356.64 197.83,356.65 198.26,356.66 198.68,356.66 199.11,356.67 199.54,356.68 199.97,356.68 200.4,356.69 200.83,356.69 201.26,356.7 201.69,356.7 202.12,356.7 202.54,356.71 202.97,356.71 203.4,356.71 203.83,356.72 204.26,356.72 204.69,356.72 205.12,356.73 205.55,356.73 205.97,356.73 206.4,356.73 206.83,356.73 207.26,356.74 207.69,356.74 208.12,356.74 208.55,356.74 208.98,356.74 209.4,356.74 209.83,356.74 210.26,356.75 210.69,356.75 211.12,356.75 211.55,356.75 211.98,356.75 212.41,356.75 212.84,356.75 213.26,356.75 213.69,356.75 214.12,356.75 214.55,356.75 214.98,356.75 215.41,356.75 215.84,356.75 216.27,356.75 216.69,356.75 217.12,356.75 217.55,356.75 217.98,356.75 218.41,356.75 218.84,356.75 219.27,356.75 219.7,356.75 220.12,356.74 220.55,356.74 220.98,356.74 221.41,356.74 221.84,356.74 222.27,356.74 222.7,356.74 223.13,356.74 223.56,356.74 223.98,356.73 224.41,356.73 224.84,356.73 225.27,356.73 225.7,356.73 226.13,356.72 226.56,356.72 226.99,356.72 227.41,356.72 227.84,356.72 228.27,356.71 228.7,356.71 229.13,356.71 229.56,356.71 229.99,356.7 230.42,356.7 230.84,356.7 231.27,356.69 231.7,356.69 232.13,356.69 232.56,356.68 232.99,356.68 233.42,356.67 233.85,356.67 234.28,356.66 234.7,356.66 235.13,356.65 235.56,356.65 235.99,356.64 236.42,356.63 236.85,356.63 237.28,356.62 237.71,356.61 238.13,356.6 238.56,356.59 238.99,356.58 239.42,356.57 239.85,356.56 240.28,356.55 240.71,356.53 241.14,356.52 241.56,356.5 241.99,356.48 242.42,356.46 242.85,356.44 243.28,356.41 243.71,356.38 244.14,356.35 244.57,356.31 245,356.26 245.42,356.21 245.85,356.15 246.28,356.08 246.71,356 247.14,355.9 247.57,355.79 248,355.65 248.43,355.48 248.85,355.29 249.28,355.07 249.71,354.82 250.14,354.56 250.57,354.3 251,354.1 251.43,353.98 251.86,353.97 252.28,354.08 252.71,354.28 253.14,354.52 253.57,354.77 254,355.01 254.43,355.22 254.86,355.41 255.29,355.56 255.72,355.69 256.14,355.79 256.57,355.88 257,355.95 257.43,356.01 257.86,356.05 258.29,356.09 258.72,356.13 259.15,356.15 259.57,356.18 260,356.19 260.43,356.21 260.86,356.22 261.29,356.22 261.72,356.23 262.15,356.23 262.58,356.23 263,356.23 263.43,356.23 263.86,356.23 264.29,356.22 264.72,356.21 265.15,356.21 265.58,356.2 266.01,356.19 266.44,356.18 266.86,356.16 267.29,356.15 267.72,356.14 268.15,356.12 268.58,356.1 269.01,356.08 269.44,356.06 269.87,356.04 270.29,356.02 270.72,356 271.15,355.97 271.58,355.95 272.01,355.92 272.44,355.89 272.87,355.86 273.3,355.82 273.72,355.79 274.15,355.75 274.58,355.71 275.01,355.66 275.44,355.62 275.87,355.57 276.3,355.52 276.73,355.47 277.16,355.41 277.58,355.35 278.01,355.28 278.44,355.21 278.87,355.13 279.3,355.05 279.73,354.96 280.16,354.87 280.59,354.77 281.01,354.66 281.44,354.55 281.87,354.42 282.3,354.28 282.73,354.13 283.16,353.97 283.59,353.8 284.02,353.61 284.44,353.4 284.87,353.16 285.3,352.91 285.73,352.63 286.16,352.32 286.59,351.98 287.02,351.6 287.45,351.18 287.88,350.71 288.3,350.18 288.73,349.59 289.16,348.92 289.59,348.16 290.02,347.3 290.45,346.33 290.88,345.22 291.31,343.94 291.73,342.48 292.16,340.8 292.59,338.85 293.02,336.6 293.45,333.98 293.88,330.95 294.31,327.47 294.74,323.57 295.16,319.35 295.59,315.09 296.02,311.24 296.45,308.4 296.88,307.12 297.31,307.67 297.74,309.84 298.17,313.11 298.6,316.83 299.02,320.47 299.45,323.67 299.88,326.27 300.31,328.19 300.74,329.39 301.17,329.86 301.6,329.59 302.03,328.55 302.45,326.75 302.88,324.25 303.31,321.25 303.74,318.21 304.17,315.9 304.6,315.13 305.03,316.36 305.46,319.39 305.88,323.48 306.31,327.87 306.74,332.01 307.17,335.64 307.6,338.71 308.03,341.25 308.46,343.35 308.89,345.08 309.32,346.51 309.74,347.71 310.17,348.71 310.6,349.56 311.03,350.28 311.46,350.9 311.89,351.44 312.32,351.91 312.75,352.32 313.17,352.68 313.6,353 314.03,353.29 314.46,353.54 314.89,353.77 315.32,353.98 315.75,354.17 316.18,354.34 316.6,354.5 317.03,354.64 317.46,354.77 317.89,354.89 318.32,355.01 318.75,355.11 319.18,355.2 319.61,355.29 320.04,355.38 320.46,355.46 320.89,355.53 321.32,355.6 321.75,355.66 322.18,355.72 322.61,355.78 323.04,355.83 323.47,355.88 323.89,355.93 324.32,355.97 324.75,356.02 325.18,356.06 325.61,356.1 326.04,356.13 326.47,356.17 326.9,356.2 327.32,356.23 327.75,356.26 328.18,356.29 328.61,356.32 329.04,356.35 329.47,356.37 329.9,356.4 330.33,356.42 330.76,356.44 331.18,356.47 331.61,356.49 332.04,356.51 332.47,356.53 332.9,356.55 333.33,356.57 333.76,356.58 334.19,356.6 334.61,356.62 335.04,356.63 335.47,356.65 335.9,356.66 336.33,356.68 336.76,356.69 337.19,356.71 337.62,356.72 338.04,356.73 338.47,356.75 338.9,356.76 339.33,356.77 339.76,356.78 340.19,356.8 340.62,356.81 341.05,356.82 341.48,356.83 341.9,356.84 342.33,356.85 342.76,356.86 343.19,356.87 343.62,356.88 344.05,356.89 344.48,356.9 344.91,356.91 345.33,356.92 345.76,356.92 346.19,356.93 346.62,356.94 347.05,356.95 347.48,356.96 347.91,356.97 348.34,356.97 348.76,356.98 349.19,356.99 349.62,357 350.05,357.01 350.48,357.01 350.91,357.02 351.34,357.03 351.77,357.03 352.2,357.04 352.62,357.05 353.05,357.06 353.48,357.06 353.91,357.07 354.34,357.08 354.77,357.08 355.2,357.09 355.63,357.09 356.05,357.1 356.48,357.11 356.91,357.11 357.34,357.12 357.77,357.13 358.2,357.13 358.63,357.14 359.06,357.14 359.48,357.15 359.91,357.16 360.34,357.16 360.77,357.17 361.2,357.17 L361.2,361 L39.6,361 Z" fill="#e7298a" fill-opacity="0.8"/>
<path d="M39.6,358.07 40.03,358.05 40.46,358.02 40.89,357.99 41.32,357.95 41.74,357.92 42.17,357.88 42.6,357.83 43.03,357.78 43.46,357.73 43.89,357.67 44.32,357.6 44.75,357.52 45.17,357.43 45.6,357.32 46.03,357.2 46.46,357.06 46.89,356.89 47.32,356.69 47.75,356.45 48.18,356.16 48.6,355.8 49.03,355.38 49.46,354.86 49.89,354.26 50.32,353.58 50.75,352.85 51.18,352.18 51.61,351.69 52.04,351.5 52.46,351.66 52.89,352.13 53.32,352.76 53.75,353.43 54.18,354.06 54.61,354.59 55.04,355.03 55.47,355.36 55.89,355.59 56.32,355.73 56.75,355.74 57.18,355.61 57.61,355.24 58.04,354.44 58.47,352.93 58.9,350.89 59.32,350.56 59.75,352.57 60.18,354.43 60.61,355.53 61.04,356.16 61.47,356.54 61.9,356.77 62.33,356.93 62.76,357.03 63.18,357.11 63.61,357.15 64.04,357.19 64.47,357.2 64.9,357.21 65.33,357.19 65.76,357.17 66.19,357.12 66.61,357.04 67.04,356.91 67.47,356.69 67.9,356.35 68.33,356.03 68.76,356.07 69.19,356.38 69.62,356.64 70.04,356.78 70.47,356.84 70.9,356.86 71.33,356.85 71.76,356.82 72.19,356.78 72.62,356.72 73.05,356.64 73.48,356.56 73.9,356.46 74.33,356.34 74.76,356.21 75.19,356.05 75.62,355.87 76.05,355.66 76.48,355.42 76.91,355.14 77.33,354.81 77.76,354.41 78.19,353.95 78.62,353.41 79.05,352.76 79.48,352.01 79.91,351.13 80.34,350.15 80.76,349.08 81.19,347.99 81.62,347 82.05,346.25 82.48,345.89 82.91,345.99 83.34,346.54 83.77,347.4 84.2,348.44 84.62,349.51 85.05,350.54 85.48,351.46 85.91,352.26 86.34,352.95 86.77,353.53 87.2,354.02 87.63,354.43 88.05,354.78 88.48,355.07 88.91,355.32 89.34,355.53 89.77,355.72 90.2,355.87 90.63,356 91.06,356.12 91.48,356.22 91.91,356.3 92.34,356.38 92.77,356.44 93.2,356.5 93.63,356.55 94.06,356.59 94.49,356.62 94.92,356.66 95.34,356.68 95.77,356.71 96.2,356.73 96.63,356.74 97.06,356.76 97.49,356.77 97.92,356.78 98.35,356.78 98.77,356.79 99.2,356.79 99.63,356.8 100.06,356.8 100.49,356.8 100.92,356.8 101.35,356.8 101.78,356.79 102.2,356.79 102.63,356.79 103.06,356.78 103.49,356.78 103.92,356.78 104.35,356.77 104.78,356.77 105.21,356.76 105.64,356.76 106.06,356.75 106.49,356.74 106.92,356.74 107.35,356.73 107.78,356.72 108.21,356.71 108.64,356.7 109.07,356.69 109.49,356.68 109.92,356.67 110.35,356.66 110.78,356.65 111.21,356.63 111.64,356.62 112.07,356.6 112.5,356.58 112.92,356.57 113.35,356.54 113.78,356.52 114.21,356.5 114.64,356.47 115.07,356.45 115.5,356.42 115.93,356.38 116.36,356.35 116.78,356.31 117.21,356.27 117.64,356.23 118.07,356.18 118.5,356.14 118.93,356.08 119.36,356.03 119.79,355.97 120.21,355.9 120.64,355.83 121.07,355.76 121.5,355.68 121.93,355.6 122.36,355.51 122.79,355.41 123.22,355.31 123.64,355.2 124.07,355.08 124.5,354.95 124.93,354.82 125.36,354.68 125.79,354.53 126.22,354.37 126.65,354.21 127.08,354.04 127.5,353.87 127.93,353.69 128.36,353.51 128.79,353.33 129.22,353.16 129.65,352.99 130.08,352.83 130.51,352.69 130.93,352.56 131.36,352.46 131.79,352.38 132.22,352.33 132.65,352.31 133.08,352.32 133.51,352.36 133.94,352.43 134.36,352.52 134.79,352.63 135.22,352.77 135.65,352.91 136.08,353.07 136.51,353.24 136.94,353.41 137.37,353.58 137.8,353.75 138.22,353.91 138.65,354.08 139.08,354.23 139.51,354.38 139.94,354.52 140.37,354.65 140.8,354.77 141.23,354.89 141.65,355 142.08,355.1 142.51,355.19 142.94,355.28 143.37,355.36 143.8,355.43 144.23,355.5 144.66,355.57 145.08,355.62 145.51,355.68 145.94,355.73 146.37,355.77 146.8,355.81 147.23,355.85 147.66,355.88 148.09,355.91 148.52,355.93 148.94,355.96 149.37,355.97 149.8,355.99 150.23,356 150.66,356.01 151.09,356.02 151.52,356.03 151.95,356.03 152.37,356.03 152.8,356.02 153.23,356.01 153.66,356 154.09,355.99 154.52,355.97 154.95,355.95 155.38,355.93 155.8,355.9 156.23,355.86 156.66,355.83 157.09,355.78 157.52,355.73 157.95,355.68 158.38,355.62 158.81,355.55 159.24,355.47 159.66,355.38 160.09,355.29 160.52,355.18 160.95,355.05 161.38,354.91 161.81,354.75 162.24,354.57 162.67,354.37 163.09,354.13 163.52,353.87 163.95,353.56 164.38,353.21 164.81,352.8 165.24,352.33 165.67,351.79 166.1,351.15 166.52,350.42 166.95,349.57 167.38,348.6 167.81,347.5 168.24,346.28 168.67,344.98 169.1,343.65 169.53,342.4 169.96,341.37 170.38,340.69 170.81,340.48 171.24,340.78 171.67,341.53 172.1,342.61 172.53,343.88 172.96,345.22 173.39,346.51 173.81,347.72 174.24,348.8 174.67,349.75 175.1,350.59 175.53,351.31 175.96,351.93 176.39,352.47 176.82,352.93 177.24,353.33 177.67,353.68 178.1,353.98 178.53,354.25 178.96,354.48 179.39,354.69 179.82,354.87 180.25,355.04 180.68,355.18 181.1,355.31 181.53,355.42 181.96,355.53 182.39,355.62 182.82,355.71 183.25,355.78 183.68,355.85 184.11,355.92 184.53,355.98 184.96,356.03 185.39,356.08 185.82,356.13 186.25,356.17 186.68,356.21 187.11,356.24 187.54,356.27 187.96,356.3 188.39,356.33 188.82,356.36 189.25,356.38 189.68,356.41 190.11,356.43 190.54,356.45 190.97,356.47 191.4,356.48 191.82,356.5 192.25,356.52 192.68,356.53 193.11,356.54 193.54,356.56 193.97,356.57 194.4,356.58 194.83,356.59 195.25,356.6 195.68,356.61 196.11,356.62 196.54,356.63 196.97,356.64 197.4,356.64 197.83,356.65 198.26,356.66 198.68,356.66 199.11,356.67 199.54,356.68 199.97,356.68 200.4,356.69 200.83,356.69 201.26,356.7 201.69,356.7 202.12,356.7 202.54,356.71 202.97,356.71 203.4,356.71 203.83,356.72 204.26,356.72 204.69,356.72 205.12,356.73 205.55,356.73 205.97,356.73 206.4,356.73 206.83,356.73 207.26,356.74 207.69,356.74 208.12,356.74 208.55,356.74 208.98,356.74 209.4,356.74 209.83,356.74 210.26,356.75 210.69,356.75 211.12,356.75 211.55,356.75 211.98,356.75 212.41,356.75 212.84,356.75 213.26,356.75 213.69,356.75 214.12,356.75 214.55,356.75 214.98,356.75 215.41,356.75 215.84,356.75 216.27,356.75 216.69,356.75 217.12,356.75 217.55,356.75 217.98,356.75 218.41,356.75 218.84,356.75 219.27,356.75 219.7,356.75 220.12,356.74 220.55,356.74 220.98,356.74 221.41,356.74 221.84,356.74 222.27,356.74 222.7,356.74 223.13,356.74 223.56,356.74 223.98,356.73 224.41,356.73 224.84,356.73 225.27,356.73 225.7,356.73 226.13,356.72 226.56,356.72 226.99,356.72 227.41,356.72 227.84,356.72 228.27,356.71 228.7,356.71 229.13,356.71 229.56,356.71 229.99,356.7 230.42,356.7 230.84,356.7 231.27,356.69 231.7,356.69 232.13,356.69 232.56,356.68 232.99,356.68 233.42,356.67 233.85,356.67 234.28,356.66 234.7,356.66 235.13,356.65 235.56,356.65 235.99,356.64 236.42,356.63 236.85,356.63 237.28,356.62 237.71,356.61 238.13,356.6 238.56,356.59 238.99,356.58 239.42,356.57 239.85,356.56 240.28,356.55 240.71,356.53 241.14,356.52 241.56,356.5 241.99,356.48 242.42,356.46 242.85,356.44 243.28,356.41 243.71,356.38 244.14,356.35 244.57,356.31 245,356.26 245.42,356.21 245.85,356.15 246.28,356.08 246.71,356 247.14,355.9 247.57,355.79 248,355.65 248.43,355.48 248.85,355.29 249.28,355.07 249.71,354.82 250.14,354.56 250.57,354.3 251,354.1 251.43,353.98 251.86,353.97 252.28,354.08 252.71,354.28 253.14,354.52 253.57,354.77 254,355.01 254.43,355.22 254.86,355.41 255.29,355.56 255.72,355.69 256.14,355.79 256.57,355.88 257,355.95 257.43,356.01 257.86,356.05 258.29,356.09 258.72,356.13 259.15,356.15 259.57,356.18 260,356.19 260.43,356.21 260.86,356.22 261.29,356.22 261.72,356.23 262.15,356.23 262.58,356.23 263,356.23 263.43,356.23 263.86,356.23 264.29,356.22 264.72,356.21 265.15,356.21 265.58,356.2 266.01,356.19 266.44,356.18 266.86,356.16 267.29,356.15 267.72,356.14 268.15,356.12 268.58,356.1 269.01,356.08 269.44,356.06 269.87,356.04 270.29,356.02 270.72,356 271.15,355.97 271.58,355.95 272.01,355.92 272.44,355.89 272.87,355.86 273.3,355.82 273.72,355.79 274.15,355.75 274.58,355.71 275.01,355.66 275.44,355.62 275.87,355.57 276.3,355.52 276.73,355.47 277.16,355.41 277.58,355.35 278.01,355.28 278.44,355.21 278.87,355.13 279.3,355.05 279.73,354.96 280.16,354.87 280.59,354.77 281.01,354.66 281.44,354.55 281.87,354.42 282.3,354.28 282.73,354.13 283.16,353.97 283.59,353.8 284.02,353.61 284.44,353.4 284.87,353.16 285.3,352.91 285.73,352.63 286.16,352.32 286.59,351.98 287.02,351.6 287.45,351.18 287.88,350.71 288.3,350.18 288.73,349.59 289.16,348.92 289.59,348.16 290.02,347.3 290.45,346.33 290.88,345.22 291.31,343.94 291.73,342.48 292.16,340.8 292.59,338.85 293.02,336.6 293.45,333.98 293.88,330.95 294.31,327.47 294.74,323.57 295.16,319.35 295.59,315.09 296.02,311.24 296.45,308.4 296.88,307.12 297.31,307.67 297.74,309.84 298.17,313.11 298.6,316.83 299.02,320.47 299.45,323.67 299.88,326.27 300.31,328.19 300.74,329.39 301.17,329.86 301.6,329.59 302.03,328.55 302.45,326.75 302.88,324.25 303.31,321.25 303.74,318.21 304.17,315.9 304.6,315.13 305.03,316.36 305.46,319.39 305.88,323.48 306.31,327.87 306.74,332.01 307.17,335.64 307.6,338.71 308.03,341.25 308.46,343.35 308.89,345.08 309.32,346.51 309.74,347.71 310.17,348.71 310.6,349.56 311.03,350.28 311.46,350.9 311.89,351.44 312.32,351.91 312.75,352.32 313.17,352.68 313.6,353 314.03,353.29 314.46,353.54 314.89,353.77 315.32,353.98 315.75,354.17 316.18,354.34 316.6,354.5 317.03,354.64 317.46,354.77 317.89,354.89 318.32,355.01 318.75,355.11 319.18,355.2 319.61,355.29 320.04,355.38 320.46,355.46 320.89,355.53 321.32,355.6 321.75,355.66 322.18,355.72 322.61,355.78 323.04,355.83 323.47,355.88 323.89,355.93 324.32,355.97 324.75,356.02 325.18,356.06 325.61,356.1 326.04,356.13 326.47,356.17 326.9,356.2 327.32,356.23 327.75,356.26 328.18,356.29 328.61,356.32 329.04,356.35 329.47,356.37 329.9,356.4 330.33,356.42 330.76,356.44 331.18,356.47 331.61,356.49 332.04,356.51 332.47,356.53 332.9,356.55 333.33,356.57 333.76,356.58 334.19,356.6 334.61,356.62 335.04,356.63 335.47,356.65 335.9,356.66 336.33,356.68 336.76,356.69 337.19,356.71 337.62,356.72 338.04,356.73 338.47,356.75 338.9,356.76 339.33,356.77 339.76,356.78 340.19,356.8 340.62,356.81 341.05,356.82 341.48,356.83 341.9,356.84 342.33,356.85 342.76,356.86 343.19,356.87 343.62,356.88 344.05,356.89 344.48,356.9 344.91,356.91 345.33,356.92 345.76,356.92 346.19,356.93 346.62,356.94 347.05,356.95 347.48,356.96 347.91,356.97 348.34,356.97 348.76,356.98 349.19,356.99 349.62,357 350.05,357.01 350.48,357.01 350.91,357.02 351.34,357.03 351.77,357.03 352.2,357.04 352.62,357.05 353.05,357.06 353.48,357.06 353.91,357.07 354.34,357.08 354.77,357.08 355.2,357.09 355.63,357.09 356.05,357.1 356.48,357.11 356.91,357.11 357.34,357.12 357.77,357.13 358.2,357.13 358.63,357.14 359.06,357.14 359.48,357.15 359.91,357.16 360.34,357.16 360.77,357.17 361.2,357.17" fill="none" stroke="#111" stroke-width="1.1" stroke-linejoin="round"/>
<line x1="85.4" y1="372" x2="85.4" y2="129.5" stroke="#111" stroke-width="1.15" stroke-dasharray="3.3,2.7"/>
<line x1="298.2" y1="372" x2="298.2" y2="129.5" stroke="#111" stroke-width="1.15" stroke-dasharray="3.3,2.7"/>
</g>
<rect x="39.6" y="129.5" width="321.6" height="242.5" fill="none" stroke="#111" stroke-width="1.3"/>
<line x1="39.6" y1="361" x2="42.8" y2="361" stroke="#111" stroke-width="1.1" />
<text x="33.4" y="366.1" text-anchor="end" font-family="Liberation Sans" font-size="14" fill="#222" stroke="#222" stroke-width="0.22">0</text>
<line x1="39.6" y1="307.73" x2="42.8" y2="307.73" stroke="#111" stroke-width="1.1" />
<text x="33.4" y="312.83" text-anchor="end" font-family="Liberation Sans" font-size="14" fill="#222" stroke="#222" stroke-width="0.22">5</text>
<line x1="39.6" y1="254.45" x2="42.8" y2="254.45" stroke="#111" stroke-width="1.1" />
<text x="33.4" y="259.55" text-anchor="end" font-family="Liberation Sans" font-size="14" fill="#222" stroke="#222" stroke-width="0.22">10</text>
<line x1="39.6" y1="201.18" x2="42.8" y2="201.18" stroke="#111" stroke-width="1.1" />
<text x="33.4" y="206.28" text-anchor="end" font-family="Liberation Sans" font-size="14" fill="#222" stroke="#222" stroke-width="0.22">15</text>
<line x1="39.6" y1="147.9" x2="42.8" y2="147.9" stroke="#111" stroke-width="1.1" />
<text x="33.4" y="153" text-anchor="end" font-family="Liberation Sans" font-size="14" fill="#222" stroke="#222" stroke-width="0.22">20</text>
<line x1="61.04" y1="372" x2="61.04" y2="368.8" stroke="#111" stroke-width="1.1" />
<text x="61.04" y="387.2" text-anchor="middle" font-family="Liberation Sans" font-size="13.4" fill="#222" textLength="31.4" lengthAdjust="spacingAndGlyphs" stroke="#222" stroke-width="0.22">1000</text>
<line x1="146.8" y1="372" x2="146.8" y2="368.8" stroke="#111" stroke-width="1.1" />
<text x="146.8" y="387.2" text-anchor="middle" font-family="Liberation Sans" font-size="13.4" fill="#222" textLength="31.4" lengthAdjust="spacingAndGlyphs" stroke="#222" stroke-width="0.22">1200</text>
<line x1="232.56" y1="372" x2="232.56" y2="368.8" stroke="#111" stroke-width="1.1" />
<text x="232.56" y="387.2" text-anchor="middle" font-family="Liberation Sans" font-size="13.4" fill="#222" textLength="31.4" lengthAdjust="spacingAndGlyphs" stroke="#222" stroke-width="0.22">1400</text>
<line x1="318.32" y1="372" x2="318.32" y2="368.8" stroke="#111" stroke-width="1.1" />
<text x="318.32" y="387.2" text-anchor="middle" font-family="Liberation Sans" font-size="13.4" fill="#222" textLength="31.4" lengthAdjust="spacingAndGlyphs" stroke="#222" stroke-width="0.22">1600</text>
<text x="45.3" y="149.4" font-family="Liberation Sans" font-size="22.8" fill="#000">b</text>
<text x="133.6" y="404" font-family="Liberation Sans" font-size="14.3" fill="#111" textLength="113.4" lengthAdjust="spacingAndGlyphs" stroke="#111" stroke-width="0.22">Ramanshift (cm<tspan font-size="9.5" dy="-5.5">-1</tspan><tspan dy="5.5">)</tspan></text>
<text transform="translate(13.6,364.5) rotate(-90)" font-family="Liberation Sans" font-size="13.6" fill="#111" textLength="228" lengthAdjust="spacingAndGlyphs" stroke="#111" stroke-width="0.22">SERS intensity (x10<tspan font-size="9" dy="-5">3</tspan><tspan dy="5"> cts·(mW·s)</tspan><tspan font-size="9" dy="-5">-1</tspan><tspan dy="5">)</tspan></text>
<text x="89" y="144" font-family="Liberation Serif" font-style="italic" font-size="21" fill="#111" textLength="18.5" lengthAdjust="spacingAndGlyphs">v<tspan font-style="normal" font-size="14.8" dy="4.7">1</tspan></text>
<text x="303.4" y="144" font-family="Liberation Serif" font-style="italic" font-size="21" fill="#111" textLength="19.6" lengthAdjust="spacingAndGlyphs">v<tspan font-style="normal" font-size="14.8" dy="4.2">2</tspan></text>
<text transform="translate(208.4,188.9) scale(1.12,1)" font-family="Liberation Serif" font-style="italic" font-size="16" fill="#111">&#952;</text><text x="216.1" y="191.8" font-family="Liberation Serif" font-size="12.3" fill="#111" stroke="#111" stroke-width="0.22">1</text><text x="223.4" y="188.9" font-family="Liberation Serif" font-size="15.3" fill="#111" textLength="33" lengthAdjust="spacingAndGlyphs" stroke="#111" stroke-width="0.22">~30°</text>
<text transform="translate(208.6,243) scale(1.12,1)" font-family="Liberation Serif" font-style="italic" font-size="16" fill="#111">&#952;</text><text x="216.3" y="245.9" font-family="Liberation Serif" font-size="12.3" fill="#111" stroke="#111" stroke-width="0.22">2</text><text x="223.6" y="243" font-family="Liberation Serif" font-size="15.3" fill="#111" textLength="33" lengthAdjust="spacingAndGlyphs" stroke="#111" stroke-width="0.22">~19°</text>
<text transform="translate(208.9,293.9) scale(1.12,1)" font-family="Liberation Serif" font-style="italic" font-size="16" fill="#111">&#952;</text><text x="216.6" y="296.8" font-family="Liberation Serif" font-size="12.3" fill="#111" stroke="#111" stroke-width="0.22">1</text><text x="223.9" y="293.9" font-family="Liberation Serif" font-size="15.3" fill="#111" textLength="33" lengthAdjust="spacingAndGlyphs" stroke="#111" stroke-width="0.22">~30°</text>
<text transform="translate(208.6,349.2) scale(1.12,1)" font-family="Liberation Serif" font-style="italic" font-size="16" fill="#111">&#952;</text><text x="216.3" y="352.1" font-family="Liberation Serif" font-size="12.3" fill="#111" stroke="#111" stroke-width="0.22">2</text><text x="223.6" y="349.2" font-family="Liberation Serif" font-size="15.3" fill="#111" textLength="33" lengthAdjust="spacingAndGlyphs" stroke="#111" stroke-width="0.22">~19°</text>
<text x="106.4" y="294.7" font-family="Liberation Sans" font-size="14.6" fill="#7570b3" stroke="none" textLength="19.2" lengthAdjust="spacingAndGlyphs">x 3</text>
<text x="107.5" y="351.1" font-family="Liberation Sans" font-size="14.6" fill="#e7298a" stroke="none" textLength="19" lengthAdjust="spacingAndGlyphs">x 3</text>
<rect x="370.7" y="1.5" width="81.8" height="183.5" rx="5" fill="#fff" stroke="#111" stroke-width="1.3"/>
<rect x="404.4" y="114.5" width="12.8" height="31" fill="#ff5050" opacity="0.6" filter="url(#blur1)"/>
<line x1="410.7" y1="18" x2="396" y2="29.2" stroke="#b2b2b2" stroke-width="3" />
<line x1="396" y1="29.2" x2="396" y2="49.9" stroke="#b2b2b2" stroke-width="3" />
<line x1="396" y1="49.9" x2="410.7" y2="60.2" stroke="#b2b2b2" stroke-width="3" />
<line x1="410.7" y1="60.2" x2="425.4" y2="49.9" stroke="#b2b2b2" stroke-width="3" />
<line x1="425.4" y1="49.9" x2="425.4" y2="29.2" stroke="#b2b2b2" stroke-width="3" />
<line x1="425.4" y1="29.2" x2="410.7" y2="18" stroke="#b2b2b2" stroke-width="3" />
<line x1="410.6" y1="80.6" x2="392.6" y2="91.5" stroke="#b2b2b2" stroke-width="3" />
<line x1="392.6" y1="91.5" x2="392.6" y2="111.4" stroke="#b2b2b2" stroke-width="3" />
<line x1="392.6" y1="111.4" x2="410.6" y2="122.5" stroke="#b2b2b2" stroke-width="3" />
<line x1="410.6" y1="122.5" x2="428.6" y2="111.4" stroke="#b2b2b2" stroke-width="3" />
<line x1="428.6" y1="111.4" x2="428.6" y2="91.5" stroke="#b2b2b2" stroke-width="3" />
<line x1="428.6" y1="91.5" x2="410.6" y2="80.6" stroke="#b2b2b2" stroke-width="3" />
<line x1="410.7" y1="60.2" x2="410.6" y2="80.6" stroke="#b2b2b2" stroke-width="3" />
<line x1="410.6" y1="122.5" x2="411" y2="145.5" stroke="#b2b2b2" stroke-width="3" />
<line x1="410.7" y1="6.3" x2="410.7" y2="18" stroke="#b8b8b8" stroke-width="2.6" />
<line x1="386.7" y1="22.4" x2="396" y2="29.2" stroke="#b8b8b8" stroke-width="2.6" />
<line x1="386.7" y1="56.8" x2="396" y2="49.9" stroke="#b8b8b8" stroke-width="2.6" />
<line x1="434.7" y1="22.4" x2="425.4" y2="29.2" stroke="#b8b8b8" stroke-width="2.6" />
<line x1="434.7" y1="56.8" x2="425.4" y2="49.9" stroke="#b8b8b8" stroke-width="2.6" />
<line x1="381" y1="85" x2="392.6" y2="91.5" stroke="#b8b8b8" stroke-width="2.6" />
<line x1="381.6" y1="118.9" x2="392.6" y2="111.4" stroke="#b8b8b8" stroke-width="2.6" />
<line x1="440.2" y1="85" x2="428.6" y2="91.5" stroke="#b8b8b8" stroke-width="2.6" />
<line x1="439.6" y1="118.9" x2="428.6" y2="111.4" stroke="#b8b8b8" stroke-width="2.6" />
<line x1="411" y1="145.5" x2="426.2" y2="156.5" stroke="#a8a8a8" stroke-width="2.4" />

<line x1="378.6" y1="89.8" x2="383.75" y2="79.57" stroke="#1428b4" stroke-width="1.6" /><path d="M386,75.1 L385.81,80.6 L381.7,78.53 Z" fill="#1428b4"/><line x1="387.5" y1="127.8" x2="377.52" y2="110.72" stroke="#1428b4" stroke-width="1.6" /><path d="M375,106.4 L379.51,109.56 L375.54,111.88 Z" fill="#1428b4"/><line x1="442.6" y1="89.8" x2="437.45" y2="79.57" stroke="#1428b4" stroke-width="1.6" /><path d="M435.2,75.1 L439.5,78.53 L435.39,80.6 Z" fill="#1428b4"/><line x1="433.7" y1="127.8" x2="443.68" y2="110.72" stroke="#1428b4" stroke-width="1.6" /><path d="M446.2,106.4 L445.66,111.88 L441.69,109.56 Z" fill="#1428b4"/><line x1="410.7" y1="112.6" x2="410.7" y2="129.9" stroke="#1428b4" stroke-width="1.9" /><path d="M410.7,136.4 L408.4,129.9 L413,129.9 Z" fill="#1428b4"/>
<circle cx="410.7" cy="6.3" r="3.2" fill="url(#gHb)" />
<circle cx="386.7" cy="22.4" r="3.2" fill="url(#gHb)" />
<circle cx="386.7" cy="56.8" r="3.2" fill="url(#gHb)" />
<circle cx="434.7" cy="22.4" r="3.2" fill="url(#gHb)" />
<circle cx="434.7" cy="56.8" r="3.2" fill="url(#gHb)" />
<circle cx="381" cy="85" r="3.2" fill="url(#gHb)" />
<circle cx="381.6" cy="118.9" r="3.2" fill="url(#gHb)" />
<circle cx="440.2" cy="85" r="3.2" fill="url(#gHb)" />
<circle cx="439.6" cy="118.9" r="3.2" fill="url(#gHb)" />
<circle cx="410.7" cy="18" r="6.2" fill="url(#gCb)" />
<circle cx="396" cy="29.2" r="6.2" fill="url(#gCb)" />
<circle cx="396" cy="49.9" r="6.2" fill="url(#gCb)" />
<circle cx="410.7" cy="60.2" r="6.2" fill="url(#gCb)" />
<circle cx="425.4" cy="49.9" r="6.2" fill="url(#gCb)" />
<circle cx="425.4" cy="29.2" r="6.2" fill="url(#gCb)" />
<circle cx="410.6" cy="80.6" r="6.2" fill="url(#gCb)" />
<circle cx="392.6" cy="91.5" r="6.2" fill="url(#gCb)" />
<circle cx="392.6" cy="111.4" r="6.2" fill="url(#gCb)" />
<circle cx="410.6" cy="122.5" r="6.2" fill="url(#gCb)" />
<circle cx="428.6" cy="111.4" r="6.2" fill="url(#gCb)" />
<circle cx="428.6" cy="91.5" r="6.2" fill="url(#gCb)" />
<circle cx="411" cy="145.5" r="7" fill="url(#gSb)" />
<circle cx="426.2" cy="156.5" r="7.3" fill="url(#gAub)" />
<text transform="translate(372.6,16.9) scale(0.86,1)" font-family="Liberation Sans" font-size="22.2" fill="#000">c</text>
<text x="433.9" y="13.8" font-family="Liberation Serif" font-style="italic" font-size="17.5" fill="#111" textLength="15" lengthAdjust="spacingAndGlyphs">v<tspan font-style="normal" font-size="12" dy="3">1</tspan></text>
<text x="377.9" y="178.1" font-family="Liberation Serif" font-size="15" fill="#111" textLength="71" lengthAdjust="spacingAndGlyphs" stroke="#111" stroke-width="0.22">1058 cm<tspan font-size="10.5" dy="-6">−1</tspan></text>
<rect x="371.2" y="188.8" width="81.7" height="182.4" rx="5" fill="#fff" stroke="#111" stroke-width="1.3"/>
<polygon points="411.9,273 393.8,283.2 393.8,304 411.9,314.5 430,304 430,283.2" fill="none" stroke="#ff4a4a" stroke-width="11" stroke-linejoin="round" opacity="0.8" filter="url(#blur2)"/>
<line x1="412.4" y1="210.2" x2="397.8" y2="220.5" stroke="#b2b2b2" stroke-width="3" />
<line x1="397.8" y1="220.5" x2="397.8" y2="241.9" stroke="#b2b2b2" stroke-width="3" />
<line x1="397.8" y1="241.9" x2="412.4" y2="252.2" stroke="#b2b2b2" stroke-width="3" />
<line x1="412.4" y1="252.2" x2="427" y2="241.9" stroke="#b2b2b2" stroke-width="3" />
<line x1="427" y1="241.9" x2="427" y2="220.5" stroke="#b2b2b2" stroke-width="3" />
<line x1="427" y1="220.5" x2="412.4" y2="210.2" stroke="#b2b2b2" stroke-width="3" />
<line x1="411.9" y1="273" x2="393.8" y2="283.2" stroke="#b2b2b2" stroke-width="3" />
<line x1="393.8" y1="283.2" x2="393.8" y2="304" stroke="#b2b2b2" stroke-width="3" />
<line x1="393.8" y1="304" x2="411.9" y2="314.5" stroke="#b2b2b2" stroke-width="3" />
<line x1="411.9" y1="314.5" x2="430" y2="304" stroke="#b2b2b2" stroke-width="3" />
<line x1="430" y1="304" x2="430" y2="283.2" stroke="#b2b2b2" stroke-width="3" />
<line x1="430" y1="283.2" x2="411.9" y2="273" stroke="#b2b2b2" stroke-width="3" />
<line x1="412.4" y1="252.2" x2="411.9" y2="273" stroke="#b2b2b2" stroke-width="3" />
<line x1="411.9" y1="314.5" x2="412.2" y2="337.9" stroke="#b2b2b2" stroke-width="3" />
<line x1="412.4" y1="196.6" x2="412.4" y2="210.2" stroke="#b8b8b8" stroke-width="2.6" />
<line x1="387.5" y1="214.4" x2="397.8" y2="220.5" stroke="#b8b8b8" stroke-width="2.6" />
<line x1="387.5" y1="247" x2="397.8" y2="241.9" stroke="#b8b8b8" stroke-width="2.6" />
<line x1="436.6" y1="214.4" x2="427" y2="220.5" stroke="#b8b8b8" stroke-width="2.6" />
<line x1="436.6" y1="247" x2="427" y2="241.9" stroke="#b8b8b8" stroke-width="2.6" />
<line x1="382" y1="276.6" x2="393.8" y2="283.2" stroke="#b8b8b8" stroke-width="2.6" />
<line x1="382.6" y1="310.8" x2="393.8" y2="304" stroke="#b8b8b8" stroke-width="2.6" />
<line x1="441.8" y1="276.6" x2="430" y2="283.2" stroke="#b8b8b8" stroke-width="2.6" />
<line x1="441.2" y1="310.8" x2="430" y2="304" stroke="#b8b8b8" stroke-width="2.6" />
<line x1="412.2" y1="337.9" x2="427.5" y2="348.1" stroke="#a8a8a8" stroke-width="2.4" />

<line x1="411.9" y1="273" x2="411.9" y2="282.4" stroke="#1428b4" stroke-width="1.9" /><path d="M411.9,289.4 L409.7,282.4 L414.1,282.4 Z" fill="#1428b4"/><line x1="411.9" y1="314.5" x2="411.9" y2="305.6" stroke="#1428b4" stroke-width="1.9" /><path d="M411.9,298.6 L414.1,305.6 L409.7,305.6 Z" fill="#1428b4"/><line x1="393.8" y1="283.2" x2="393.8" y2="274.6" stroke="#1428b4" stroke-width="1.9" /><path d="M393.8,267.6 L396,274.6 L391.6,274.6 Z" fill="#1428b4"/><line x1="430" y1="283.2" x2="430" y2="274.6" stroke="#1428b4" stroke-width="1.9" /><path d="M430,267.6 L432.2,274.6 L427.8,274.6 Z" fill="#1428b4"/><line x1="393.8" y1="304" x2="393.8" y2="312.4" stroke="#1428b4" stroke-width="1.9" /><path d="M393.8,319.4 L391.6,312.4 L396,312.4 Z" fill="#1428b4"/><line x1="430" y1="304" x2="430" y2="312.4" stroke="#1428b4" stroke-width="1.9" /><path d="M430,319.4 L427.8,312.4 L432.2,312.4 Z" fill="#1428b4"/><line x1="385.6" y1="270.2" x2="379.84" y2="281.73" stroke="#1428b4" stroke-width="1.6" /><path d="M377.6,286.2 L377.87,280.74 L381.8,282.71 Z" fill="#1428b4"/><line x1="438.2" y1="270.2" x2="443.96" y2="281.73" stroke="#1428b4" stroke-width="1.6" /><path d="M446.2,286.2 L442,282.71 L445.93,280.74 Z" fill="#1428b4"/><line x1="387.2" y1="318.6" x2="380.86" y2="306.06" stroke="#1428b4" stroke-width="1.6" /><path d="M378.6,301.6 L382.82,305.07 L378.89,307.05 Z" fill="#1428b4"/><line x1="436.6" y1="318.6" x2="442.94" y2="306.06" stroke="#1428b4" stroke-width="1.6" /><path d="M445.2,301.6 L444.91,307.05 L440.98,305.07 Z" fill="#1428b4"/>
<circle cx="412.4" cy="196.6" r="3.2" fill="url(#gHb)" />
<circle cx="387.5" cy="214.4" r="3.2" fill="url(#gHb)" />
<circle cx="387.5" cy="247" r="3.2" fill="url(#gHb)" />
<circle cx="436.6" cy="214.4" r="3.2" fill="url(#gHb)" />
<circle cx="436.6" cy="247" r="3.2" fill="url(#gHb)" />
<circle cx="382" cy="276.6" r="3.2" fill="url(#gHb)" />
<circle cx="382.6" cy="310.8" r="3.2" fill="url(#gHb)" />
<circle cx="441.8" cy="276.6" r="3.2" fill="url(#gHb)" />
<circle cx="441.2" cy="310.8" r="3.2" fill="url(#gHb)" />
<circle cx="412.4" cy="210.2" r="6.2" fill="url(#gCb)" />
<circle cx="397.8" cy="220.5" r="6.2" fill="url(#gCb)" />
<circle cx="397.8" cy="241.9" r="6.2" fill="url(#gCb)" />
<circle cx="412.4" cy="252.2" r="6.2" fill="url(#gCb)" />
<circle cx="427" cy="241.9" r="6.2" fill="url(#gCb)" />
<circle cx="427" cy="220.5" r="6.2" fill="url(#gCb)" />
<circle cx="411.9" cy="273" r="6.2" fill="url(#gCb)" />
<circle cx="393.8" cy="283.2" r="6.2" fill="url(#gCb)" />
<circle cx="393.8" cy="304" r="6.2" fill="url(#gCb)" />
<circle cx="411.9" cy="314.5" r="6.2" fill="url(#gCb)" />
<circle cx="430" cy="304" r="6.2" fill="url(#gCb)" />
<circle cx="430" cy="283.2" r="6.2" fill="url(#gCb)" />
<circle cx="412.2" cy="337.9" r="7" fill="url(#gSb)" />
<circle cx="427.5" cy="348.1" r="7.3" fill="url(#gAub)" />
<text x="372.2" y="208" font-family="Liberation Sans" font-size="22.4" fill="#000">d</text>
<text x="433.2" y="205.2" font-family="Liberation Serif" font-style="italic" font-size="17.5" fill="#111" textLength="15.4" lengthAdjust="spacingAndGlyphs">v<tspan font-style="normal" font-size="12.5" dy="3.3">2</tspan></text>
<text x="377.7" y="367.4" font-family="Liberation Serif" font-size="15" fill="#111" textLength="71" lengthAdjust="spacingAndGlyphs" stroke="#111" stroke-width="0.22">1554 cm<tspan font-size="10.5" dy="-6">−1</tspan></text>
<clipPath id="clipE0"><rect x="463.5" y="0.5" width="189.1" height="90"/></clipPath>
<g clip-path="url(#clipE0)">
<rect x="476.58" y="89" width="6.38" height="1.5" fill="#1b9e77" stroke="#2a2a2a" stroke-opacity="0.75" stroke-width="0.6"/>
<rect x="482.96" y="88.5" width="6.38" height="2" fill="#1b9e77" stroke="#2a2a2a" stroke-opacity="0.75" stroke-width="0.6"/>
<rect x="489.34" y="88.1" width="6.38" height="2.4" fill="#1b9e77" stroke="#2a2a2a" stroke-opacity="0.75" stroke-width="0.6"/>
<rect x="495.72" y="87.5" width="6.38" height="3" fill="#1b9e77" stroke="#2a2a2a" stroke-opacity="0.75" stroke-width="0.6"/>
<rect x="502.1" y="83" width="6.38" height="7.5" fill="#1b9e77" stroke="#2a2a2a" stroke-opacity="0.75" stroke-width="0.6"/>
<rect x="508.48" y="83" width="6.38" height="7.5" fill="#1b9e77" stroke="#2a2a2a" stroke-opacity="0.75" stroke-width="0.6"/>
<rect x="514.86" y="85.3" width="6.38" height="5.2" fill="#1b9e77" stroke="#2a2a2a" stroke-opacity="0.75" stroke-width="0.6"/>
<rect x="521.24" y="80.1" width="6.38" height="10.4" fill="#1b9e77" stroke="#2a2a2a" stroke-opacity="0.75" stroke-width="0.6"/>
<rect x="527.62" y="76.6" width="6.38" height="13.9" fill="#1b9e77" stroke="#2a2a2a" stroke-opacity="0.75" stroke-width="0.6"/>
<rect x="534" y="67" width="6.38" height="23.5" fill="#1b9e77" stroke="#2a2a2a" stroke-opacity="0.75" stroke-width="0.6"/>
<rect x="540.38" y="49" width="6.38" height="41.5" fill="#1b9e77" stroke="#2a2a2a" stroke-opacity="0.75" stroke-width="0.6"/>
<rect x="546.76" y="30" width="6.38" height="60.5" fill="#1b9e77" stroke="#2a2a2a" stroke-opacity="0.75" stroke-width="0.6"/>
<rect x="553.14" y="10.5" width="6.38" height="80" fill="#1b9e77" stroke="#2a2a2a" stroke-opacity="0.75" stroke-width="0.6"/>
<rect x="559.52" y="11.2" width="6.38" height="79.3" fill="#1b9e77" stroke="#2a2a2a" stroke-opacity="0.75" stroke-width="0.6"/>
<rect x="565.9" y="4.7" width="6.38" height="85.8" fill="#1b9e77" stroke="#2a2a2a" stroke-opacity="0.75" stroke-width="0.6"/>
<rect x="572.28" y="21" width="6.38" height="69.5" fill="#1b9e77" stroke="#2a2a2a" stroke-opacity="0.75" stroke-width="0.6"/>
<rect x="578.66" y="43.7" width="6.38" height="46.8" fill="#1b9e77" stroke="#2a2a2a" stroke-opacity="0.75" stroke-width="0.6"/>
<rect x="585.04" y="53.3" width="6.38" height="37.2" fill="#1b9e77" stroke="#2a2a2a" stroke-opacity="0.75" stroke-width="0.6"/>
<rect x="591.42" y="70.6" width="6.38" height="19.9" fill="#1b9e77" stroke="#2a2a2a" stroke-opacity="0.75" stroke-width="0.6"/>
<rect x="597.8" y="81.3" width="6.38" height="9.2" fill="#1b9e77" stroke="#2a2a2a" stroke-opacity="0.75" stroke-width="0.6"/>
<rect x="604.18" y="85" width="6.38" height="5.5" fill="#1b9e77" stroke="#2a2a2a" stroke-opacity="0.75" stroke-width="0.6"/>
<rect x="610.56" y="86.9" width="6.38" height="3.6" fill="#1b9e77" stroke="#2a2a2a" stroke-opacity="0.75" stroke-width="0.6"/>
<rect x="616.94" y="89.3" width="6.38" height="1.2" fill="#1b9e77" stroke="#2a2a2a" stroke-opacity="0.75" stroke-width="0.6"/>
<rect x="623.32" y="89.9" width="6.38" height="0.6" fill="#1b9e77" stroke="#2a2a2a" stroke-opacity="0.75" stroke-width="0.6"/>
<path d="M463.5,90.5 L464,90.5 L464.5,90.5 L465,90.5 L465.5,90.5 L466,90.5 L466.5,90.5 L467,90.5 L467.5,90.5 L468,90.5 L468.5,90.5 L469,90.5 L469.5,90.5 L470,90.5 L470.5,90.5 L471,90.5 L471.5,90.5 L472,90.5 L472.5,90.5 L473,90.5 L473.5,90.5 L474,90.5 L474.5,90.5 L475,90.5 L475.5,90.5 L476,90.5 L476.5,90.5 L477,90.5 L477.5,90.5 L478,90.5 L478.5,90.5 L479,90.5 L479.5,90.5 L480,90.5 L480.5,90.5 L481,90.5 L481.5,90.5 L482,90.5 L482.5,90.5 L483,90.5 L483.5,90.5 L484,90.5 L484.5,90.5 L485,90.5 L485.5,90.5 L486,90.5 L486.5,90.5 L487,90.49 L487.5,90.49 L488,90.49 L488.5,90.49 L489,90.49 L489.5,90.49 L490,90.49 L490.5,90.49 L491,90.49 L491.5,90.48 L492,90.48 L492.5,90.48 L493,90.48 L493.5,90.47 L494,90.47 L494.5,90.47 L495,90.46 L495.5,90.46 L496,90.46 L496.5,90.45 L497,90.44 L497.5,90.44 L498,90.43 L498.5,90.42 L499,90.41 L499.5,90.4 L500,90.39 L500.5,90.38 L501,90.37 L501.5,90.35 L502,90.34 L502.5,90.32 L503,90.3 L503.5,90.28 L504,90.26 L504.5,90.24 L505,90.21 L505.5,90.18 L506,90.15 L506.5,90.11 L507,90.08 L507.5,90.03 L508,89.99 L508.5,89.94 L509,89.89 L509.5,89.83 L510,89.77 L510.5,89.7 L511,89.63 L511.5,89.55 L512,89.47 L512.5,89.38 L513,89.28 L513.5,89.17 L514,89.06 L514.5,88.94 L515,88.81 L515.5,88.67 L516,88.51 L516.5,88.35 L517,88.18 L517.5,88 L518,87.8 L518.5,87.59 L519,87.37 L519.5,87.13 L520,86.88 L520.5,86.61 L521,86.33 L521.5,86.03 L522,85.71 L522.5,85.37 L523,85.01 L523.5,84.63 L524,84.23 L524.5,83.81 L525,83.37 L525.5,82.91 L526,82.42 L526.5,81.9 L527,81.36 L527.5,80.8 L528,80.21 L528.5,79.59 L529,78.94 L529.5,78.27 L530,77.56 L530.5,76.83 L531,76.07 L531.5,75.28 L532,74.45 L532.5,73.6 L533,72.71 L533.5,71.8 L534,70.85 L534.5,69.87 L535,68.87 L535.5,67.83 L536,66.76 L536.5,65.66 L537,64.52 L537.5,63.37 L538,62.18 L538.5,60.96 L539,59.72 L539.5,58.45 L540,57.15 L540.5,55.84 L541,54.49 L541.5,53.13 L542,51.75 L542.5,50.35 L543,48.93 L543.5,47.5 L544,46.05 L544.5,44.6 L545,43.13 L545.5,41.66 L546,40.18 L546.5,38.7 L547,37.22 L547.5,35.75 L548,34.27 L548.5,32.81 L549,31.35 L549.5,29.91 L550,28.49 L550.5,27.08 L551,25.69 L551.5,24.33 L552,22.99 L552.5,21.68 L553,20.41 L553.5,19.17 L554,17.96 L554.5,16.8 L555,15.68 L555.5,14.6 L556,13.57 L556.5,12.59 L557,11.67 L557.5,10.79 L558,9.97 L558.5,9.22 L559,8.52 L559.5,7.88 L560,7.3 L560.5,6.79 L561,6.35 L561.5,5.97 L562,5.66 L562.5,5.41 L563,5.24 L563.5,5.13 L564,5.1 L564.5,5.13 L565,5.24 L565.5,5.41 L566,5.66 L566.5,5.97 L567,6.35 L567.5,6.79 L568,7.3 L568.5,7.88 L569,8.52 L569.5,9.22 L570,9.97 L570.5,10.79 L571,11.67 L571.5,12.59 L572,13.57 L572.5,14.6 L573,15.68 L573.5,16.8 L574,17.96 L574.5,19.17 L575,20.41 L575.5,21.68 L576,22.99 L576.5,24.33 L577,25.69 L577.5,27.08 L578,28.49 L578.5,29.91 L579,31.35 L579.5,32.81 L580,34.27 L580.5,35.75 L581,37.22 L581.5,38.7 L582,40.18 L582.5,41.66 L583,43.13 L583.5,44.6 L584,46.05 L584.5,47.5 L585,48.93 L585.5,50.35 L586,51.75 L586.5,53.13 L587,54.49 L587.5,55.84 L588,57.15 L588.5,58.45 L589,59.72 L589.5,60.96 L590,62.18 L590.5,63.37 L591,64.52 L591.5,65.66 L592,66.76 L592.5,67.83 L593,68.87 L593.5,69.87 L594,70.85 L594.5,71.8 L595,72.71 L595.5,73.6 L596,74.45 L596.5,75.28 L597,76.07 L597.5,76.83 L598,77.56 L598.5,78.27 L599,78.94 L599.5,79.59 L600,80.21 L600.5,80.8 L601,81.36 L601.5,81.9 L602,82.42 L602.5,82.91 L603,83.37 L603.5,83.81 L604,84.23 L604.5,84.63 L605,85.01 L605.5,85.37 L606,85.71 L606.5,86.03 L607,86.33 L607.5,86.61 L608,86.88 L608.5,87.13 L609,87.37 L609.5,87.59 L610,87.8 L610.5,88 L611,88.18 L611.5,88.35 L612,88.51 L612.5,88.67 L613,88.81 L613.5,88.94 L614,89.06 L614.5,89.17 L615,89.28 L615.5,89.38 L616,89.47 L616.5,89.55 L617,89.63 L617.5,89.7 L618,89.77 L618.5,89.83 L619,89.89 L619.5,89.94 L620,89.99 L620.5,90.03 L621,90.08 L621.5,90.11 L622,90.15 L622.5,90.18 L623,90.21 L623.5,90.24 L624,90.26 L624.5,90.28 L625,90.3 L625.5,90.32 L626,90.34 L626.5,90.35 L627,90.37 L627.5,90.38 L628,90.39 L628.5,90.4 L629,90.41 L629.5,90.42 L630,90.43 L630.5,90.44 L631,90.44 L631.5,90.45 L632,90.46 L632.5,90.46 L633,90.46 L633.5,90.47 L634,90.47 L634.5,90.47 L635,90.48 L635.5,90.48 L636,90.48 L636.5,90.48 L637,90.49 L637.5,90.49 L638,90.49 L638.5,90.49 L639,90.49 L639.5,90.49 L640,90.49 L640.5,90.49 L641,90.49 L641.5,90.5 L642,90.5 L642.5,90.5 L643,90.5 L643.5,90.5 L644,90.5 L644.5,90.5 L645,90.5 L645.5,90.5 L646,90.5 L646.5,90.5 L647,90.5 L647.5,90.5 L648,90.5 L648.5,90.5 L649,90.5 L649.5,90.5 L650,90.5 L650.5,90.5 L651,90.5 L651.5,90.5 L652,90.5 L652.5,90.5" fill="none" stroke="#111" stroke-width="1.1" stroke-dasharray="3.2,2"/>
</g>
<rect x="463.5" y="0.5" width="189.1" height="90" fill="none" stroke="#222" stroke-width="1.2"/>
<line x1="463.5" y1="44.4" x2="466.1" y2="44.4" stroke="#222" stroke-width="1.1" />
<line x1="652.6" y1="44.8" x2="655.2" y2="44.8" stroke="#222" stroke-width="1.1" />
<text x="659" y="49.4" font-family="Liberation Sans" font-size="13" fill="#222" stroke="#222" stroke-width="0.22">1</text>
<clipPath id="clipE1"><rect x="463.5" y="94.6" width="189.1" height="89.9"/></clipPath>
<g clip-path="url(#clipE1)">
<rect x="481.04" y="184" width="6.33" height="0.5" fill="#d95f02" stroke="#2a2a2a" stroke-opacity="0.75" stroke-width="0.6"/>
<rect x="487.37" y="183.6" width="6.33" height="0.9" fill="#d95f02" stroke="#2a2a2a" stroke-opacity="0.75" stroke-width="0.6"/>
<rect x="493.7" y="182.1" width="6.33" height="2.4" fill="#d95f02" stroke="#2a2a2a" stroke-opacity="0.75" stroke-width="0.6"/>
<rect x="500.03" y="182.1" width="6.33" height="2.4" fill="#d95f02" stroke="#2a2a2a" stroke-opacity="0.75" stroke-width="0.6"/>
<rect x="506.36" y="181.6" width="6.33" height="2.9" fill="#d95f02" stroke="#2a2a2a" stroke-opacity="0.75" stroke-width="0.6"/>
<rect x="512.69" y="180" width="6.33" height="4.5" fill="#d95f02" stroke="#2a2a2a" stroke-opacity="0.75" stroke-width="0.6"/>
<rect x="519.02" y="175" width="6.33" height="9.5" fill="#d95f02" stroke="#2a2a2a" stroke-opacity="0.75" stroke-width="0.6"/>
<rect x="525.35" y="176.2" width="6.33" height="8.3" fill="#d95f02" stroke="#2a2a2a" stroke-opacity="0.75" stroke-width="0.6"/>
<rect x="531.68" y="176" width="6.33" height="8.5" fill="#d95f02" stroke="#2a2a2a" stroke-opacity="0.75" stroke-width="0.6"/>
<rect x="538.01" y="174.3" width="6.33" height="10.2" fill="#d95f02" stroke="#2a2a2a" stroke-opacity="0.75" stroke-width="0.6"/>
<rect x="544.34" y="151" width="6.33" height="33.5" fill="#d95f02" stroke="#2a2a2a" stroke-opacity="0.75" stroke-width="0.6"/>
<rect x="550.67" y="136" width="6.33" height="48.5" fill="#d95f02" stroke="#2a2a2a" stroke-opacity="0.75" stroke-width="0.6"/>
<rect x="557" y="120.7" width="6.33" height="63.8" fill="#d95f02" stroke="#2a2a2a" stroke-opacity="0.75" stroke-width="0.6"/>
<rect x="563.33" y="100.3" width="6.33" height="84.2" fill="#d95f02" stroke="#2a2a2a" stroke-opacity="0.75" stroke-width="0.6"/>
<rect x="569.66" y="99.1" width="6.33" height="85.4" fill="#d95f02" stroke="#2a2a2a" stroke-opacity="0.75" stroke-width="0.6"/>
<rect x="575.99" y="117" width="6.33" height="67.5" fill="#d95f02" stroke="#2a2a2a" stroke-opacity="0.75" stroke-width="0.6"/>
<rect x="582.32" y="115.1" width="6.33" height="69.4" fill="#d95f02" stroke="#2a2a2a" stroke-opacity="0.75" stroke-width="0.6"/>
<rect x="588.65" y="126.4" width="6.33" height="58.1" fill="#d95f02" stroke="#2a2a2a" stroke-opacity="0.75" stroke-width="0.6"/>
<rect x="594.98" y="152.2" width="6.33" height="32.3" fill="#d95f02" stroke="#2a2a2a" stroke-opacity="0.75" stroke-width="0.6"/>
<rect x="601.31" y="167" width="6.33" height="17.5" fill="#d95f02" stroke="#2a2a2a" stroke-opacity="0.75" stroke-width="0.6"/>
<rect x="607.64" y="174.8" width="6.33" height="9.7" fill="#d95f02" stroke="#2a2a2a" stroke-opacity="0.75" stroke-width="0.6"/>
<rect x="613.97" y="182.2" width="6.33" height="2.3" fill="#d95f02" stroke="#2a2a2a" stroke-opacity="0.75" stroke-width="0.6"/>
<rect x="620.3" y="183.6" width="6.33" height="0.9" fill="#d95f02" stroke="#2a2a2a" stroke-opacity="0.75" stroke-width="0.6"/>
<path d="M463.5,184.5 L464,184.5 L464.5,184.5 L465,184.5 L465.5,184.5 L466,184.5 L466.5,184.5 L467,184.5 L467.5,184.5 L468,184.5 L468.5,184.5 L469,184.5 L469.5,184.5 L470,184.5 L470.5,184.5 L471,184.5 L471.5,184.5 L472,184.5 L472.5,184.5 L473,184.5 L473.5,184.5 L474,184.5 L474.5,184.5 L475,184.5 L475.5,184.5 L476,184.5 L476.5,184.5 L477,184.5 L477.5,184.5 L478,184.5 L478.5,184.5 L479,184.5 L479.5,184.5 L480,184.5 L480.5,184.5 L481,184.5 L481.5,184.5 L482,184.5 L482.5,184.5 L483,184.5 L483.5,184.5 L484,184.5 L484.5,184.5 L485,184.5 L485.5,184.5 L486,184.5 L486.5,184.5 L487,184.5 L487.5,184.5 L488,184.5 L488.5,184.5 L489,184.5 L489.5,184.5 L490,184.5 L490.5,184.49 L491,184.49 L491.5,184.49 L492,184.49 L492.5,184.49 L493,184.49 L493.5,184.49 L494,184.49 L494.5,184.49 L495,184.48 L495.5,184.48 L496,184.48 L496.5,184.48 L497,184.48 L497.5,184.47 L498,184.47 L498.5,184.47 L499,184.46 L499.5,184.46 L500,184.45 L500.5,184.45 L501,184.44 L501.5,184.44 L502,184.43 L502.5,184.43 L503,184.42 L503.5,184.41 L504,184.4 L504.5,184.39 L505,184.38 L505.5,184.37 L506,184.35 L506.5,184.34 L507,184.32 L507.5,184.3 L508,184.29 L508.5,184.26 L509,184.24 L509.5,184.22 L510,184.19 L510.5,184.16 L511,184.13 L511.5,184.1 L512,184.06 L512.5,184.02 L513,183.98 L513.5,183.93 L514,183.88 L514.5,183.83 L515,183.77 L515.5,183.71 L516,183.65 L516.5,183.57 L517,183.5 L517.5,183.41 L518,183.33 L518.5,183.23 L519,183.13 L519.5,183.02 L520,182.91 L520.5,182.78 L521,182.65 L521.5,182.51 L522,182.36 L522.5,182.2 L523,182.03 L523.5,181.85 L524,181.66 L524.5,181.46 L525,181.25 L525.5,181.02 L526,180.78 L526.5,180.52 L527,180.26 L527.5,179.97 L528,179.67 L528.5,179.36 L529,179.02 L529.5,178.67 L530,178.31 L530.5,177.92 L531,177.52 L531.5,177.09 L532,176.65 L532.5,176.18 L533,175.69 L533.5,175.18 L534,174.65 L534.5,174.1 L535,173.52 L535.5,172.91 L536,172.29 L536.5,171.64 L537,170.96 L537.5,170.26 L538,169.53 L538.5,168.77 L539,167.99 L539.5,167.19 L540,166.35 L540.5,165.49 L541,164.6 L541.5,163.69 L542,162.75 L542.5,161.78 L543,160.79 L543.5,159.77 L544,158.73 L544.5,157.66 L545,156.56 L545.5,155.44 L546,154.3 L546.5,153.14 L547,151.95 L547.5,150.74 L548,149.51 L548.5,148.27 L549,147 L549.5,145.72 L550,144.42 L550.5,143.11 L551,141.79 L551.5,140.46 L552,139.11 L552.5,137.76 L553,136.4 L553.5,135.04 L554,133.67 L554.5,132.31 L555,130.94 L555.5,129.58 L556,128.22 L556.5,126.87 L557,125.53 L557.5,124.21 L558,122.89 L558.5,121.59 L559,120.31 L559.5,119.05 L560,117.81 L560.5,116.6 L561,115.41 L561.5,114.25 L562,113.13 L562.5,112.03 L563,110.97 L563.5,109.95 L564,108.97 L564.5,108.03 L565,107.13 L565.5,106.28 L566,105.47 L566.5,104.71 L567,104.01 L567.5,103.35 L568,102.74 L568.5,102.19 L569,101.7 L569.5,101.26 L570,100.87 L570.5,100.55 L571,100.28 L571.5,100.07 L572,99.92 L572.5,99.83 L573,99.8 L573.5,99.83 L574,99.92 L574.5,100.07 L575,100.28 L575.5,100.55 L576,100.87 L576.5,101.26 L577,101.7 L577.5,102.19 L578,102.74 L578.5,103.35 L579,104.01 L579.5,104.71 L580,105.47 L580.5,106.28 L581,107.13 L581.5,108.03 L582,108.97 L582.5,109.95 L583,110.97 L583.5,112.03 L584,113.13 L584.5,114.25 L585,115.41 L585.5,116.6 L586,117.81 L586.5,119.05 L587,120.31 L587.5,121.59 L588,122.89 L588.5,124.21 L589,125.53 L589.5,126.87 L590,128.22 L590.5,129.58 L591,130.94 L591.5,132.31 L592,133.67 L592.5,135.04 L593,136.4 L593.5,137.76 L594,139.11 L594.5,140.46 L595,141.79 L595.5,143.11 L596,144.42 L596.5,145.72 L597,147 L597.5,148.27 L598,149.51 L598.5,150.74 L599,151.95 L599.5,153.14 L600,154.3 L600.5,155.44 L601,156.56 L601.5,157.66 L602,158.73 L602.5,159.77 L603,160.79 L603.5,161.78 L604,162.75 L604.5,163.69 L605,164.6 L605.5,165.49 L606,166.35 L606.5,167.19 L607,167.99 L607.5,168.77 L608,169.53 L608.5,170.26 L609,170.96 L609.5,171.64 L610,172.29 L610.5,172.91 L611,173.52 L611.5,174.1 L612,174.65 L612.5,175.18 L613,175.69 L613.5,176.18 L614,176.65 L614.5,177.09 L615,177.52 L615.5,177.92 L616,178.31 L616.5,178.67 L617,179.02 L617.5,179.36 L618,179.67 L618.5,179.97 L619,180.26 L619.5,180.52 L620,180.78 L620.5,181.02 L621,181.25 L621.5,181.46 L622,181.66 L622.5,181.85 L623,182.03 L623.5,182.2 L624,182.36 L624.5,182.51 L625,182.65 L625.5,182.78 L626,182.91 L626.5,183.02 L627,183.13 L627.5,183.23 L628,183.33 L628.5,183.41 L629,183.5 L629.5,183.57 L630,183.65 L630.5,183.71 L631,183.77 L631.5,183.83 L632,183.88 L632.5,183.93 L633,183.98 L633.5,184.02 L634,184.06 L634.5,184.1 L635,184.13 L635.5,184.16 L636,184.19 L636.5,184.22 L637,184.24 L637.5,184.26 L638,184.29 L638.5,184.3 L639,184.32 L639.5,184.34 L640,184.35 L640.5,184.37 L641,184.38 L641.5,184.39 L642,184.4 L642.5,184.41 L643,184.42 L643.5,184.43 L644,184.43 L644.5,184.44 L645,184.44 L645.5,184.45 L646,184.45 L646.5,184.46 L647,184.46 L647.5,184.47 L648,184.47 L648.5,184.47 L649,184.48 L649.5,184.48 L650,184.48 L650.5,184.48 L651,184.48 L651.5,184.49 L652,184.49 L652.5,184.49" fill="none" stroke="#111" stroke-width="1.1" stroke-dasharray="3.2,2"/>
</g>
<rect x="463.5" y="94.6" width="189.1" height="89.9" fill="none" stroke="#222" stroke-width="1.2"/>
<line x1="463.5" y1="123.4" x2="466.1" y2="123.4" stroke="#222" stroke-width="1.1" />
<line x1="463.5" y1="153.9" x2="466.1" y2="153.9" stroke="#222" stroke-width="1.1" />
<line x1="652.6" y1="123.6" x2="655.2" y2="123.6" stroke="#222" stroke-width="1.1" />
<text x="659" y="128.2" font-family="Liberation Sans" font-size="13" fill="#222" stroke="#222" stroke-width="0.22">1</text>
<clipPath id="clipE2"><rect x="463.5" y="188.6" width="189.1" height="90.2"/></clipPath>
<g clip-path="url(#clipE2)">
<rect x="509.7" y="278.6" width="6.54" height="0.2" fill="#7570b3" stroke="#2a2a2a" stroke-opacity="0.75" stroke-width="0.6"/>
<rect x="516.24" y="278.6" width="6.54" height="0.2" fill="#7570b3" stroke="#2a2a2a" stroke-opacity="0.75" stroke-width="0.6"/>
<rect x="522.78" y="274.1" width="6.54" height="4.7" fill="#7570b3" stroke="#2a2a2a" stroke-opacity="0.75" stroke-width="0.6"/>
<rect x="529.32" y="266" width="6.54" height="12.8" fill="#7570b3" stroke="#2a2a2a" stroke-opacity="0.75" stroke-width="0.6"/>
<rect x="535.86" y="243.4" width="6.54" height="35.4" fill="#7570b3" stroke="#2a2a2a" stroke-opacity="0.75" stroke-width="0.6"/>
<rect x="542.4" y="218.4" width="6.54" height="60.4" fill="#7570b3" stroke="#2a2a2a" stroke-opacity="0.75" stroke-width="0.6"/>
<rect x="548.94" y="193.2" width="6.54" height="85.6" fill="#7570b3" stroke="#2a2a2a" stroke-opacity="0.75" stroke-width="0.6"/>
<rect x="555.48" y="217.2" width="6.54" height="61.6" fill="#7570b3" stroke="#2a2a2a" stroke-opacity="0.75" stroke-width="0.6"/>
<rect x="562.02" y="237.6" width="6.54" height="41.2" fill="#7570b3" stroke="#2a2a2a" stroke-opacity="0.75" stroke-width="0.6"/>
<rect x="568.56" y="259.9" width="6.54" height="18.9" fill="#7570b3" stroke="#2a2a2a" stroke-opacity="0.75" stroke-width="0.6"/>
<rect x="575.1" y="271.2" width="6.54" height="7.6" fill="#7570b3" stroke="#2a2a2a" stroke-opacity="0.75" stroke-width="0.6"/>
<rect x="581.64" y="277.3" width="6.54" height="1.5" fill="#7570b3" stroke="#2a2a2a" stroke-opacity="0.75" stroke-width="0.6"/>
<rect x="588.18" y="277.6" width="6.54" height="1.2" fill="#7570b3" stroke="#2a2a2a" stroke-opacity="0.75" stroke-width="0.6"/>
<path d="M463.5,278.8 L464,278.8 L464.5,278.8 L465,278.8 L465.5,278.8 L466,278.8 L466.5,278.8 L467,278.8 L467.5,278.8 L468,278.8 L468.5,278.8 L469,278.8 L469.5,278.8 L470,278.8 L470.5,278.8 L471,278.8 L471.5,278.8 L472,278.8 L472.5,278.8 L473,278.8 L473.5,278.8 L474,278.8 L474.5,278.8 L475,278.8 L475.5,278.8 L476,278.8 L476.5,278.8 L477,278.8 L477.5,278.8 L478,278.8 L478.5,278.8 L479,278.8 L479.5,278.8 L480,278.8 L480.5,278.8 L481,278.8 L481.5,278.8 L482,278.8 L482.5,278.8 L483,278.8 L483.5,278.8 L484,278.8 L484.5,278.8 L485,278.8 L485.5,278.8 L486,278.8 L486.5,278.8 L487,278.8 L487.5,278.8 L488,278.8 L488.5,278.8 L489,278.8 L489.5,278.8 L490,278.8 L490.5,278.8 L491,278.8 L491.5,278.8 L492,278.8 L492.5,278.8 L493,278.8 L493.5,278.8 L494,278.8 L494.5,278.8 L495,278.8 L495.5,278.8 L496,278.8 L496.5,278.8 L497,278.8 L497.5,278.8 L498,278.8 L498.5,278.8 L499,278.8 L499.5,278.8 L500,278.8 L500.5,278.8 L501,278.8 L501.5,278.8 L502,278.8 L502.5,278.8 L503,278.8 L503.5,278.8 L504,278.8 L504.5,278.8 L505,278.8 L505.5,278.8 L506,278.8 L506.5,278.8 L507,278.8 L507.5,278.8 L508,278.79 L508.5,278.79 L509,278.79 L509.5,278.79 L510,278.79 L510.5,278.78 L511,278.78 L511.5,278.78 L512,278.77 L512.5,278.77 L513,278.76 L513.5,278.75 L514,278.74 L514.5,278.73 L515,278.71 L515.5,278.7 L516,278.68 L516.5,278.66 L517,278.63 L517.5,278.6 L518,278.56 L518.5,278.52 L519,278.48 L519.5,278.42 L520,278.36 L520.5,278.29 L521,278.2 L521.5,278.11 L522,278 L522.5,277.88 L523,277.74 L523.5,277.58 L524,277.4 L524.5,277.2 L525,276.97 L525.5,276.72 L526,276.44 L526.5,276.12 L527,275.77 L527.5,275.39 L528,274.96 L528.5,274.49 L529,273.97 L529.5,273.4 L530,272.78 L530.5,272.1 L531,271.36 L531.5,270.56 L532,269.69 L532.5,268.76 L533,267.75 L533.5,266.67 L534,265.52 L534.5,264.29 L535,262.98 L535.5,261.59 L536,260.12 L536.5,258.57 L537,256.95 L537.5,255.24 L538,253.46 L538.5,251.61 L539,249.69 L539.5,247.71 L540,245.66 L540.5,243.56 L541,241.41 L541.5,239.22 L542,237 L542.5,234.75 L543,232.49 L543.5,230.22 L544,227.95 L544.5,225.7 L545,223.48 L545.5,221.29 L546,219.15 L546.5,217.07 L547,215.07 L547.5,213.15 L548,211.32 L548.5,209.6 L549,208 L549.5,206.52 L550,205.18 L550.5,203.99 L551,202.95 L551.5,202.06 L552,201.35 L552.5,200.8 L553,200.43 L553.5,200.23 L554,200.21 L554.5,200.37 L555,200.71 L555.5,201.22 L556,201.91 L556.5,202.76 L557,203.77 L557.5,204.93 L558,206.24 L558.5,207.69 L559,209.27 L559.5,210.97 L560,212.77 L560.5,214.68 L561,216.67 L561.5,218.73 L562,220.86 L562.5,223.04 L563,225.26 L563.5,227.5 L564,229.76 L564.5,232.03 L565,234.3 L565.5,236.55 L566,238.78 L566.5,240.98 L567,243.14 L567.5,245.25 L568,247.3 L568.5,249.3 L569,251.23 L569.5,253.1 L570,254.89 L570.5,256.61 L571,258.25 L571.5,259.82 L572,261.3 L572.5,262.71 L573,264.03 L573.5,265.28 L574,266.45 L574.5,267.54 L575,268.56 L575.5,269.51 L576,270.39 L576.5,271.21 L577,271.96 L577.5,272.65 L578,273.28 L578.5,273.86 L579,274.39 L579.5,274.87 L580,275.31 L580.5,275.7 L581,276.06 L581.5,276.38 L582,276.67 L582.5,276.92 L583,277.16 L583.5,277.36 L584,277.54 L584.5,277.71 L585,277.85 L585.5,277.98 L586,278.09 L586.5,278.18 L587,278.27 L587.5,278.34 L588,278.41 L588.5,278.47 L589,278.51 L589.5,278.56 L590,278.59 L590.5,278.63 L591,278.65 L591.5,278.68 L592,278.69 L592.5,278.71 L593,278.73 L593.5,278.74 L594,278.75 L594.5,278.76 L595,278.76 L595.5,278.77 L596,278.78 L596.5,278.78 L597,278.78 L597.5,278.79 L598,278.79 L598.5,278.79 L599,278.79 L599.5,278.79 L600,278.8 L600.5,278.8 L601,278.8 L601.5,278.8 L602,278.8 L602.5,278.8 L603,278.8 L603.5,278.8 L604,278.8 L604.5,278.8 L605,278.8 L605.5,278.8 L606,278.8 L606.5,278.8 L607,278.8 L607.5,278.8 L608,278.8 L608.5,278.8 L609,278.8 L609.5,278.8 L610,278.8 L610.5,278.8 L611,278.8 L611.5,278.8 L612,278.8 L612.5,278.8 L613,278.8 L613.5,278.8 L614,278.8 L614.5,278.8 L615,278.8 L615.5,278.8 L616,278.8 L616.5,278.8 L617,278.8 L617.5,278.8 L618,278.8 L618.5,278.8 L619,278.8 L619.5,278.8 L620,278.8 L620.5,278.8 L621,278.8 L621.5,278.8 L622,278.8 L622.5,278.8 L623,278.8 L623.5,278.8 L624,278.8 L624.5,278.8 L625,278.8 L625.5,278.8 L626,278.8 L626.5,278.8 L627,278.8 L627.5,278.8 L628,278.8 L628.5,278.8 L629,278.8 L629.5,278.8 L630,278.8 L630.5,278.8 L631,278.8 L631.5,278.8 L632,278.8 L632.5,278.8 L633,278.8 L633.5,278.8 L634,278.8 L634.5,278.8 L635,278.8 L635.5,278.8 L636,278.8 L636.5,278.8 L637,278.8 L637.5,278.8 L638,278.8 L638.5,278.8 L639,278.8 L639.5,278.8 L640,278.8 L640.5,278.8 L641,278.8 L641.5,278.8 L642,278.8 L642.5,278.8 L643,278.8 L643.5,278.8 L644,278.8 L644.5,278.8 L645,278.8 L645.5,278.8 L646,278.8 L646.5,278.8 L647,278.8 L647.5,278.8 L648,278.8 L648.5,278.8 L649,278.8 L649.5,278.8 L650,278.8 L650.5,278.8 L651,278.8 L651.5,278.8 L652,278.8 L652.5,278.8" fill="none" stroke="#111" stroke-width="1.1" stroke-dasharray="3.2,2"/>
</g>
<rect x="463.5" y="188.6" width="189.1" height="90.2" fill="none" stroke="#222" stroke-width="1.2"/>
<line x1="463.5" y1="222.7" x2="466.1" y2="222.7" stroke="#222" stroke-width="1.1" />
<line x1="652.6" y1="222.7" x2="655.2" y2="222.7" stroke="#222" stroke-width="1.1" />
<text x="659" y="227.3" font-family="Liberation Sans" font-size="13" fill="#222" stroke="#222" stroke-width="0.22">2</text>
<clipPath id="clipE3"><rect x="463.5" y="283" width="189.1" height="89.8"/></clipPath>
<g clip-path="url(#clipE3)">
<rect x="468.9" y="372.2" width="6.4" height="0.6" fill="#e7298a" stroke="#2a2a2a" stroke-opacity="0.75" stroke-width="0.6"/>
<rect x="475.3" y="372" width="6.4" height="0.8" fill="#e7298a" stroke="#2a2a2a" stroke-opacity="0.75" stroke-width="0.6"/>
<rect x="481.7" y="372.1" width="6.4" height="0.7" fill="#e7298a" stroke="#2a2a2a" stroke-opacity="0.75" stroke-width="0.6"/>
<rect x="488.1" y="371.7" width="6.4" height="1.1" fill="#e7298a" stroke="#2a2a2a" stroke-opacity="0.75" stroke-width="0.6"/>
<rect x="494.5" y="369.8" width="6.4" height="3" fill="#e7298a" stroke="#2a2a2a" stroke-opacity="0.75" stroke-width="0.6"/>
<rect x="500.9" y="366.1" width="6.4" height="6.7" fill="#e7298a" stroke="#2a2a2a" stroke-opacity="0.75" stroke-width="0.6"/>
<rect x="507.3" y="350.2" width="6.4" height="22.6" fill="#e7298a" stroke="#2a2a2a" stroke-opacity="0.75" stroke-width="0.6"/>
<rect x="513.7" y="337" width="6.4" height="35.8" fill="#e7298a" stroke="#2a2a2a" stroke-opacity="0.75" stroke-width="0.6"/>
<rect x="520.1" y="309.2" width="6.4" height="63.6" fill="#e7298a" stroke="#2a2a2a" stroke-opacity="0.75" stroke-width="0.6"/>
<rect x="526.5" y="290.3" width="6.4" height="82.5" fill="#e7298a" stroke="#2a2a2a" stroke-opacity="0.75" stroke-width="0.6"/>
<rect x="532.9" y="287.8" width="6.4" height="85" fill="#e7298a" stroke="#2a2a2a" stroke-opacity="0.75" stroke-width="0.6"/>
<rect x="539.3" y="298.9" width="6.4" height="73.9" fill="#e7298a" stroke="#2a2a2a" stroke-opacity="0.75" stroke-width="0.6"/>
<rect x="545.7" y="312.4" width="6.4" height="60.4" fill="#e7298a" stroke="#2a2a2a" stroke-opacity="0.75" stroke-width="0.6"/>
<rect x="552.1" y="333.3" width="6.4" height="39.5" fill="#e7298a" stroke="#2a2a2a" stroke-opacity="0.75" stroke-width="0.6"/>
<rect x="558.5" y="351.1" width="6.4" height="21.7" fill="#e7298a" stroke="#2a2a2a" stroke-opacity="0.75" stroke-width="0.6"/>
<rect x="564.9" y="361.2" width="6.4" height="11.6" fill="#e7298a" stroke="#2a2a2a" stroke-opacity="0.75" stroke-width="0.6"/>
<rect x="571.3" y="366.5" width="6.4" height="6.3" fill="#e7298a" stroke="#2a2a2a" stroke-opacity="0.75" stroke-width="0.6"/>
<rect x="577.7" y="367.9" width="6.4" height="4.9" fill="#e7298a" stroke="#2a2a2a" stroke-opacity="0.75" stroke-width="0.6"/>
<rect x="584.1" y="371.4" width="6.4" height="1.4" fill="#e7298a" stroke="#2a2a2a" stroke-opacity="0.75" stroke-width="0.6"/>
<path d="M463.5,372.8 L464,372.8 L464.5,372.8 L465,372.8 L465.5,372.8 L466,372.8 L466.5,372.8 L467,372.79 L467.5,372.79 L468,372.79 L468.5,372.79 L469,372.79 L469.5,372.79 L470,372.79 L470.5,372.79 L471,372.78 L471.5,372.78 L472,372.78 L472.5,372.78 L473,372.77 L473.5,372.77 L474,372.77 L474.5,372.76 L475,372.76 L475.5,372.75 L476,372.74 L476.5,372.74 L477,372.73 L477.5,372.72 L478,372.71 L478.5,372.7 L479,372.69 L479.5,372.67 L480,372.66 L480.5,372.64 L481,372.62 L481.5,372.6 L482,372.58 L482.5,372.55 L483,372.52 L483.5,372.49 L484,372.46 L484.5,372.42 L485,372.37 L485.5,372.33 L486,372.28 L486.5,372.22 L487,372.16 L487.5,372.09 L488,372.02 L488.5,371.94 L489,371.85 L489.5,371.75 L490,371.65 L490.5,371.54 L491,371.42 L491.5,371.28 L492,371.14 L492.5,370.98 L493,370.82 L493.5,370.64 L494,370.44 L494.5,370.23 L495,370 L495.5,369.76 L496,369.5 L496.5,369.22 L497,368.92 L497.5,368.6 L498,368.26 L498.5,367.9 L499,367.51 L499.5,367.1 L500,366.66 L500.5,366.19 L501,365.7 L501.5,365.18 L502,364.62 L502.5,364.04 L503,363.42 L503.5,362.78 L504,362.09 L504.5,361.38 L505,360.62 L505.5,359.84 L506,359.01 L506.5,358.15 L507,357.25 L507.5,356.31 L508,355.33 L508.5,354.31 L509,353.25 L509.5,352.16 L510,351.02 L510.5,349.85 L511,348.64 L511.5,347.39 L512,346.1 L512.5,344.77 L513,343.42 L513.5,342.02 L514,340.6 L514.5,339.14 L515,337.65 L515.5,336.13 L516,334.59 L516.5,333.03 L517,331.44 L517.5,329.83 L518,328.21 L518.5,326.57 L519,324.92 L519.5,323.27 L520,321.61 L520.5,319.94 L521,318.28 L521.5,316.63 L522,314.99 L522.5,313.35 L523,311.74 L523.5,310.14 L524,308.57 L524.5,307.03 L525,305.52 L525.5,304.05 L526,302.61 L526.5,301.22 L527,299.88 L527.5,298.58 L528,297.35 L528.5,296.17 L529,295.05 L529.5,294 L530,293.01 L530.5,292.09 L531,291.25 L531.5,290.49 L532,289.8 L532.5,289.19 L533,288.67 L533.5,288.22 L534,287.87 L534.5,287.6 L535,287.41 L535.5,287.32 L536,287.31 L536.5,287.39 L537,287.55 L537.5,287.81 L538,288.15 L538.5,288.57 L539,289.08 L539.5,289.67 L540,290.34 L540.5,291.09 L541,291.92 L541.5,292.82 L542,293.79 L542.5,294.83 L543,295.94 L543.5,297.11 L544,298.33 L544.5,299.61 L545,300.95 L545.5,302.33 L546,303.75 L546.5,305.22 L547,306.72 L547.5,308.26 L548,309.83 L548.5,311.42 L549,313.03 L549.5,314.66 L550,316.3 L550.5,317.95 L551,319.61 L551.5,321.27 L552,322.94 L552.5,324.59 L553,326.24 L553.5,327.88 L554,329.51 L554.5,331.12 L555,332.71 L555.5,334.28 L556,335.83 L556.5,337.35 L557,338.84 L557.5,340.31 L558,341.74 L558.5,343.14 L559,344.51 L559.5,345.84 L560,347.13 L560.5,348.39 L561,349.61 L561.5,350.79 L562,351.93 L562.5,353.04 L563,354.1 L563.5,355.13 L564,356.11 L564.5,357.06 L565,357.97 L565.5,358.84 L566,359.67 L566.5,360.47 L567,361.23 L567.5,361.95 L568,362.64 L568.5,363.3 L569,363.92 L569.5,364.51 L570,365.07 L570.5,365.6 L571,366.1 L571.5,366.57 L572,367.01 L572.5,367.43 L573,367.82 L573.5,368.19 L574,368.54 L574.5,368.86 L575,369.16 L575.5,369.45 L576,369.71 L576.5,369.96 L577,370.19 L577.5,370.4 L578,370.6 L578.5,370.78 L579,370.95 L579.5,371.11 L580,371.26 L580.5,371.39 L581,371.51 L581.5,371.63 L582,371.73 L582.5,371.83 L583,371.92 L583.5,372 L584,372.08 L584.5,372.15 L585,372.21 L585.5,372.27 L586,372.32 L586.5,372.37 L587,372.41 L587.5,372.45 L588,372.48 L588.5,372.52 L589,372.54 L589.5,372.57 L590,372.6 L590.5,372.62 L591,372.64 L591.5,372.65 L592,372.67 L592.5,372.68 L593,372.7 L593.5,372.71 L594,372.72 L594.5,372.73 L595,372.74 L595.5,372.74 L596,372.75 L596.5,372.76 L597,372.76 L597.5,372.77 L598,372.77 L598.5,372.77 L599,372.78 L599.5,372.78 L600,372.78 L600.5,372.78 L601,372.79 L601.5,372.79 L602,372.79 L602.5,372.79 L603,372.79 L603.5,372.79 L604,372.79 L604.5,372.79 L605,372.8 L605.5,372.8 L606,372.8 L606.5,372.8 L607,372.8 L607.5,372.8 L608,372.8 L608.5,372.8 L609,372.8 L609.5,372.8 L610,372.8 L610.5,372.8 L611,372.8 L611.5,372.8 L612,372.8 L612.5,372.8 L613,372.8 L613.5,372.8 L614,372.8 L614.5,372.8 L615,372.8 L615.5,372.8 L616,372.8 L616.5,372.8 L617,372.8 L617.5,372.8 L618,372.8 L618.5,372.8 L619,372.8 L619.5,372.8 L620,372.8 L620.5,372.8 L621,372.8 L621.5,372.8 L622,372.8 L622.5,372.8 L623,372.8 L623.5,372.8 L624,372.8 L624.5,372.8 L625,372.8 L625.5,372.8 L626,372.8 L626.5,372.8 L627,372.8 L627.5,372.8 L628,372.8 L628.5,372.8 L629,372.8 L629.5,372.8 L630,372.8 L630.5,372.8 L631,372.8 L631.5,372.8 L632,372.8 L632.5,372.8 L633,372.8 L633.5,372.8 L634,372.8 L634.5,372.8 L635,372.8 L635.5,372.8 L636,372.8 L636.5,372.8 L637,372.8 L637.5,372.8 L638,372.8 L638.5,372.8 L639,372.8 L639.5,372.8 L640,372.8 L640.5,372.8 L641,372.8 L641.5,372.8 L642,372.8 L642.5,372.8 L643,372.8 L643.5,372.8 L644,372.8 L644.5,372.8 L645,372.8 L645.5,372.8 L646,372.8 L646.5,372.8 L647,372.8 L647.5,372.8 L648,372.8 L648.5,372.8 L649,372.8 L649.5,372.8 L650,372.8 L650.5,372.8 L651,372.8 L651.5,372.8 L652,372.8 L652.5,372.8" fill="none" stroke="#111" stroke-width="1.1" stroke-dasharray="3.2,2"/>
</g>
<rect x="463.5" y="283" width="189.1" height="89.8" fill="none" stroke="#222" stroke-width="1.2"/>
<line x1="463.5" y1="295.2" x2="466.1" y2="295.2" stroke="#222" stroke-width="1.1" />
<line x1="463.5" y1="333.8" x2="466.1" y2="333.8" stroke="#222" stroke-width="1.1" />
<line x1="652.6" y1="295.3" x2="655.2" y2="295.3" stroke="#222" stroke-width="1.1" />
<text x="659" y="299.9" font-family="Liberation Sans" font-size="13" fill="#222" stroke="#222" stroke-width="0.22">2</text>
<text x="460.6" y="386.8" text-anchor="middle" font-family="Liberation Sans" font-size="13" fill="#222" textLength="14.6" lengthAdjust="spacingAndGlyphs" stroke="#222" stroke-width="0.22">10</text>
<text x="467.9" y="382.9" font-family="Liberation Sans" font-size="8.8" fill="#222" stroke="#222" stroke-width="0.22">3</text>
<line x1="526.53" y1="372.5" x2="526.53" y2="369.6" stroke="#222" stroke-width="1.1" />
<text x="523.63" y="386.8" text-anchor="middle" font-family="Liberation Sans" font-size="13" fill="#222" textLength="14.6" lengthAdjust="spacingAndGlyphs" stroke="#222" stroke-width="0.22">10</text>
<text x="530.93" y="382.9" font-family="Liberation Sans" font-size="8.8" fill="#222" stroke="#222" stroke-width="0.22">4</text>
<line x1="589.57" y1="372.5" x2="589.57" y2="369.6" stroke="#222" stroke-width="1.1" />
<text x="586.67" y="386.8" text-anchor="middle" font-family="Liberation Sans" font-size="13" fill="#222" textLength="14.6" lengthAdjust="spacingAndGlyphs" stroke="#222" stroke-width="0.22">10</text>
<text x="593.97" y="382.9" font-family="Liberation Sans" font-size="8.8" fill="#222" stroke="#222" stroke-width="0.22">5</text>
<text x="649.7" y="386.8" text-anchor="middle" font-family="Liberation Sans" font-size="13" fill="#222" textLength="14.6" lengthAdjust="spacingAndGlyphs" stroke="#222" stroke-width="0.22">10</text>
<text x="657" y="382.9" font-family="Liberation Sans" font-size="8.8" fill="#222" stroke="#222" stroke-width="0.22">6</text>
<text x="465.1" y="16.9" font-family="Liberation Sans" font-size="22.2" fill="#000">e</text>
<text x="469" y="402.6" font-family="Liberation Sans" font-size="13.3" fill="#111" textLength="174" lengthAdjust="spacingAndGlyphs" stroke="#111" stroke-width="0.22">SERS intensity (cts·(mW·s)<tspan font-size="9.5" dy="-5.5">-1</tspan><tspan dy="5.5">)</tspan></text>
<text transform="translate(674.2,135.2) rotate(90)" font-family="Liberation Sans" font-size="13.4" fill="#111" textLength="108.5" lengthAdjust="spacingAndGlyphs" stroke="#111" stroke-width="0.22">Frequency (x 100)</text>
</svg>
</body></html>
